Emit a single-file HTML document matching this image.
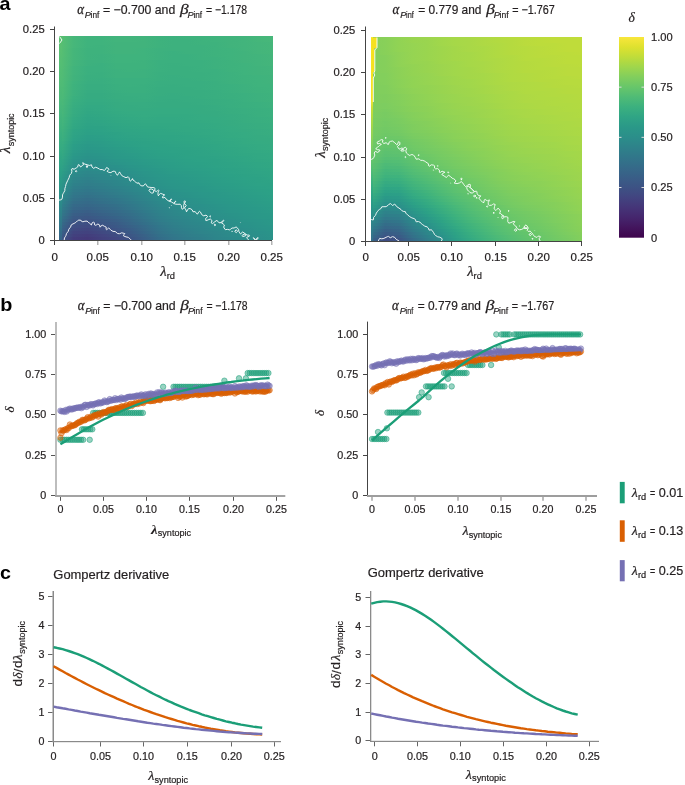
<!DOCTYPE html>
<html><head><meta charset="utf-8"><style>html,body{margin:0;padding:0;background:#fff;overflow:hidden}svg{display:block;will-change:transform}text{-webkit-font-smoothing:antialiased}</style></head>
<body><svg width="685" height="785" viewBox="0 0 685 785"><defs><linearGradient id="h1"><stop offset="0.000" stop-color="#5cc170"/><stop offset="0.067" stop-color="#47b77a"/><stop offset="0.133" stop-color="#41b37c"/><stop offset="0.200" stop-color="#3fb37d"/><stop offset="0.267" stop-color="#42b47c"/><stop offset="0.333" stop-color="#42b47c"/><stop offset="0.400" stop-color="#41b37c"/><stop offset="0.467" stop-color="#3eb27d"/><stop offset="0.533" stop-color="#3db17e"/><stop offset="0.600" stop-color="#3eb27d"/><stop offset="0.667" stop-color="#3eb27d"/><stop offset="0.733" stop-color="#3fb37d"/><stop offset="0.800" stop-color="#41b37c"/><stop offset="0.867" stop-color="#42b47c"/><stop offset="0.933" stop-color="#45b67a"/><stop offset="1.000" stop-color="#47b77a"/></linearGradient><linearGradient id="h2"><stop offset="0.000" stop-color="#5ac071"/><stop offset="0.067" stop-color="#47b77a"/><stop offset="0.133" stop-color="#3fb37d"/><stop offset="0.200" stop-color="#3fb37d"/><stop offset="0.267" stop-color="#42b47c"/><stop offset="0.333" stop-color="#42b47c"/><stop offset="0.400" stop-color="#41b37c"/><stop offset="0.467" stop-color="#3eb27d"/><stop offset="0.533" stop-color="#3db17e"/><stop offset="0.600" stop-color="#3db17e"/><stop offset="0.667" stop-color="#3eb27d"/><stop offset="0.733" stop-color="#3fb37d"/><stop offset="0.800" stop-color="#41b37c"/><stop offset="0.867" stop-color="#42b47c"/><stop offset="0.933" stop-color="#45b67a"/><stop offset="1.000" stop-color="#47b77a"/></linearGradient><linearGradient id="h3"><stop offset="0.000" stop-color="#5ac071"/><stop offset="0.067" stop-color="#47b77a"/><stop offset="0.133" stop-color="#3fb37d"/><stop offset="0.200" stop-color="#3fb37d"/><stop offset="0.267" stop-color="#41b37c"/><stop offset="0.333" stop-color="#41b37c"/><stop offset="0.400" stop-color="#41b37c"/><stop offset="0.467" stop-color="#3eb27d"/><stop offset="0.533" stop-color="#3db17e"/><stop offset="0.600" stop-color="#3db17e"/><stop offset="0.667" stop-color="#3eb27d"/><stop offset="0.733" stop-color="#3eb27d"/><stop offset="0.800" stop-color="#41b37c"/><stop offset="0.867" stop-color="#42b47c"/><stop offset="0.933" stop-color="#44b57b"/><stop offset="1.000" stop-color="#45b67a"/></linearGradient><linearGradient id="h4"><stop offset="0.000" stop-color="#5ac071"/><stop offset="0.067" stop-color="#47b77a"/><stop offset="0.133" stop-color="#3fb37d"/><stop offset="0.200" stop-color="#3eb27d"/><stop offset="0.267" stop-color="#41b37c"/><stop offset="0.333" stop-color="#41b37c"/><stop offset="0.400" stop-color="#41b37c"/><stop offset="0.467" stop-color="#3eb27d"/><stop offset="0.533" stop-color="#3db17e"/><stop offset="0.600" stop-color="#3db17e"/><stop offset="0.667" stop-color="#3db17e"/><stop offset="0.733" stop-color="#3eb27d"/><stop offset="0.800" stop-color="#41b37c"/><stop offset="0.867" stop-color="#42b47c"/><stop offset="0.933" stop-color="#44b57b"/><stop offset="1.000" stop-color="#45b67a"/></linearGradient><linearGradient id="h5"><stop offset="0.000" stop-color="#5ac071"/><stop offset="0.067" stop-color="#45b67a"/><stop offset="0.133" stop-color="#3eb27d"/><stop offset="0.200" stop-color="#3eb27d"/><stop offset="0.267" stop-color="#41b37c"/><stop offset="0.333" stop-color="#41b37c"/><stop offset="0.400" stop-color="#3fb37d"/><stop offset="0.467" stop-color="#3db17e"/><stop offset="0.533" stop-color="#3db17e"/><stop offset="0.600" stop-color="#3db17e"/><stop offset="0.667" stop-color="#3db17e"/><stop offset="0.733" stop-color="#3eb27d"/><stop offset="0.800" stop-color="#3fb37d"/><stop offset="0.867" stop-color="#42b47c"/><stop offset="0.933" stop-color="#44b57b"/><stop offset="1.000" stop-color="#45b67a"/></linearGradient><linearGradient id="h6"><stop offset="0.000" stop-color="#5ac071"/><stop offset="0.067" stop-color="#45b67a"/><stop offset="0.133" stop-color="#3eb27d"/><stop offset="0.200" stop-color="#3eb27d"/><stop offset="0.267" stop-color="#41b37c"/><stop offset="0.333" stop-color="#41b37c"/><stop offset="0.400" stop-color="#3fb37d"/><stop offset="0.467" stop-color="#3db17e"/><stop offset="0.533" stop-color="#3bb07f"/><stop offset="0.600" stop-color="#3db17e"/><stop offset="0.667" stop-color="#3db17e"/><stop offset="0.733" stop-color="#3eb27d"/><stop offset="0.800" stop-color="#3fb37d"/><stop offset="0.867" stop-color="#41b37c"/><stop offset="0.933" stop-color="#44b57b"/><stop offset="1.000" stop-color="#45b67a"/></linearGradient><linearGradient id="h7"><stop offset="0.000" stop-color="#5ac071"/><stop offset="0.067" stop-color="#45b67a"/><stop offset="0.133" stop-color="#3eb27d"/><stop offset="0.200" stop-color="#3db17e"/><stop offset="0.267" stop-color="#3fb37d"/><stop offset="0.333" stop-color="#3fb37d"/><stop offset="0.400" stop-color="#3fb37d"/><stop offset="0.467" stop-color="#3db17e"/><stop offset="0.533" stop-color="#3bb07f"/><stop offset="0.600" stop-color="#3bb07f"/><stop offset="0.667" stop-color="#3db17e"/><stop offset="0.733" stop-color="#3eb27d"/><stop offset="0.800" stop-color="#3fb37d"/><stop offset="0.867" stop-color="#41b37c"/><stop offset="0.933" stop-color="#42b47c"/><stop offset="1.000" stop-color="#44b57b"/></linearGradient><linearGradient id="h8"><stop offset="0.000" stop-color="#58bf72"/><stop offset="0.067" stop-color="#45b67a"/><stop offset="0.133" stop-color="#3eb27d"/><stop offset="0.200" stop-color="#3db17e"/><stop offset="0.267" stop-color="#3fb37d"/><stop offset="0.333" stop-color="#3fb37d"/><stop offset="0.400" stop-color="#3fb37d"/><stop offset="0.467" stop-color="#3db17e"/><stop offset="0.533" stop-color="#3bb07f"/><stop offset="0.600" stop-color="#3bb07f"/><stop offset="0.667" stop-color="#3db17e"/><stop offset="0.733" stop-color="#3db17e"/><stop offset="0.800" stop-color="#3fb37d"/><stop offset="0.867" stop-color="#41b37c"/><stop offset="0.933" stop-color="#42b47c"/><stop offset="1.000" stop-color="#44b57b"/></linearGradient><linearGradient id="h9"><stop offset="0.000" stop-color="#58bf72"/><stop offset="0.067" stop-color="#44b57b"/><stop offset="0.133" stop-color="#3db17e"/><stop offset="0.200" stop-color="#3db17e"/><stop offset="0.267" stop-color="#3fb37d"/><stop offset="0.333" stop-color="#3fb37d"/><stop offset="0.400" stop-color="#3eb27d"/><stop offset="0.467" stop-color="#3bb07f"/><stop offset="0.533" stop-color="#3bb07f"/><stop offset="0.600" stop-color="#3bb07f"/><stop offset="0.667" stop-color="#3bb07f"/><stop offset="0.733" stop-color="#3db17e"/><stop offset="0.800" stop-color="#3eb27d"/><stop offset="0.867" stop-color="#41b37c"/><stop offset="0.933" stop-color="#42b47c"/><stop offset="1.000" stop-color="#44b57b"/></linearGradient><linearGradient id="h10"><stop offset="0.000" stop-color="#58bf72"/><stop offset="0.067" stop-color="#44b57b"/><stop offset="0.133" stop-color="#3db17e"/><stop offset="0.200" stop-color="#3bb07f"/><stop offset="0.267" stop-color="#3eb27d"/><stop offset="0.333" stop-color="#3eb27d"/><stop offset="0.400" stop-color="#3eb27d"/><stop offset="0.467" stop-color="#3bb07f"/><stop offset="0.533" stop-color="#3aaf7f"/><stop offset="0.600" stop-color="#3bb07f"/><stop offset="0.667" stop-color="#3bb07f"/><stop offset="0.733" stop-color="#3db17e"/><stop offset="0.800" stop-color="#3eb27d"/><stop offset="0.867" stop-color="#3fb37d"/><stop offset="0.933" stop-color="#42b47c"/><stop offset="1.000" stop-color="#44b57b"/></linearGradient><linearGradient id="h11"><stop offset="0.000" stop-color="#58bf72"/><stop offset="0.067" stop-color="#42b47c"/><stop offset="0.133" stop-color="#3bb07f"/><stop offset="0.200" stop-color="#3bb07f"/><stop offset="0.267" stop-color="#3eb27d"/><stop offset="0.333" stop-color="#3eb27d"/><stop offset="0.400" stop-color="#3eb27d"/><stop offset="0.467" stop-color="#3bb07f"/><stop offset="0.533" stop-color="#3aaf7f"/><stop offset="0.600" stop-color="#3aaf7f"/><stop offset="0.667" stop-color="#3bb07f"/><stop offset="0.733" stop-color="#3db17e"/><stop offset="0.800" stop-color="#3eb27d"/><stop offset="0.867" stop-color="#3fb37d"/><stop offset="0.933" stop-color="#41b37c"/><stop offset="1.000" stop-color="#42b47c"/></linearGradient><linearGradient id="h12"><stop offset="0.000" stop-color="#56be73"/><stop offset="0.067" stop-color="#42b47c"/><stop offset="0.133" stop-color="#3bb07f"/><stop offset="0.200" stop-color="#3bb07f"/><stop offset="0.267" stop-color="#3db17e"/><stop offset="0.333" stop-color="#3eb27d"/><stop offset="0.400" stop-color="#3db17e"/><stop offset="0.467" stop-color="#3bb07f"/><stop offset="0.533" stop-color="#3aaf7f"/><stop offset="0.600" stop-color="#3aaf7f"/><stop offset="0.667" stop-color="#3bb07f"/><stop offset="0.733" stop-color="#3bb07f"/><stop offset="0.800" stop-color="#3eb27d"/><stop offset="0.867" stop-color="#3fb37d"/><stop offset="0.933" stop-color="#41b37c"/><stop offset="1.000" stop-color="#42b47c"/></linearGradient><linearGradient id="h13"><stop offset="0.000" stop-color="#56be73"/><stop offset="0.067" stop-color="#42b47c"/><stop offset="0.133" stop-color="#3bb07f"/><stop offset="0.200" stop-color="#3aaf7f"/><stop offset="0.267" stop-color="#3db17e"/><stop offset="0.333" stop-color="#3db17e"/><stop offset="0.400" stop-color="#3db17e"/><stop offset="0.467" stop-color="#3aaf7f"/><stop offset="0.533" stop-color="#3aaf7f"/><stop offset="0.600" stop-color="#3aaf7f"/><stop offset="0.667" stop-color="#3aaf7f"/><stop offset="0.733" stop-color="#3bb07f"/><stop offset="0.800" stop-color="#3db17e"/><stop offset="0.867" stop-color="#3fb37d"/><stop offset="0.933" stop-color="#41b37c"/><stop offset="1.000" stop-color="#42b47c"/></linearGradient><linearGradient id="h14"><stop offset="0.000" stop-color="#56be73"/><stop offset="0.067" stop-color="#41b37c"/><stop offset="0.133" stop-color="#3aaf7f"/><stop offset="0.200" stop-color="#3aaf7f"/><stop offset="0.267" stop-color="#3db17e"/><stop offset="0.333" stop-color="#3db17e"/><stop offset="0.400" stop-color="#3db17e"/><stop offset="0.467" stop-color="#3aaf7f"/><stop offset="0.533" stop-color="#39ae80"/><stop offset="0.600" stop-color="#3aaf7f"/><stop offset="0.667" stop-color="#3aaf7f"/><stop offset="0.733" stop-color="#3bb07f"/><stop offset="0.800" stop-color="#3db17e"/><stop offset="0.867" stop-color="#3eb27d"/><stop offset="0.933" stop-color="#3fb37d"/><stop offset="1.000" stop-color="#41b37c"/></linearGradient><linearGradient id="h15"><stop offset="0.000" stop-color="#54be74"/><stop offset="0.067" stop-color="#41b37c"/><stop offset="0.133" stop-color="#3aaf7f"/><stop offset="0.200" stop-color="#39ae80"/><stop offset="0.267" stop-color="#3bb07f"/><stop offset="0.333" stop-color="#3bb07f"/><stop offset="0.400" stop-color="#3bb07f"/><stop offset="0.467" stop-color="#3aaf7f"/><stop offset="0.533" stop-color="#39ae80"/><stop offset="0.600" stop-color="#39ae80"/><stop offset="0.667" stop-color="#3aaf7f"/><stop offset="0.733" stop-color="#3bb07f"/><stop offset="0.800" stop-color="#3db17e"/><stop offset="0.867" stop-color="#3eb27d"/><stop offset="0.933" stop-color="#3fb37d"/><stop offset="1.000" stop-color="#41b37c"/></linearGradient><linearGradient id="h16"><stop offset="0.000" stop-color="#54be74"/><stop offset="0.067" stop-color="#3fb37d"/><stop offset="0.133" stop-color="#39ae80"/><stop offset="0.200" stop-color="#39ae80"/><stop offset="0.267" stop-color="#3bb07f"/><stop offset="0.333" stop-color="#3bb07f"/><stop offset="0.400" stop-color="#3bb07f"/><stop offset="0.467" stop-color="#39ae80"/><stop offset="0.533" stop-color="#39ae80"/><stop offset="0.600" stop-color="#39ae80"/><stop offset="0.667" stop-color="#39ae80"/><stop offset="0.733" stop-color="#3aaf7f"/><stop offset="0.800" stop-color="#3db17e"/><stop offset="0.867" stop-color="#3eb27d"/><stop offset="0.933" stop-color="#3fb37d"/><stop offset="1.000" stop-color="#41b37c"/></linearGradient><linearGradient id="h17"><stop offset="0.000" stop-color="#54be74"/><stop offset="0.067" stop-color="#3eb27d"/><stop offset="0.133" stop-color="#38ad80"/><stop offset="0.200" stop-color="#38ad80"/><stop offset="0.267" stop-color="#3aaf7f"/><stop offset="0.333" stop-color="#3bb07f"/><stop offset="0.400" stop-color="#3aaf7f"/><stop offset="0.467" stop-color="#39ae80"/><stop offset="0.533" stop-color="#38ad80"/><stop offset="0.600" stop-color="#39ae80"/><stop offset="0.667" stop-color="#39ae80"/><stop offset="0.733" stop-color="#3aaf7f"/><stop offset="0.800" stop-color="#3bb07f"/><stop offset="0.867" stop-color="#3db17e"/><stop offset="0.933" stop-color="#3fb37d"/><stop offset="1.000" stop-color="#3fb37d"/></linearGradient><linearGradient id="h18"><stop offset="0.000" stop-color="#52bd74"/><stop offset="0.067" stop-color="#3eb27d"/><stop offset="0.133" stop-color="#38ad80"/><stop offset="0.200" stop-color="#38ad80"/><stop offset="0.267" stop-color="#3aaf7f"/><stop offset="0.333" stop-color="#3aaf7f"/><stop offset="0.400" stop-color="#3aaf7f"/><stop offset="0.467" stop-color="#38ad80"/><stop offset="0.533" stop-color="#38ad80"/><stop offset="0.600" stop-color="#38ad80"/><stop offset="0.667" stop-color="#39ae80"/><stop offset="0.733" stop-color="#3aaf7f"/><stop offset="0.800" stop-color="#3bb07f"/><stop offset="0.867" stop-color="#3db17e"/><stop offset="0.933" stop-color="#3eb27d"/><stop offset="1.000" stop-color="#3fb37d"/></linearGradient><linearGradient id="h19"><stop offset="0.000" stop-color="#52bd74"/><stop offset="0.067" stop-color="#3db17e"/><stop offset="0.133" stop-color="#37ac81"/><stop offset="0.200" stop-color="#37ac81"/><stop offset="0.267" stop-color="#39ae80"/><stop offset="0.333" stop-color="#3aaf7f"/><stop offset="0.400" stop-color="#3aaf7f"/><stop offset="0.467" stop-color="#38ad80"/><stop offset="0.533" stop-color="#38ad80"/><stop offset="0.600" stop-color="#38ad80"/><stop offset="0.667" stop-color="#38ad80"/><stop offset="0.733" stop-color="#39ae80"/><stop offset="0.800" stop-color="#3bb07f"/><stop offset="0.867" stop-color="#3db17e"/><stop offset="0.933" stop-color="#3eb27d"/><stop offset="1.000" stop-color="#3fb37d"/></linearGradient><linearGradient id="h20"><stop offset="0.000" stop-color="#51bc75"/><stop offset="0.067" stop-color="#3db17e"/><stop offset="0.133" stop-color="#36ab81"/><stop offset="0.200" stop-color="#36ab81"/><stop offset="0.267" stop-color="#38ad80"/><stop offset="0.333" stop-color="#39ae80"/><stop offset="0.400" stop-color="#39ae80"/><stop offset="0.467" stop-color="#38ad80"/><stop offset="0.533" stop-color="#37ac81"/><stop offset="0.600" stop-color="#38ad80"/><stop offset="0.667" stop-color="#38ad80"/><stop offset="0.733" stop-color="#39ae80"/><stop offset="0.800" stop-color="#3aaf7f"/><stop offset="0.867" stop-color="#3bb07f"/><stop offset="0.933" stop-color="#3db17e"/><stop offset="1.000" stop-color="#3eb27d"/></linearGradient><linearGradient id="h21"><stop offset="0.000" stop-color="#51bc75"/><stop offset="0.067" stop-color="#3bb07f"/><stop offset="0.133" stop-color="#36ab81"/><stop offset="0.200" stop-color="#36ab81"/><stop offset="0.267" stop-color="#38ad80"/><stop offset="0.333" stop-color="#38ad80"/><stop offset="0.400" stop-color="#39ae80"/><stop offset="0.467" stop-color="#37ac81"/><stop offset="0.533" stop-color="#37ac81"/><stop offset="0.600" stop-color="#37ac81"/><stop offset="0.667" stop-color="#38ad80"/><stop offset="0.733" stop-color="#39ae80"/><stop offset="0.800" stop-color="#3aaf7f"/><stop offset="0.867" stop-color="#3bb07f"/><stop offset="0.933" stop-color="#3db17e"/><stop offset="1.000" stop-color="#3eb27d"/></linearGradient><linearGradient id="h22"><stop offset="0.000" stop-color="#4fbb76"/><stop offset="0.067" stop-color="#3aaf7f"/><stop offset="0.133" stop-color="#35ab82"/><stop offset="0.200" stop-color="#35ab82"/><stop offset="0.267" stop-color="#37ac81"/><stop offset="0.333" stop-color="#38ad80"/><stop offset="0.400" stop-color="#38ad80"/><stop offset="0.467" stop-color="#37ac81"/><stop offset="0.533" stop-color="#36ab81"/><stop offset="0.600" stop-color="#37ac81"/><stop offset="0.667" stop-color="#37ac81"/><stop offset="0.733" stop-color="#38ad80"/><stop offset="0.800" stop-color="#39ae80"/><stop offset="0.867" stop-color="#3bb07f"/><stop offset="0.933" stop-color="#3db17e"/><stop offset="1.000" stop-color="#3eb27d"/></linearGradient><linearGradient id="h23"><stop offset="0.000" stop-color="#4fbb76"/><stop offset="0.067" stop-color="#39ae80"/><stop offset="0.133" stop-color="#34aa82"/><stop offset="0.200" stop-color="#34aa82"/><stop offset="0.267" stop-color="#36ab81"/><stop offset="0.333" stop-color="#37ac81"/><stop offset="0.400" stop-color="#37ac81"/><stop offset="0.467" stop-color="#36ab81"/><stop offset="0.533" stop-color="#36ab81"/><stop offset="0.600" stop-color="#36ab81"/><stop offset="0.667" stop-color="#37ac81"/><stop offset="0.733" stop-color="#38ad80"/><stop offset="0.800" stop-color="#39ae80"/><stop offset="0.867" stop-color="#3aaf7f"/><stop offset="0.933" stop-color="#3bb07f"/><stop offset="1.000" stop-color="#3db17e"/></linearGradient><linearGradient id="h24"><stop offset="0.000" stop-color="#4dba77"/><stop offset="0.067" stop-color="#38ad80"/><stop offset="0.133" stop-color="#33a983"/><stop offset="0.200" stop-color="#33a983"/><stop offset="0.267" stop-color="#36ab81"/><stop offset="0.333" stop-color="#36ab81"/><stop offset="0.400" stop-color="#37ac81"/><stop offset="0.467" stop-color="#36ab81"/><stop offset="0.533" stop-color="#36ab81"/><stop offset="0.600" stop-color="#36ab81"/><stop offset="0.667" stop-color="#36ab81"/><stop offset="0.733" stop-color="#37ac81"/><stop offset="0.800" stop-color="#39ae80"/><stop offset="0.867" stop-color="#3aaf7f"/><stop offset="0.933" stop-color="#3bb07f"/><stop offset="1.000" stop-color="#3db17e"/></linearGradient><linearGradient id="h25"><stop offset="0.000" stop-color="#4cb977"/><stop offset="0.067" stop-color="#37ac81"/><stop offset="0.133" stop-color="#32a883"/><stop offset="0.200" stop-color="#33a983"/><stop offset="0.267" stop-color="#35ab82"/><stop offset="0.333" stop-color="#36ab81"/><stop offset="0.400" stop-color="#36ab81"/><stop offset="0.467" stop-color="#35ab82"/><stop offset="0.533" stop-color="#35ab82"/><stop offset="0.600" stop-color="#35ab82"/><stop offset="0.667" stop-color="#36ab81"/><stop offset="0.733" stop-color="#37ac81"/><stop offset="0.800" stop-color="#38ad80"/><stop offset="0.867" stop-color="#39ae80"/><stop offset="0.933" stop-color="#3aaf7f"/><stop offset="1.000" stop-color="#3bb07f"/></linearGradient><linearGradient id="h26"><stop offset="0.000" stop-color="#4cb977"/><stop offset="0.067" stop-color="#37ac81"/><stop offset="0.133" stop-color="#31a783"/><stop offset="0.200" stop-color="#32a883"/><stop offset="0.267" stop-color="#34aa82"/><stop offset="0.333" stop-color="#35ab82"/><stop offset="0.400" stop-color="#35ab82"/><stop offset="0.467" stop-color="#35ab82"/><stop offset="0.533" stop-color="#35ab82"/><stop offset="0.600" stop-color="#35ab82"/><stop offset="0.667" stop-color="#36ab81"/><stop offset="0.733" stop-color="#36ab81"/><stop offset="0.800" stop-color="#38ad80"/><stop offset="0.867" stop-color="#39ae80"/><stop offset="0.933" stop-color="#3aaf7f"/><stop offset="1.000" stop-color="#3bb07f"/></linearGradient><linearGradient id="h27"><stop offset="0.000" stop-color="#4ab978"/><stop offset="0.067" stop-color="#36ab81"/><stop offset="0.133" stop-color="#30a684"/><stop offset="0.200" stop-color="#31a783"/><stop offset="0.267" stop-color="#33a983"/><stop offset="0.333" stop-color="#34aa82"/><stop offset="0.400" stop-color="#35ab82"/><stop offset="0.467" stop-color="#34aa82"/><stop offset="0.533" stop-color="#34aa82"/><stop offset="0.600" stop-color="#34aa82"/><stop offset="0.667" stop-color="#35ab82"/><stop offset="0.733" stop-color="#36ab81"/><stop offset="0.800" stop-color="#37ac81"/><stop offset="0.867" stop-color="#38ad80"/><stop offset="0.933" stop-color="#3aaf7f"/><stop offset="1.000" stop-color="#3bb07f"/></linearGradient><linearGradient id="h28"><stop offset="0.000" stop-color="#48b879"/><stop offset="0.067" stop-color="#34aa82"/><stop offset="0.133" stop-color="#2fa584"/><stop offset="0.200" stop-color="#30a684"/><stop offset="0.267" stop-color="#32a883"/><stop offset="0.333" stop-color="#33a983"/><stop offset="0.400" stop-color="#34aa82"/><stop offset="0.467" stop-color="#33a983"/><stop offset="0.533" stop-color="#33a983"/><stop offset="0.600" stop-color="#34aa82"/><stop offset="0.667" stop-color="#35ab82"/><stop offset="0.733" stop-color="#35ab82"/><stop offset="0.800" stop-color="#37ac81"/><stop offset="0.867" stop-color="#38ad80"/><stop offset="0.933" stop-color="#39ae80"/><stop offset="1.000" stop-color="#3aaf7f"/></linearGradient><linearGradient id="h29"><stop offset="0.000" stop-color="#48b879"/><stop offset="0.067" stop-color="#33a983"/><stop offset="0.133" stop-color="#2fa485"/><stop offset="0.200" stop-color="#2fa584"/><stop offset="0.267" stop-color="#31a783"/><stop offset="0.333" stop-color="#32a883"/><stop offset="0.400" stop-color="#33a983"/><stop offset="0.467" stop-color="#33a983"/><stop offset="0.533" stop-color="#33a983"/><stop offset="0.600" stop-color="#33a983"/><stop offset="0.667" stop-color="#34aa82"/><stop offset="0.733" stop-color="#35ab82"/><stop offset="0.800" stop-color="#36ab81"/><stop offset="0.867" stop-color="#38ad80"/><stop offset="0.933" stop-color="#39ae80"/><stop offset="1.000" stop-color="#3aaf7f"/></linearGradient><linearGradient id="h30"><stop offset="0.000" stop-color="#47b77a"/><stop offset="0.067" stop-color="#32a883"/><stop offset="0.133" stop-color="#2ea385"/><stop offset="0.200" stop-color="#2fa485"/><stop offset="0.267" stop-color="#30a684"/><stop offset="0.333" stop-color="#31a783"/><stop offset="0.400" stop-color="#32a883"/><stop offset="0.467" stop-color="#32a883"/><stop offset="0.533" stop-color="#32a883"/><stop offset="0.600" stop-color="#33a983"/><stop offset="0.667" stop-color="#33a983"/><stop offset="0.733" stop-color="#34aa82"/><stop offset="0.800" stop-color="#36ab81"/><stop offset="0.867" stop-color="#37ac81"/><stop offset="0.933" stop-color="#38ad80"/><stop offset="1.000" stop-color="#39ae80"/></linearGradient><linearGradient id="h31"><stop offset="0.000" stop-color="#45b67a"/><stop offset="0.067" stop-color="#31a783"/><stop offset="0.133" stop-color="#2da285"/><stop offset="0.200" stop-color="#2da285"/><stop offset="0.267" stop-color="#2fa584"/><stop offset="0.333" stop-color="#30a684"/><stop offset="0.400" stop-color="#31a783"/><stop offset="0.467" stop-color="#31a783"/><stop offset="0.533" stop-color="#32a883"/><stop offset="0.600" stop-color="#32a883"/><stop offset="0.667" stop-color="#33a983"/><stop offset="0.733" stop-color="#34aa82"/><stop offset="0.800" stop-color="#35ab82"/><stop offset="0.867" stop-color="#37ac81"/><stop offset="0.933" stop-color="#38ad80"/><stop offset="1.000" stop-color="#39ae80"/></linearGradient><linearGradient id="h32"><stop offset="0.000" stop-color="#44b57b"/><stop offset="0.067" stop-color="#2fa584"/><stop offset="0.133" stop-color="#2ca186"/><stop offset="0.200" stop-color="#2da286"/><stop offset="0.267" stop-color="#2fa485"/><stop offset="0.333" stop-color="#2fa584"/><stop offset="0.400" stop-color="#30a684"/><stop offset="0.467" stop-color="#30a684"/><stop offset="0.533" stop-color="#31a783"/><stop offset="0.600" stop-color="#32a883"/><stop offset="0.667" stop-color="#32a883"/><stop offset="0.733" stop-color="#33a983"/><stop offset="0.800" stop-color="#35ab82"/><stop offset="0.867" stop-color="#36ab81"/><stop offset="0.933" stop-color="#37ac81"/><stop offset="1.000" stop-color="#38ad80"/></linearGradient><linearGradient id="h33"><stop offset="0.000" stop-color="#42b47c"/><stop offset="0.067" stop-color="#2fa485"/><stop offset="0.133" stop-color="#2ca086"/><stop offset="0.200" stop-color="#2ca186"/><stop offset="0.267" stop-color="#2da285"/><stop offset="0.333" stop-color="#2fa485"/><stop offset="0.400" stop-color="#2fa584"/><stop offset="0.467" stop-color="#30a684"/><stop offset="0.533" stop-color="#30a684"/><stop offset="0.600" stop-color="#31a783"/><stop offset="0.667" stop-color="#32a883"/><stop offset="0.733" stop-color="#33a983"/><stop offset="0.800" stop-color="#34aa82"/><stop offset="0.867" stop-color="#35ab82"/><stop offset="0.933" stop-color="#37ac81"/><stop offset="1.000" stop-color="#38ad80"/></linearGradient><linearGradient id="h34"><stop offset="0.000" stop-color="#41b37c"/><stop offset="0.067" stop-color="#2ea385"/><stop offset="0.133" stop-color="#2b9e87"/><stop offset="0.200" stop-color="#2c9f87"/><stop offset="0.267" stop-color="#2da286"/><stop offset="0.333" stop-color="#2ea385"/><stop offset="0.400" stop-color="#2fa485"/><stop offset="0.467" stop-color="#2fa584"/><stop offset="0.533" stop-color="#2fa584"/><stop offset="0.600" stop-color="#30a684"/><stop offset="0.667" stop-color="#31a783"/><stop offset="0.733" stop-color="#32a883"/><stop offset="0.800" stop-color="#34aa82"/><stop offset="0.867" stop-color="#35ab82"/><stop offset="0.933" stop-color="#36ab81"/><stop offset="1.000" stop-color="#37ac81"/></linearGradient><linearGradient id="h35"><stop offset="0.000" stop-color="#3fb37d"/><stop offset="0.067" stop-color="#2da286"/><stop offset="0.133" stop-color="#2b9d87"/><stop offset="0.200" stop-color="#2b9e87"/><stop offset="0.267" stop-color="#2ca186"/><stop offset="0.333" stop-color="#2da285"/><stop offset="0.400" stop-color="#2ea385"/><stop offset="0.467" stop-color="#2fa485"/><stop offset="0.533" stop-color="#2fa584"/><stop offset="0.600" stop-color="#30a684"/><stop offset="0.667" stop-color="#30a684"/><stop offset="0.733" stop-color="#32a883"/><stop offset="0.800" stop-color="#33a983"/><stop offset="0.867" stop-color="#34aa82"/><stop offset="0.933" stop-color="#36ab81"/><stop offset="1.000" stop-color="#36ab81"/></linearGradient><linearGradient id="h36"><stop offset="0.000" stop-color="#3db17e"/><stop offset="0.067" stop-color="#2ca086"/><stop offset="0.133" stop-color="#2b9b88"/><stop offset="0.200" stop-color="#2b9c87"/><stop offset="0.267" stop-color="#2c9f87"/><stop offset="0.333" stop-color="#2ca186"/><stop offset="0.400" stop-color="#2da285"/><stop offset="0.467" stop-color="#2ea385"/><stop offset="0.533" stop-color="#2fa485"/><stop offset="0.600" stop-color="#2fa584"/><stop offset="0.667" stop-color="#30a684"/><stop offset="0.733" stop-color="#31a783"/><stop offset="0.800" stop-color="#32a883"/><stop offset="0.867" stop-color="#34aa82"/><stop offset="0.933" stop-color="#35ab82"/><stop offset="1.000" stop-color="#36ab81"/></linearGradient><linearGradient id="h37"><stop offset="0.000" stop-color="#3bb07f"/><stop offset="0.067" stop-color="#2b9e87"/><stop offset="0.133" stop-color="#2a9988"/><stop offset="0.200" stop-color="#2b9b88"/><stop offset="0.267" stop-color="#2b9e87"/><stop offset="0.333" stop-color="#2ca086"/><stop offset="0.400" stop-color="#2da286"/><stop offset="0.467" stop-color="#2da285"/><stop offset="0.533" stop-color="#2ea385"/><stop offset="0.600" stop-color="#2fa485"/><stop offset="0.667" stop-color="#2fa584"/><stop offset="0.733" stop-color="#30a684"/><stop offset="0.800" stop-color="#32a883"/><stop offset="0.867" stop-color="#33a983"/><stop offset="0.933" stop-color="#34aa82"/><stop offset="1.000" stop-color="#35ab82"/></linearGradient><linearGradient id="h38"><stop offset="0.000" stop-color="#3aaf7f"/><stop offset="0.067" stop-color="#2b9d87"/><stop offset="0.133" stop-color="#2a9888"/><stop offset="0.200" stop-color="#2a9988"/><stop offset="0.267" stop-color="#2b9c87"/><stop offset="0.333" stop-color="#2b9e87"/><stop offset="0.400" stop-color="#2ca186"/><stop offset="0.467" stop-color="#2da286"/><stop offset="0.533" stop-color="#2da285"/><stop offset="0.600" stop-color="#2ea385"/><stop offset="0.667" stop-color="#2fa485"/><stop offset="0.733" stop-color="#30a684"/><stop offset="0.800" stop-color="#31a783"/><stop offset="0.867" stop-color="#32a883"/><stop offset="0.933" stop-color="#34aa82"/><stop offset="1.000" stop-color="#35ab82"/></linearGradient><linearGradient id="h39"><stop offset="0.000" stop-color="#38ad80"/><stop offset="0.067" stop-color="#2b9b88"/><stop offset="0.133" stop-color="#2a9689"/><stop offset="0.200" stop-color="#2a9888"/><stop offset="0.267" stop-color="#2a9a88"/><stop offset="0.333" stop-color="#2b9d87"/><stop offset="0.400" stop-color="#2c9f87"/><stop offset="0.467" stop-color="#2ca186"/><stop offset="0.533" stop-color="#2da286"/><stop offset="0.600" stop-color="#2da285"/><stop offset="0.667" stop-color="#2ea385"/><stop offset="0.733" stop-color="#2fa584"/><stop offset="0.800" stop-color="#30a684"/><stop offset="0.867" stop-color="#32a883"/><stop offset="0.933" stop-color="#33a983"/><stop offset="1.000" stop-color="#34aa82"/></linearGradient><linearGradient id="h40"><stop offset="0.000" stop-color="#37ac81"/><stop offset="0.067" stop-color="#2a9988"/><stop offset="0.133" stop-color="#2a9489"/><stop offset="0.200" stop-color="#2a9689"/><stop offset="0.267" stop-color="#2a9988"/><stop offset="0.333" stop-color="#2b9b88"/><stop offset="0.400" stop-color="#2b9e87"/><stop offset="0.467" stop-color="#2ca086"/><stop offset="0.533" stop-color="#2ca186"/><stop offset="0.600" stop-color="#2da285"/><stop offset="0.667" stop-color="#2ea385"/><stop offset="0.733" stop-color="#2fa485"/><stop offset="0.800" stop-color="#30a684"/><stop offset="0.867" stop-color="#31a783"/><stop offset="0.933" stop-color="#32a883"/><stop offset="1.000" stop-color="#33a983"/></linearGradient><linearGradient id="h41"><stop offset="0.000" stop-color="#35ab82"/><stop offset="0.067" stop-color="#2a9789"/><stop offset="0.133" stop-color="#2a9289"/><stop offset="0.200" stop-color="#2a9489"/><stop offset="0.267" stop-color="#2a9888"/><stop offset="0.333" stop-color="#2a9a88"/><stop offset="0.400" stop-color="#2b9d87"/><stop offset="0.467" stop-color="#2c9f87"/><stop offset="0.533" stop-color="#2ca086"/><stop offset="0.600" stop-color="#2da286"/><stop offset="0.667" stop-color="#2da285"/><stop offset="0.733" stop-color="#2ea385"/><stop offset="0.800" stop-color="#2fa584"/><stop offset="0.867" stop-color="#30a684"/><stop offset="0.933" stop-color="#32a883"/><stop offset="1.000" stop-color="#33a983"/></linearGradient><linearGradient id="h42"><stop offset="0.000" stop-color="#33a983"/><stop offset="0.067" stop-color="#2a9589"/><stop offset="0.133" stop-color="#2b908a"/><stop offset="0.200" stop-color="#2a9289"/><stop offset="0.267" stop-color="#2a9689"/><stop offset="0.333" stop-color="#2a9888"/><stop offset="0.400" stop-color="#2b9b88"/><stop offset="0.467" stop-color="#2b9d87"/><stop offset="0.533" stop-color="#2c9f87"/><stop offset="0.600" stop-color="#2ca186"/><stop offset="0.667" stop-color="#2da286"/><stop offset="0.733" stop-color="#2da285"/><stop offset="0.800" stop-color="#2fa485"/><stop offset="0.867" stop-color="#30a684"/><stop offset="0.933" stop-color="#31a783"/><stop offset="1.000" stop-color="#32a883"/></linearGradient><linearGradient id="h43"><stop offset="0.000" stop-color="#32a883"/><stop offset="0.067" stop-color="#2a9389"/><stop offset="0.133" stop-color="#2b8f8a"/><stop offset="0.200" stop-color="#2b908a"/><stop offset="0.267" stop-color="#2a9489"/><stop offset="0.333" stop-color="#2a9789"/><stop offset="0.400" stop-color="#2a9a88"/><stop offset="0.467" stop-color="#2b9c87"/><stop offset="0.533" stop-color="#2b9e87"/><stop offset="0.600" stop-color="#2ca086"/><stop offset="0.667" stop-color="#2ca186"/><stop offset="0.733" stop-color="#2da285"/><stop offset="0.800" stop-color="#2ea385"/><stop offset="0.867" stop-color="#2fa584"/><stop offset="0.933" stop-color="#30a684"/><stop offset="1.000" stop-color="#31a783"/></linearGradient><linearGradient id="h44"><stop offset="0.000" stop-color="#30a684"/><stop offset="0.067" stop-color="#2b908a"/><stop offset="0.133" stop-color="#2b8c8a"/><stop offset="0.200" stop-color="#2b8f8a"/><stop offset="0.267" stop-color="#2a918a"/><stop offset="0.333" stop-color="#2a9589"/><stop offset="0.400" stop-color="#2a9888"/><stop offset="0.467" stop-color="#2b9b88"/><stop offset="0.533" stop-color="#2b9d87"/><stop offset="0.600" stop-color="#2c9f87"/><stop offset="0.667" stop-color="#2ca086"/><stop offset="0.733" stop-color="#2da286"/><stop offset="0.800" stop-color="#2ea385"/><stop offset="0.867" stop-color="#2fa485"/><stop offset="0.933" stop-color="#30a684"/><stop offset="1.000" stop-color="#31a783"/></linearGradient><linearGradient id="h45"><stop offset="0.000" stop-color="#2fa485"/><stop offset="0.067" stop-color="#2b8f8a"/><stop offset="0.133" stop-color="#2c8a8a"/><stop offset="0.200" stop-color="#2b8d8a"/><stop offset="0.267" stop-color="#2b8f8a"/><stop offset="0.333" stop-color="#2a9389"/><stop offset="0.400" stop-color="#2a9789"/><stop offset="0.467" stop-color="#2a9988"/><stop offset="0.533" stop-color="#2b9c87"/><stop offset="0.600" stop-color="#2b9e87"/><stop offset="0.667" stop-color="#2c9f87"/><stop offset="0.733" stop-color="#2ca186"/><stop offset="0.800" stop-color="#2da285"/><stop offset="0.867" stop-color="#2ea385"/><stop offset="0.933" stop-color="#2fa584"/><stop offset="1.000" stop-color="#30a684"/></linearGradient><linearGradient id="h46"><stop offset="0.000" stop-color="#2da285"/><stop offset="0.067" stop-color="#2b8c8a"/><stop offset="0.133" stop-color="#2d878a"/><stop offset="0.200" stop-color="#2c8a8a"/><stop offset="0.267" stop-color="#2b8e8a"/><stop offset="0.333" stop-color="#2a918a"/><stop offset="0.400" stop-color="#2a9589"/><stop offset="0.467" stop-color="#2a9888"/><stop offset="0.533" stop-color="#2b9b88"/><stop offset="0.600" stop-color="#2b9c87"/><stop offset="0.667" stop-color="#2b9e87"/><stop offset="0.733" stop-color="#2ca086"/><stop offset="0.800" stop-color="#2da286"/><stop offset="0.867" stop-color="#2ea385"/><stop offset="0.933" stop-color="#2fa485"/><stop offset="1.000" stop-color="#2fa584"/></linearGradient><linearGradient id="h47"><stop offset="0.000" stop-color="#2ca086"/><stop offset="0.067" stop-color="#2c898a"/><stop offset="0.133" stop-color="#2d858a"/><stop offset="0.200" stop-color="#2d878a"/><stop offset="0.267" stop-color="#2c8b8a"/><stop offset="0.333" stop-color="#2b8f8a"/><stop offset="0.400" stop-color="#2a9489"/><stop offset="0.467" stop-color="#2a9789"/><stop offset="0.533" stop-color="#2a9988"/><stop offset="0.600" stop-color="#2b9b88"/><stop offset="0.667" stop-color="#2b9d87"/><stop offset="0.733" stop-color="#2c9f87"/><stop offset="0.800" stop-color="#2ca186"/><stop offset="0.867" stop-color="#2da285"/><stop offset="0.933" stop-color="#2ea385"/><stop offset="1.000" stop-color="#2fa584"/></linearGradient><linearGradient id="h48"><stop offset="0.000" stop-color="#2b9e87"/><stop offset="0.067" stop-color="#2d868a"/><stop offset="0.133" stop-color="#2e828a"/><stop offset="0.200" stop-color="#2d868a"/><stop offset="0.267" stop-color="#2c898a"/><stop offset="0.333" stop-color="#2b8e8a"/><stop offset="0.400" stop-color="#2a9289"/><stop offset="0.467" stop-color="#2a9689"/><stop offset="0.533" stop-color="#2a9888"/><stop offset="0.600" stop-color="#2a9a88"/><stop offset="0.667" stop-color="#2b9c87"/><stop offset="0.733" stop-color="#2b9e87"/><stop offset="0.800" stop-color="#2ca086"/><stop offset="0.867" stop-color="#2da286"/><stop offset="0.933" stop-color="#2da285"/><stop offset="1.000" stop-color="#2fa485"/></linearGradient><linearGradient id="h49"><stop offset="0.000" stop-color="#2b9c87"/><stop offset="0.067" stop-color="#2e848a"/><stop offset="0.133" stop-color="#2f7f8a"/><stop offset="0.200" stop-color="#2e838a"/><stop offset="0.267" stop-color="#2d868a"/><stop offset="0.333" stop-color="#2c8b8a"/><stop offset="0.400" stop-color="#2b908a"/><stop offset="0.467" stop-color="#2a9489"/><stop offset="0.533" stop-color="#2a9789"/><stop offset="0.600" stop-color="#2a9988"/><stop offset="0.667" stop-color="#2b9b88"/><stop offset="0.733" stop-color="#2b9d87"/><stop offset="0.800" stop-color="#2c9f87"/><stop offset="0.867" stop-color="#2ca186"/><stop offset="0.933" stop-color="#2da285"/><stop offset="1.000" stop-color="#2ea385"/></linearGradient><linearGradient id="h50"><stop offset="0.000" stop-color="#2a9988"/><stop offset="0.067" stop-color="#2e818a"/><stop offset="0.133" stop-color="#307d8a"/><stop offset="0.200" stop-color="#2f808a"/><stop offset="0.267" stop-color="#2d858a"/><stop offset="0.333" stop-color="#2c898a"/><stop offset="0.400" stop-color="#2b8f8a"/><stop offset="0.467" stop-color="#2a9389"/><stop offset="0.533" stop-color="#2a9689"/><stop offset="0.600" stop-color="#2a9888"/><stop offset="0.667" stop-color="#2a9a88"/><stop offset="0.733" stop-color="#2b9c87"/><stop offset="0.800" stop-color="#2b9e87"/><stop offset="0.867" stop-color="#2ca086"/><stop offset="0.933" stop-color="#2da286"/><stop offset="1.000" stop-color="#2da285"/></linearGradient><linearGradient id="h51"><stop offset="0.000" stop-color="#2a9789"/><stop offset="0.067" stop-color="#2f7e8a"/><stop offset="0.133" stop-color="#307a8a"/><stop offset="0.200" stop-color="#2f7e8a"/><stop offset="0.267" stop-color="#2e828a"/><stop offset="0.333" stop-color="#2d868a"/><stop offset="0.400" stop-color="#2b8c8a"/><stop offset="0.467" stop-color="#2a918a"/><stop offset="0.533" stop-color="#2a9589"/><stop offset="0.600" stop-color="#2a9789"/><stop offset="0.667" stop-color="#2a9888"/><stop offset="0.733" stop-color="#2b9b88"/><stop offset="0.800" stop-color="#2b9d87"/><stop offset="0.867" stop-color="#2c9f87"/><stop offset="0.933" stop-color="#2ca186"/><stop offset="1.000" stop-color="#2da286"/></linearGradient><linearGradient id="h52"><stop offset="0.000" stop-color="#2a9589"/><stop offset="0.067" stop-color="#307b8a"/><stop offset="0.133" stop-color="#31778a"/><stop offset="0.200" stop-color="#307b8a"/><stop offset="0.267" stop-color="#2f7f8a"/><stop offset="0.333" stop-color="#2d858a"/><stop offset="0.400" stop-color="#2c8a8a"/><stop offset="0.467" stop-color="#2b8f8a"/><stop offset="0.533" stop-color="#2a9389"/><stop offset="0.600" stop-color="#2a9689"/><stop offset="0.667" stop-color="#2a9888"/><stop offset="0.733" stop-color="#2a9a88"/><stop offset="0.800" stop-color="#2b9c87"/><stop offset="0.867" stop-color="#2b9e87"/><stop offset="0.933" stop-color="#2ca086"/><stop offset="1.000" stop-color="#2ca186"/></linearGradient><linearGradient id="h53"><stop offset="0.000" stop-color="#2a9289"/><stop offset="0.067" stop-color="#31788a"/><stop offset="0.133" stop-color="#32748a"/><stop offset="0.200" stop-color="#31788a"/><stop offset="0.267" stop-color="#307d8a"/><stop offset="0.333" stop-color="#2e828a"/><stop offset="0.400" stop-color="#2c888a"/><stop offset="0.467" stop-color="#2b8e8a"/><stop offset="0.533" stop-color="#2a918a"/><stop offset="0.600" stop-color="#2a9489"/><stop offset="0.667" stop-color="#2a9789"/><stop offset="0.733" stop-color="#2a9888"/><stop offset="0.800" stop-color="#2b9b88"/><stop offset="0.867" stop-color="#2b9d87"/><stop offset="0.933" stop-color="#2c9f87"/><stop offset="1.000" stop-color="#2ca186"/></linearGradient><linearGradient id="h54"><stop offset="0.000" stop-color="#2b8f8a"/><stop offset="0.067" stop-color="#32758a"/><stop offset="0.133" stop-color="#337189"/><stop offset="0.200" stop-color="#32758a"/><stop offset="0.267" stop-color="#307a8a"/><stop offset="0.333" stop-color="#2f7f8a"/><stop offset="0.400" stop-color="#2d868a"/><stop offset="0.467" stop-color="#2b8c8a"/><stop offset="0.533" stop-color="#2b908a"/><stop offset="0.600" stop-color="#2a9389"/><stop offset="0.667" stop-color="#2a9689"/><stop offset="0.733" stop-color="#2a9888"/><stop offset="0.800" stop-color="#2a9a88"/><stop offset="0.867" stop-color="#2b9c87"/><stop offset="0.933" stop-color="#2b9e87"/><stop offset="1.000" stop-color="#2ca086"/></linearGradient><linearGradient id="h55"><stop offset="0.000" stop-color="#2b8c8a"/><stop offset="0.067" stop-color="#337289"/><stop offset="0.133" stop-color="#346d89"/><stop offset="0.200" stop-color="#337289"/><stop offset="0.267" stop-color="#31768a"/><stop offset="0.333" stop-color="#307d8a"/><stop offset="0.400" stop-color="#2e848a"/><stop offset="0.467" stop-color="#2c8a8a"/><stop offset="0.533" stop-color="#2b8f8a"/><stop offset="0.600" stop-color="#2a918a"/><stop offset="0.667" stop-color="#2a9489"/><stop offset="0.733" stop-color="#2a9789"/><stop offset="0.800" stop-color="#2a9988"/><stop offset="0.867" stop-color="#2b9b88"/><stop offset="0.933" stop-color="#2b9d87"/><stop offset="1.000" stop-color="#2c9f87"/></linearGradient><linearGradient id="h56"><stop offset="0.000" stop-color="#2c898a"/><stop offset="0.067" stop-color="#346e89"/><stop offset="0.133" stop-color="#356a89"/><stop offset="0.200" stop-color="#336f89"/><stop offset="0.267" stop-color="#32748a"/><stop offset="0.333" stop-color="#307a8a"/><stop offset="0.400" stop-color="#2e818a"/><stop offset="0.467" stop-color="#2c888a"/><stop offset="0.533" stop-color="#2b8d8a"/><stop offset="0.600" stop-color="#2b908a"/><stop offset="0.667" stop-color="#2a9389"/><stop offset="0.733" stop-color="#2a9689"/><stop offset="0.800" stop-color="#2a9888"/><stop offset="0.867" stop-color="#2a9a88"/><stop offset="0.933" stop-color="#2b9c87"/><stop offset="1.000" stop-color="#2b9e87"/></linearGradient><linearGradient id="h57"><stop offset="0.000" stop-color="#2d868a"/><stop offset="0.067" stop-color="#356a89"/><stop offset="0.133" stop-color="#366788"/><stop offset="0.200" stop-color="#356b89"/><stop offset="0.267" stop-color="#337089"/><stop offset="0.333" stop-color="#31778a"/><stop offset="0.400" stop-color="#2f7f8a"/><stop offset="0.467" stop-color="#2d868a"/><stop offset="0.533" stop-color="#2c8b8a"/><stop offset="0.600" stop-color="#2b8f8a"/><stop offset="0.667" stop-color="#2a918a"/><stop offset="0.733" stop-color="#2a9489"/><stop offset="0.800" stop-color="#2a9789"/><stop offset="0.867" stop-color="#2a9988"/><stop offset="0.933" stop-color="#2b9b88"/><stop offset="1.000" stop-color="#2b9d87"/></linearGradient><linearGradient id="h58"><stop offset="0.000" stop-color="#2e838a"/><stop offset="0.067" stop-color="#366788"/><stop offset="0.133" stop-color="#376388"/><stop offset="0.200" stop-color="#366888"/><stop offset="0.267" stop-color="#346d89"/><stop offset="0.333" stop-color="#32758a"/><stop offset="0.400" stop-color="#307d8a"/><stop offset="0.467" stop-color="#2e848a"/><stop offset="0.533" stop-color="#2c898a"/><stop offset="0.600" stop-color="#2b8d8a"/><stop offset="0.667" stop-color="#2b908a"/><stop offset="0.733" stop-color="#2a9389"/><stop offset="0.800" stop-color="#2a9689"/><stop offset="0.867" stop-color="#2a9888"/><stop offset="0.933" stop-color="#2a9a88"/><stop offset="1.000" stop-color="#2b9c87"/></linearGradient><linearGradient id="h59"><stop offset="0.000" stop-color="#2f7f8a"/><stop offset="0.067" stop-color="#376388"/><stop offset="0.133" stop-color="#395f87"/><stop offset="0.200" stop-color="#376588"/><stop offset="0.267" stop-color="#356a89"/><stop offset="0.333" stop-color="#337189"/><stop offset="0.400" stop-color="#307a8a"/><stop offset="0.467" stop-color="#2e828a"/><stop offset="0.533" stop-color="#2d878a"/><stop offset="0.600" stop-color="#2b8c8a"/><stop offset="0.667" stop-color="#2b8f8a"/><stop offset="0.733" stop-color="#2a918a"/><stop offset="0.800" stop-color="#2a9589"/><stop offset="0.867" stop-color="#2a9789"/><stop offset="0.933" stop-color="#2a9988"/><stop offset="1.000" stop-color="#2b9b88"/></linearGradient><linearGradient id="h60"><stop offset="0.000" stop-color="#307d8a"/><stop offset="0.067" stop-color="#395f87"/><stop offset="0.133" stop-color="#3a5b86"/><stop offset="0.200" stop-color="#386187"/><stop offset="0.267" stop-color="#366788"/><stop offset="0.333" stop-color="#346e89"/><stop offset="0.400" stop-color="#31778a"/><stop offset="0.467" stop-color="#2f808a"/><stop offset="0.533" stop-color="#2d868a"/><stop offset="0.600" stop-color="#2c8a8a"/><stop offset="0.667" stop-color="#2b8d8a"/><stop offset="0.733" stop-color="#2b908a"/><stop offset="0.800" stop-color="#2a9389"/><stop offset="0.867" stop-color="#2a9689"/><stop offset="0.933" stop-color="#2a9888"/><stop offset="1.000" stop-color="#2a9a88"/></linearGradient><linearGradient id="h61"><stop offset="0.000" stop-color="#31798a"/><stop offset="0.067" stop-color="#3a5b86"/><stop offset="0.133" stop-color="#3c5785"/><stop offset="0.200" stop-color="#395d87"/><stop offset="0.267" stop-color="#376388"/><stop offset="0.333" stop-color="#356b89"/><stop offset="0.400" stop-color="#32758a"/><stop offset="0.467" stop-color="#2f7e8a"/><stop offset="0.533" stop-color="#2e848a"/><stop offset="0.600" stop-color="#2c888a"/><stop offset="0.667" stop-color="#2b8c8a"/><stop offset="0.733" stop-color="#2b8f8a"/><stop offset="0.800" stop-color="#2a9289"/><stop offset="0.867" stop-color="#2a9589"/><stop offset="0.933" stop-color="#2a9888"/><stop offset="1.000" stop-color="#2a9988"/></linearGradient><linearGradient id="h62"><stop offset="0.000" stop-color="#32758a"/><stop offset="0.067" stop-color="#3c5785"/><stop offset="0.133" stop-color="#3d5384"/><stop offset="0.200" stop-color="#3b5986"/><stop offset="0.267" stop-color="#395f87"/><stop offset="0.333" stop-color="#366888"/><stop offset="0.400" stop-color="#337289"/><stop offset="0.467" stop-color="#307c8a"/><stop offset="0.533" stop-color="#2e828a"/><stop offset="0.600" stop-color="#2d868a"/><stop offset="0.667" stop-color="#2c8a8a"/><stop offset="0.733" stop-color="#2b8e8a"/><stop offset="0.800" stop-color="#2b908a"/><stop offset="0.867" stop-color="#2a9489"/><stop offset="0.933" stop-color="#2a9689"/><stop offset="1.000" stop-color="#2a9888"/></linearGradient><linearGradient id="h63"><stop offset="0.000" stop-color="#337189"/><stop offset="0.067" stop-color="#3d5284"/><stop offset="0.133" stop-color="#3e4f83"/><stop offset="0.200" stop-color="#3c5585"/><stop offset="0.267" stop-color="#3a5b86"/><stop offset="0.333" stop-color="#376588"/><stop offset="0.400" stop-color="#336f89"/><stop offset="0.467" stop-color="#31798a"/><stop offset="0.533" stop-color="#2f808a"/><stop offset="0.600" stop-color="#2d858a"/><stop offset="0.667" stop-color="#2c888a"/><stop offset="0.733" stop-color="#2b8c8a"/><stop offset="0.800" stop-color="#2b8f8a"/><stop offset="0.867" stop-color="#2a9289"/><stop offset="0.933" stop-color="#2a9589"/><stop offset="1.000" stop-color="#2a9888"/></linearGradient><linearGradient id="h64"><stop offset="0.000" stop-color="#346d89"/><stop offset="0.067" stop-color="#3f4e83"/><stop offset="0.133" stop-color="#404b82"/><stop offset="0.200" stop-color="#3e5184"/><stop offset="0.267" stop-color="#3b5886"/><stop offset="0.333" stop-color="#386187"/><stop offset="0.400" stop-color="#356b89"/><stop offset="0.467" stop-color="#31768a"/><stop offset="0.533" stop-color="#2f7e8a"/><stop offset="0.600" stop-color="#2e838a"/><stop offset="0.667" stop-color="#2d868a"/><stop offset="0.733" stop-color="#2c8b8a"/><stop offset="0.800" stop-color="#2b8e8a"/><stop offset="0.867" stop-color="#2a918a"/><stop offset="0.933" stop-color="#2a9489"/><stop offset="1.000" stop-color="#2a9689"/></linearGradient><linearGradient id="h65"><stop offset="0.000" stop-color="#356a89"/><stop offset="0.067" stop-color="#404a82"/><stop offset="0.133" stop-color="#414680"/><stop offset="0.200" stop-color="#3f4d83"/><stop offset="0.267" stop-color="#3d5485"/><stop offset="0.333" stop-color="#395d87"/><stop offset="0.400" stop-color="#366988"/><stop offset="0.467" stop-color="#32748a"/><stop offset="0.533" stop-color="#307c8a"/><stop offset="0.600" stop-color="#2e818a"/><stop offset="0.667" stop-color="#2d858a"/><stop offset="0.733" stop-color="#2c898a"/><stop offset="0.800" stop-color="#2b8d8a"/><stop offset="0.867" stop-color="#2b8f8a"/><stop offset="0.933" stop-color="#2a9389"/><stop offset="1.000" stop-color="#2a9589"/></linearGradient><linearGradient id="h66"><stop offset="0.000" stop-color="#366688"/><stop offset="0.067" stop-color="#414580"/><stop offset="0.133" stop-color="#42427f"/><stop offset="0.200" stop-color="#404981"/><stop offset="0.267" stop-color="#3e5084"/><stop offset="0.333" stop-color="#3a5a86"/><stop offset="0.400" stop-color="#366688"/><stop offset="0.467" stop-color="#337289"/><stop offset="0.533" stop-color="#307a8a"/><stop offset="0.600" stop-color="#2f7f8a"/><stop offset="0.667" stop-color="#2e848a"/><stop offset="0.733" stop-color="#2d878a"/><stop offset="0.800" stop-color="#2c8b8a"/><stop offset="0.867" stop-color="#2b8f8a"/><stop offset="0.933" stop-color="#2a918a"/><stop offset="1.000" stop-color="#2a9489"/></linearGradient><linearGradient id="h67"><stop offset="0.000" stop-color="#386187"/><stop offset="0.067" stop-color="#42417e"/><stop offset="0.133" stop-color="#433d7c"/><stop offset="0.200" stop-color="#424480"/><stop offset="0.267" stop-color="#3f4c82"/><stop offset="0.333" stop-color="#3c5685"/><stop offset="0.400" stop-color="#386287"/><stop offset="0.467" stop-color="#336f89"/><stop offset="0.533" stop-color="#31778a"/><stop offset="0.600" stop-color="#307d8a"/><stop offset="0.667" stop-color="#2e818a"/><stop offset="0.733" stop-color="#2d868a"/><stop offset="0.800" stop-color="#2c8a8a"/><stop offset="0.867" stop-color="#2b8e8a"/><stop offset="0.933" stop-color="#2b908a"/><stop offset="1.000" stop-color="#2a9389"/></linearGradient><linearGradient id="h68"><stop offset="0.000" stop-color="#395d87"/><stop offset="0.067" stop-color="#433c7c"/><stop offset="0.133" stop-color="#44397a"/><stop offset="0.200" stop-color="#42417e"/><stop offset="0.267" stop-color="#414781"/><stop offset="0.333" stop-color="#3d5284"/><stop offset="0.400" stop-color="#395f87"/><stop offset="0.467" stop-color="#346c89"/><stop offset="0.533" stop-color="#32758a"/><stop offset="0.600" stop-color="#307b8a"/><stop offset="0.667" stop-color="#2f7f8a"/><stop offset="0.733" stop-color="#2d858a"/><stop offset="0.800" stop-color="#2c888a"/><stop offset="0.867" stop-color="#2b8c8a"/><stop offset="0.933" stop-color="#2b8f8a"/><stop offset="1.000" stop-color="#2a9289"/></linearGradient><linearGradient id="h69" x1="0" x2="0" y1="0" y2="1"><stop offset="0.000" stop-color="#5cc170"/><stop offset="0.034" stop-color="#5ac071"/><stop offset="0.069" stop-color="#58bf72"/><stop offset="0.103" stop-color="#56be73"/><stop offset="0.138" stop-color="#54be74"/><stop offset="0.172" stop-color="#52bd74"/><stop offset="0.207" stop-color="#51bc75"/><stop offset="0.241" stop-color="#4fbb76"/><stop offset="0.276" stop-color="#4cb977"/><stop offset="0.310" stop-color="#4ab978"/><stop offset="0.345" stop-color="#47b77a"/><stop offset="0.379" stop-color="#44b57b"/><stop offset="0.414" stop-color="#41b37c"/><stop offset="0.448" stop-color="#3eb27d"/><stop offset="0.483" stop-color="#3aaf7f"/><stop offset="0.517" stop-color="#38ad80"/><stop offset="0.552" stop-color="#35ab82"/><stop offset="0.586" stop-color="#31a783"/><stop offset="0.621" stop-color="#2fa485"/><stop offset="0.655" stop-color="#2ca186"/><stop offset="0.690" stop-color="#2b9d87"/><stop offset="0.724" stop-color="#2a9888"/><stop offset="0.759" stop-color="#2a9489"/><stop offset="0.793" stop-color="#2b8f8a"/><stop offset="0.828" stop-color="#2c898a"/><stop offset="0.862" stop-color="#2e838a"/><stop offset="0.897" stop-color="#307c8a"/><stop offset="0.931" stop-color="#32758a"/><stop offset="0.966" stop-color="#346c89"/><stop offset="1.000" stop-color="#376388"/></linearGradient><clipPath id="clipA1"><rect x="59" y="36" width="214" height="204"/></clipPath><linearGradient id="h70"><stop offset="0.000" stop-color="#85cf5b"/><stop offset="0.067" stop-color="#88d059"/><stop offset="0.133" stop-color="#91d354"/><stop offset="0.200" stop-color="#98d450"/><stop offset="0.267" stop-color="#9dd54e"/><stop offset="0.333" stop-color="#a1d74b"/><stop offset="0.400" stop-color="#a6d848"/><stop offset="0.467" stop-color="#a9d847"/><stop offset="0.533" stop-color="#aed944"/><stop offset="0.600" stop-color="#b2da41"/><stop offset="0.667" stop-color="#b7db3e"/><stop offset="0.733" stop-color="#badb3d"/><stop offset="0.800" stop-color="#bcdc3b"/><stop offset="0.867" stop-color="#bfdc3a"/><stop offset="0.933" stop-color="#bfdc3a"/><stop offset="1.000" stop-color="#c1dd38"/></linearGradient><linearGradient id="h71"><stop offset="0.000" stop-color="#85cf5b"/><stop offset="0.067" stop-color="#88d059"/><stop offset="0.133" stop-color="#91d354"/><stop offset="0.200" stop-color="#98d450"/><stop offset="0.267" stop-color="#9ad54f"/><stop offset="0.333" stop-color="#a1d74b"/><stop offset="0.400" stop-color="#a6d848"/><stop offset="0.467" stop-color="#a9d847"/><stop offset="0.533" stop-color="#aed944"/><stop offset="0.600" stop-color="#b2da41"/><stop offset="0.667" stop-color="#b5da3f"/><stop offset="0.733" stop-color="#badb3d"/><stop offset="0.800" stop-color="#bcdc3b"/><stop offset="0.867" stop-color="#bfdc3a"/><stop offset="0.933" stop-color="#bfdc3a"/><stop offset="1.000" stop-color="#bfdc3a"/></linearGradient><linearGradient id="h72"><stop offset="0.000" stop-color="#85cf5b"/><stop offset="0.067" stop-color="#88d059"/><stop offset="0.133" stop-color="#91d354"/><stop offset="0.200" stop-color="#96d452"/><stop offset="0.267" stop-color="#9ad54f"/><stop offset="0.333" stop-color="#a1d74b"/><stop offset="0.400" stop-color="#a6d848"/><stop offset="0.467" stop-color="#a9d847"/><stop offset="0.533" stop-color="#aed944"/><stop offset="0.600" stop-color="#b0da42"/><stop offset="0.667" stop-color="#b5da3f"/><stop offset="0.733" stop-color="#badb3d"/><stop offset="0.800" stop-color="#bcdc3b"/><stop offset="0.867" stop-color="#bcdc3b"/><stop offset="0.933" stop-color="#bfdc3a"/><stop offset="1.000" stop-color="#bfdc3a"/></linearGradient><linearGradient id="h73"><stop offset="0.000" stop-color="#83cf5c"/><stop offset="0.067" stop-color="#88d059"/><stop offset="0.133" stop-color="#91d354"/><stop offset="0.200" stop-color="#96d452"/><stop offset="0.267" stop-color="#9ad54f"/><stop offset="0.333" stop-color="#9fd64c"/><stop offset="0.400" stop-color="#a4d749"/><stop offset="0.467" stop-color="#a9d847"/><stop offset="0.533" stop-color="#abd945"/><stop offset="0.600" stop-color="#b0da42"/><stop offset="0.667" stop-color="#b5da3f"/><stop offset="0.733" stop-color="#b7db3e"/><stop offset="0.800" stop-color="#badb3d"/><stop offset="0.867" stop-color="#bcdc3b"/><stop offset="0.933" stop-color="#bfdc3a"/><stop offset="1.000" stop-color="#bfdc3a"/></linearGradient><linearGradient id="h74"><stop offset="0.000" stop-color="#83cf5c"/><stop offset="0.067" stop-color="#88d059"/><stop offset="0.133" stop-color="#91d354"/><stop offset="0.200" stop-color="#96d452"/><stop offset="0.267" stop-color="#9ad54f"/><stop offset="0.333" stop-color="#9fd64c"/><stop offset="0.400" stop-color="#a4d749"/><stop offset="0.467" stop-color="#a9d847"/><stop offset="0.533" stop-color="#abd945"/><stop offset="0.600" stop-color="#b0da42"/><stop offset="0.667" stop-color="#b5da3f"/><stop offset="0.733" stop-color="#b7db3e"/><stop offset="0.800" stop-color="#badb3d"/><stop offset="0.867" stop-color="#bcdc3b"/><stop offset="0.933" stop-color="#bfdc3a"/><stop offset="1.000" stop-color="#bfdc3a"/></linearGradient><linearGradient id="h75"><stop offset="0.000" stop-color="#83cf5c"/><stop offset="0.067" stop-color="#88d059"/><stop offset="0.133" stop-color="#8fd256"/><stop offset="0.200" stop-color="#96d452"/><stop offset="0.267" stop-color="#9ad54f"/><stop offset="0.333" stop-color="#9fd64c"/><stop offset="0.400" stop-color="#a4d749"/><stop offset="0.467" stop-color="#a6d848"/><stop offset="0.533" stop-color="#abd945"/><stop offset="0.600" stop-color="#b0da42"/><stop offset="0.667" stop-color="#b5da3f"/><stop offset="0.733" stop-color="#b7db3e"/><stop offset="0.800" stop-color="#badb3d"/><stop offset="0.867" stop-color="#bcdc3b"/><stop offset="0.933" stop-color="#bcdc3b"/><stop offset="1.000" stop-color="#bfdc3a"/></linearGradient><linearGradient id="h76"><stop offset="0.000" stop-color="#83cf5c"/><stop offset="0.067" stop-color="#85cf5b"/><stop offset="0.133" stop-color="#8fd256"/><stop offset="0.200" stop-color="#96d452"/><stop offset="0.267" stop-color="#9ad54f"/><stop offset="0.333" stop-color="#9fd64c"/><stop offset="0.400" stop-color="#a4d749"/><stop offset="0.467" stop-color="#a6d848"/><stop offset="0.533" stop-color="#abd945"/><stop offset="0.600" stop-color="#b0da42"/><stop offset="0.667" stop-color="#b2da41"/><stop offset="0.733" stop-color="#b7db3e"/><stop offset="0.800" stop-color="#badb3d"/><stop offset="0.867" stop-color="#badb3d"/><stop offset="0.933" stop-color="#bcdc3b"/><stop offset="1.000" stop-color="#bcdc3b"/></linearGradient><linearGradient id="h77"><stop offset="0.000" stop-color="#83cf5c"/><stop offset="0.067" stop-color="#85cf5b"/><stop offset="0.133" stop-color="#8fd256"/><stop offset="0.200" stop-color="#96d452"/><stop offset="0.267" stop-color="#9ad54f"/><stop offset="0.333" stop-color="#9fd64c"/><stop offset="0.400" stop-color="#a4d749"/><stop offset="0.467" stop-color="#a6d848"/><stop offset="0.533" stop-color="#abd945"/><stop offset="0.600" stop-color="#aed944"/><stop offset="0.667" stop-color="#b2da41"/><stop offset="0.733" stop-color="#b7db3e"/><stop offset="0.800" stop-color="#b7db3e"/><stop offset="0.867" stop-color="#badb3d"/><stop offset="0.933" stop-color="#bcdc3b"/><stop offset="1.000" stop-color="#bcdc3b"/></linearGradient><linearGradient id="h78"><stop offset="0.000" stop-color="#83cf5c"/><stop offset="0.067" stop-color="#85cf5b"/><stop offset="0.133" stop-color="#8fd256"/><stop offset="0.200" stop-color="#96d452"/><stop offset="0.267" stop-color="#98d450"/><stop offset="0.333" stop-color="#9fd64c"/><stop offset="0.400" stop-color="#a1d74b"/><stop offset="0.467" stop-color="#a6d848"/><stop offset="0.533" stop-color="#a9d847"/><stop offset="0.600" stop-color="#aed944"/><stop offset="0.667" stop-color="#b2da41"/><stop offset="0.733" stop-color="#b5da3f"/><stop offset="0.800" stop-color="#b7db3e"/><stop offset="0.867" stop-color="#badb3d"/><stop offset="0.933" stop-color="#bcdc3b"/><stop offset="1.000" stop-color="#bcdc3b"/></linearGradient><linearGradient id="h79"><stop offset="0.000" stop-color="#83cf5c"/><stop offset="0.067" stop-color="#85cf5b"/><stop offset="0.133" stop-color="#8fd256"/><stop offset="0.200" stop-color="#93d353"/><stop offset="0.267" stop-color="#98d450"/><stop offset="0.333" stop-color="#9dd54e"/><stop offset="0.400" stop-color="#a1d74b"/><stop offset="0.467" stop-color="#a6d848"/><stop offset="0.533" stop-color="#a9d847"/><stop offset="0.600" stop-color="#aed944"/><stop offset="0.667" stop-color="#b2da41"/><stop offset="0.733" stop-color="#b5da3f"/><stop offset="0.800" stop-color="#b7db3e"/><stop offset="0.867" stop-color="#badb3d"/><stop offset="0.933" stop-color="#badb3d"/><stop offset="1.000" stop-color="#bcdc3b"/></linearGradient><linearGradient id="h80"><stop offset="0.000" stop-color="#83cf5c"/><stop offset="0.067" stop-color="#85cf5b"/><stop offset="0.133" stop-color="#8cd157"/><stop offset="0.200" stop-color="#93d353"/><stop offset="0.267" stop-color="#98d450"/><stop offset="0.333" stop-color="#9dd54e"/><stop offset="0.400" stop-color="#a1d74b"/><stop offset="0.467" stop-color="#a4d749"/><stop offset="0.533" stop-color="#a9d847"/><stop offset="0.600" stop-color="#aed944"/><stop offset="0.667" stop-color="#b2da41"/><stop offset="0.733" stop-color="#b5da3f"/><stop offset="0.800" stop-color="#b7db3e"/><stop offset="0.867" stop-color="#b7db3e"/><stop offset="0.933" stop-color="#badb3d"/><stop offset="1.000" stop-color="#badb3d"/></linearGradient><linearGradient id="h81"><stop offset="0.000" stop-color="#83cf5c"/><stop offset="0.067" stop-color="#85cf5b"/><stop offset="0.133" stop-color="#8cd157"/><stop offset="0.200" stop-color="#93d353"/><stop offset="0.267" stop-color="#98d450"/><stop offset="0.333" stop-color="#9dd54e"/><stop offset="0.400" stop-color="#a1d74b"/><stop offset="0.467" stop-color="#a4d749"/><stop offset="0.533" stop-color="#a9d847"/><stop offset="0.600" stop-color="#aed944"/><stop offset="0.667" stop-color="#b0da42"/><stop offset="0.733" stop-color="#b5da3f"/><stop offset="0.800" stop-color="#b5da3f"/><stop offset="0.867" stop-color="#b7db3e"/><stop offset="0.933" stop-color="#badb3d"/><stop offset="1.000" stop-color="#badb3d"/></linearGradient><linearGradient id="h82"><stop offset="0.000" stop-color="#83cf5c"/><stop offset="0.067" stop-color="#83cf5c"/><stop offset="0.133" stop-color="#8cd157"/><stop offset="0.200" stop-color="#93d353"/><stop offset="0.267" stop-color="#96d452"/><stop offset="0.333" stop-color="#9dd54e"/><stop offset="0.400" stop-color="#a1d74b"/><stop offset="0.467" stop-color="#a4d749"/><stop offset="0.533" stop-color="#a6d848"/><stop offset="0.600" stop-color="#abd945"/><stop offset="0.667" stop-color="#b0da42"/><stop offset="0.733" stop-color="#b2da41"/><stop offset="0.800" stop-color="#b5da3f"/><stop offset="0.867" stop-color="#b7db3e"/><stop offset="0.933" stop-color="#badb3d"/><stop offset="1.000" stop-color="#badb3d"/></linearGradient><linearGradient id="h83"><stop offset="0.000" stop-color="#83cf5c"/><stop offset="0.067" stop-color="#83cf5c"/><stop offset="0.133" stop-color="#8cd157"/><stop offset="0.200" stop-color="#91d354"/><stop offset="0.267" stop-color="#96d452"/><stop offset="0.333" stop-color="#9ad54f"/><stop offset="0.400" stop-color="#9fd64c"/><stop offset="0.467" stop-color="#a4d749"/><stop offset="0.533" stop-color="#a6d848"/><stop offset="0.600" stop-color="#abd945"/><stop offset="0.667" stop-color="#b0da42"/><stop offset="0.733" stop-color="#b2da41"/><stop offset="0.800" stop-color="#b5da3f"/><stop offset="0.867" stop-color="#b7db3e"/><stop offset="0.933" stop-color="#b7db3e"/><stop offset="1.000" stop-color="#badb3d"/></linearGradient><linearGradient id="h84"><stop offset="0.000" stop-color="#83cf5c"/><stop offset="0.067" stop-color="#83cf5c"/><stop offset="0.133" stop-color="#8ad158"/><stop offset="0.200" stop-color="#91d354"/><stop offset="0.267" stop-color="#96d452"/><stop offset="0.333" stop-color="#9ad54f"/><stop offset="0.400" stop-color="#9fd64c"/><stop offset="0.467" stop-color="#a1d74b"/><stop offset="0.533" stop-color="#a6d848"/><stop offset="0.600" stop-color="#abd945"/><stop offset="0.667" stop-color="#b0da42"/><stop offset="0.733" stop-color="#b2da41"/><stop offset="0.800" stop-color="#b5da3f"/><stop offset="0.867" stop-color="#b5da3f"/><stop offset="0.933" stop-color="#b7db3e"/><stop offset="1.000" stop-color="#b7db3e"/></linearGradient><linearGradient id="h85"><stop offset="0.000" stop-color="#81ce5d"/><stop offset="0.067" stop-color="#83cf5c"/><stop offset="0.133" stop-color="#8ad158"/><stop offset="0.200" stop-color="#91d354"/><stop offset="0.267" stop-color="#96d452"/><stop offset="0.333" stop-color="#9ad54f"/><stop offset="0.400" stop-color="#9fd64c"/><stop offset="0.467" stop-color="#a1d74b"/><stop offset="0.533" stop-color="#a6d848"/><stop offset="0.600" stop-color="#abd945"/><stop offset="0.667" stop-color="#aed944"/><stop offset="0.733" stop-color="#b0da42"/><stop offset="0.800" stop-color="#b2da41"/><stop offset="0.867" stop-color="#b5da3f"/><stop offset="0.933" stop-color="#b7db3e"/><stop offset="1.000" stop-color="#b7db3e"/></linearGradient><linearGradient id="h86"><stop offset="0.000" stop-color="#81ce5d"/><stop offset="0.067" stop-color="#81ce5d"/><stop offset="0.133" stop-color="#8ad158"/><stop offset="0.200" stop-color="#91d354"/><stop offset="0.267" stop-color="#93d353"/><stop offset="0.333" stop-color="#98d450"/><stop offset="0.400" stop-color="#9dd54e"/><stop offset="0.467" stop-color="#a1d74b"/><stop offset="0.533" stop-color="#a4d749"/><stop offset="0.600" stop-color="#a9d847"/><stop offset="0.667" stop-color="#aed944"/><stop offset="0.733" stop-color="#b0da42"/><stop offset="0.800" stop-color="#b2da41"/><stop offset="0.867" stop-color="#b5da3f"/><stop offset="0.933" stop-color="#b5da3f"/><stop offset="1.000" stop-color="#b7db3e"/></linearGradient><linearGradient id="h87"><stop offset="0.000" stop-color="#81ce5d"/><stop offset="0.067" stop-color="#81ce5d"/><stop offset="0.133" stop-color="#88d059"/><stop offset="0.200" stop-color="#8fd256"/><stop offset="0.267" stop-color="#93d353"/><stop offset="0.333" stop-color="#98d450"/><stop offset="0.400" stop-color="#9dd54e"/><stop offset="0.467" stop-color="#9fd64c"/><stop offset="0.533" stop-color="#a4d749"/><stop offset="0.600" stop-color="#a9d847"/><stop offset="0.667" stop-color="#aed944"/><stop offset="0.733" stop-color="#b0da42"/><stop offset="0.800" stop-color="#b2da41"/><stop offset="0.867" stop-color="#b2da41"/><stop offset="0.933" stop-color="#b5da3f"/><stop offset="1.000" stop-color="#b5da3f"/></linearGradient><linearGradient id="h88"><stop offset="0.000" stop-color="#81ce5d"/><stop offset="0.067" stop-color="#81ce5d"/><stop offset="0.133" stop-color="#88d059"/><stop offset="0.200" stop-color="#8fd256"/><stop offset="0.267" stop-color="#93d353"/><stop offset="0.333" stop-color="#98d450"/><stop offset="0.400" stop-color="#9dd54e"/><stop offset="0.467" stop-color="#9fd64c"/><stop offset="0.533" stop-color="#a4d749"/><stop offset="0.600" stop-color="#a9d847"/><stop offset="0.667" stop-color="#abd945"/><stop offset="0.733" stop-color="#b0da42"/><stop offset="0.800" stop-color="#b0da42"/><stop offset="0.867" stop-color="#b2da41"/><stop offset="0.933" stop-color="#b5da3f"/><stop offset="1.000" stop-color="#b5da3f"/></linearGradient><linearGradient id="h89"><stop offset="0.000" stop-color="#81ce5d"/><stop offset="0.067" stop-color="#7fcd5e"/><stop offset="0.133" stop-color="#85cf5b"/><stop offset="0.200" stop-color="#8cd157"/><stop offset="0.267" stop-color="#91d354"/><stop offset="0.333" stop-color="#96d452"/><stop offset="0.400" stop-color="#9ad54f"/><stop offset="0.467" stop-color="#9fd64c"/><stop offset="0.533" stop-color="#a1d74b"/><stop offset="0.600" stop-color="#a6d848"/><stop offset="0.667" stop-color="#abd945"/><stop offset="0.733" stop-color="#aed944"/><stop offset="0.800" stop-color="#b0da42"/><stop offset="0.867" stop-color="#b2da41"/><stop offset="0.933" stop-color="#b2da41"/><stop offset="1.000" stop-color="#b5da3f"/></linearGradient><linearGradient id="h90"><stop offset="0.000" stop-color="#81ce5d"/><stop offset="0.067" stop-color="#7fcd5e"/><stop offset="0.133" stop-color="#85cf5b"/><stop offset="0.200" stop-color="#8cd157"/><stop offset="0.267" stop-color="#91d354"/><stop offset="0.333" stop-color="#96d452"/><stop offset="0.400" stop-color="#9ad54f"/><stop offset="0.467" stop-color="#9dd54e"/><stop offset="0.533" stop-color="#a1d74b"/><stop offset="0.600" stop-color="#a6d848"/><stop offset="0.667" stop-color="#abd945"/><stop offset="0.733" stop-color="#aed944"/><stop offset="0.800" stop-color="#b0da42"/><stop offset="0.867" stop-color="#b0da42"/><stop offset="0.933" stop-color="#b2da41"/><stop offset="1.000" stop-color="#b5da3f"/></linearGradient><linearGradient id="h91"><stop offset="0.000" stop-color="#7fcd5e"/><stop offset="0.067" stop-color="#7fcd5e"/><stop offset="0.133" stop-color="#83cf5c"/><stop offset="0.200" stop-color="#8ad158"/><stop offset="0.267" stop-color="#8fd256"/><stop offset="0.333" stop-color="#96d452"/><stop offset="0.400" stop-color="#9ad54f"/><stop offset="0.467" stop-color="#9dd54e"/><stop offset="0.533" stop-color="#a1d74b"/><stop offset="0.600" stop-color="#a6d848"/><stop offset="0.667" stop-color="#a9d847"/><stop offset="0.733" stop-color="#aed944"/><stop offset="0.800" stop-color="#aed944"/><stop offset="0.867" stop-color="#b0da42"/><stop offset="0.933" stop-color="#b2da41"/><stop offset="1.000" stop-color="#b2da41"/></linearGradient><linearGradient id="h92"><stop offset="0.000" stop-color="#7fcd5e"/><stop offset="0.067" stop-color="#7dcd60"/><stop offset="0.133" stop-color="#83cf5c"/><stop offset="0.200" stop-color="#8ad158"/><stop offset="0.267" stop-color="#8fd256"/><stop offset="0.333" stop-color="#93d353"/><stop offset="0.400" stop-color="#98d450"/><stop offset="0.467" stop-color="#9dd54e"/><stop offset="0.533" stop-color="#9fd64c"/><stop offset="0.600" stop-color="#a4d749"/><stop offset="0.667" stop-color="#a9d847"/><stop offset="0.733" stop-color="#abd945"/><stop offset="0.800" stop-color="#aed944"/><stop offset="0.867" stop-color="#b0da42"/><stop offset="0.933" stop-color="#b0da42"/><stop offset="1.000" stop-color="#b2da41"/></linearGradient><linearGradient id="h93"><stop offset="0.000" stop-color="#7fcd5e"/><stop offset="0.067" stop-color="#7dcd60"/><stop offset="0.133" stop-color="#81ce5d"/><stop offset="0.200" stop-color="#88d059"/><stop offset="0.267" stop-color="#8cd157"/><stop offset="0.333" stop-color="#93d353"/><stop offset="0.400" stop-color="#98d450"/><stop offset="0.467" stop-color="#9ad54f"/><stop offset="0.533" stop-color="#9fd64c"/><stop offset="0.600" stop-color="#a4d749"/><stop offset="0.667" stop-color="#a9d847"/><stop offset="0.733" stop-color="#abd945"/><stop offset="0.800" stop-color="#aed944"/><stop offset="0.867" stop-color="#aed944"/><stop offset="0.933" stop-color="#b0da42"/><stop offset="1.000" stop-color="#b2da41"/></linearGradient><linearGradient id="h94"><stop offset="0.000" stop-color="#7fcd5e"/><stop offset="0.067" stop-color="#7acc61"/><stop offset="0.133" stop-color="#81ce5d"/><stop offset="0.200" stop-color="#88d059"/><stop offset="0.267" stop-color="#8cd157"/><stop offset="0.333" stop-color="#91d354"/><stop offset="0.400" stop-color="#96d452"/><stop offset="0.467" stop-color="#9ad54f"/><stop offset="0.533" stop-color="#9dd54e"/><stop offset="0.600" stop-color="#a1d74b"/><stop offset="0.667" stop-color="#a6d848"/><stop offset="0.733" stop-color="#a9d847"/><stop offset="0.800" stop-color="#abd945"/><stop offset="0.867" stop-color="#aed944"/><stop offset="0.933" stop-color="#b0da42"/><stop offset="1.000" stop-color="#b0da42"/></linearGradient><linearGradient id="h95"><stop offset="0.000" stop-color="#7dcd60"/><stop offset="0.067" stop-color="#78cb62"/><stop offset="0.133" stop-color="#7fcd5e"/><stop offset="0.200" stop-color="#85cf5b"/><stop offset="0.267" stop-color="#8ad158"/><stop offset="0.333" stop-color="#91d354"/><stop offset="0.400" stop-color="#96d452"/><stop offset="0.467" stop-color="#98d450"/><stop offset="0.533" stop-color="#9dd54e"/><stop offset="0.600" stop-color="#a1d74b"/><stop offset="0.667" stop-color="#a6d848"/><stop offset="0.733" stop-color="#a9d847"/><stop offset="0.800" stop-color="#abd945"/><stop offset="0.867" stop-color="#aed944"/><stop offset="0.933" stop-color="#aed944"/><stop offset="1.000" stop-color="#b0da42"/></linearGradient><linearGradient id="h96"><stop offset="0.000" stop-color="#7dcd60"/><stop offset="0.067" stop-color="#78cb62"/><stop offset="0.133" stop-color="#7dcd60"/><stop offset="0.200" stop-color="#85cf5b"/><stop offset="0.267" stop-color="#8ad158"/><stop offset="0.333" stop-color="#8fd256"/><stop offset="0.400" stop-color="#93d353"/><stop offset="0.467" stop-color="#98d450"/><stop offset="0.533" stop-color="#9dd54e"/><stop offset="0.600" stop-color="#a1d74b"/><stop offset="0.667" stop-color="#a4d749"/><stop offset="0.733" stop-color="#a9d847"/><stop offset="0.800" stop-color="#a9d847"/><stop offset="0.867" stop-color="#abd945"/><stop offset="0.933" stop-color="#aed944"/><stop offset="1.000" stop-color="#b0da42"/></linearGradient><linearGradient id="h97"><stop offset="0.000" stop-color="#7acc61"/><stop offset="0.067" stop-color="#76cb63"/><stop offset="0.133" stop-color="#7acc61"/><stop offset="0.200" stop-color="#83cf5c"/><stop offset="0.267" stop-color="#88d059"/><stop offset="0.333" stop-color="#8cd157"/><stop offset="0.400" stop-color="#93d353"/><stop offset="0.467" stop-color="#96d452"/><stop offset="0.533" stop-color="#9ad54f"/><stop offset="0.600" stop-color="#9fd64c"/><stop offset="0.667" stop-color="#a4d749"/><stop offset="0.733" stop-color="#a6d848"/><stop offset="0.800" stop-color="#a9d847"/><stop offset="0.867" stop-color="#abd945"/><stop offset="0.933" stop-color="#aed944"/><stop offset="1.000" stop-color="#aed944"/></linearGradient><linearGradient id="h98"><stop offset="0.000" stop-color="#7acc61"/><stop offset="0.067" stop-color="#74ca64"/><stop offset="0.133" stop-color="#7acc61"/><stop offset="0.200" stop-color="#81ce5d"/><stop offset="0.267" stop-color="#85cf5b"/><stop offset="0.333" stop-color="#8cd157"/><stop offset="0.400" stop-color="#91d354"/><stop offset="0.467" stop-color="#96d452"/><stop offset="0.533" stop-color="#9ad54f"/><stop offset="0.600" stop-color="#9fd64c"/><stop offset="0.667" stop-color="#a4d749"/><stop offset="0.733" stop-color="#a6d848"/><stop offset="0.800" stop-color="#a9d847"/><stop offset="0.867" stop-color="#abd945"/><stop offset="0.933" stop-color="#abd945"/><stop offset="1.000" stop-color="#aed944"/></linearGradient><linearGradient id="h99"><stop offset="0.000" stop-color="#7acc61"/><stop offset="0.067" stop-color="#74ca64"/><stop offset="0.133" stop-color="#78cb62"/><stop offset="0.200" stop-color="#7fcd5e"/><stop offset="0.267" stop-color="#85cf5b"/><stop offset="0.333" stop-color="#8ad158"/><stop offset="0.400" stop-color="#8fd256"/><stop offset="0.467" stop-color="#93d353"/><stop offset="0.533" stop-color="#98d450"/><stop offset="0.600" stop-color="#9dd54e"/><stop offset="0.667" stop-color="#a1d74b"/><stop offset="0.733" stop-color="#a4d749"/><stop offset="0.800" stop-color="#a6d848"/><stop offset="0.867" stop-color="#a9d847"/><stop offset="0.933" stop-color="#abd945"/><stop offset="1.000" stop-color="#aed944"/></linearGradient><linearGradient id="h100"><stop offset="0.000" stop-color="#78cb62"/><stop offset="0.067" stop-color="#72c965"/><stop offset="0.133" stop-color="#76cb63"/><stop offset="0.200" stop-color="#7fcd5e"/><stop offset="0.267" stop-color="#83cf5c"/><stop offset="0.333" stop-color="#88d059"/><stop offset="0.400" stop-color="#8fd256"/><stop offset="0.467" stop-color="#93d353"/><stop offset="0.533" stop-color="#98d450"/><stop offset="0.600" stop-color="#9dd54e"/><stop offset="0.667" stop-color="#a1d74b"/><stop offset="0.733" stop-color="#a4d749"/><stop offset="0.800" stop-color="#a6d848"/><stop offset="0.867" stop-color="#a9d847"/><stop offset="0.933" stop-color="#abd945"/><stop offset="1.000" stop-color="#abd945"/></linearGradient><linearGradient id="h101"><stop offset="0.000" stop-color="#76cb63"/><stop offset="0.067" stop-color="#70c966"/><stop offset="0.133" stop-color="#74ca64"/><stop offset="0.200" stop-color="#7dcd60"/><stop offset="0.267" stop-color="#81ce5d"/><stop offset="0.333" stop-color="#88d059"/><stop offset="0.400" stop-color="#8cd157"/><stop offset="0.467" stop-color="#91d354"/><stop offset="0.533" stop-color="#96d452"/><stop offset="0.600" stop-color="#9ad54f"/><stop offset="0.667" stop-color="#9fd64c"/><stop offset="0.733" stop-color="#a1d74b"/><stop offset="0.800" stop-color="#a4d749"/><stop offset="0.867" stop-color="#a6d848"/><stop offset="0.933" stop-color="#a9d847"/><stop offset="1.000" stop-color="#abd945"/></linearGradient><linearGradient id="h102"><stop offset="0.000" stop-color="#76cb63"/><stop offset="0.067" stop-color="#6ec867"/><stop offset="0.133" stop-color="#72c965"/><stop offset="0.200" stop-color="#7acc61"/><stop offset="0.267" stop-color="#7fcd5e"/><stop offset="0.333" stop-color="#85cf5b"/><stop offset="0.400" stop-color="#8ad158"/><stop offset="0.467" stop-color="#8fd256"/><stop offset="0.533" stop-color="#93d353"/><stop offset="0.600" stop-color="#9ad54f"/><stop offset="0.667" stop-color="#9fd64c"/><stop offset="0.733" stop-color="#a1d74b"/><stop offset="0.800" stop-color="#a4d749"/><stop offset="0.867" stop-color="#a6d848"/><stop offset="0.933" stop-color="#a9d847"/><stop offset="1.000" stop-color="#abd945"/></linearGradient><linearGradient id="h103"><stop offset="0.000" stop-color="#74ca64"/><stop offset="0.067" stop-color="#6bc768"/><stop offset="0.133" stop-color="#6ec867"/><stop offset="0.200" stop-color="#78cb62"/><stop offset="0.267" stop-color="#7dcd60"/><stop offset="0.333" stop-color="#83cf5c"/><stop offset="0.400" stop-color="#8ad158"/><stop offset="0.467" stop-color="#8fd256"/><stop offset="0.533" stop-color="#93d353"/><stop offset="0.600" stop-color="#98d450"/><stop offset="0.667" stop-color="#9dd54e"/><stop offset="0.733" stop-color="#9fd64c"/><stop offset="0.800" stop-color="#a1d74b"/><stop offset="0.867" stop-color="#a4d749"/><stop offset="0.933" stop-color="#a6d848"/><stop offset="1.000" stop-color="#a9d847"/></linearGradient><linearGradient id="h104"><stop offset="0.000" stop-color="#72c965"/><stop offset="0.067" stop-color="#67c66a"/><stop offset="0.133" stop-color="#6bc768"/><stop offset="0.200" stop-color="#74ca64"/><stop offset="0.267" stop-color="#7acc61"/><stop offset="0.333" stop-color="#81ce5d"/><stop offset="0.400" stop-color="#88d059"/><stop offset="0.467" stop-color="#8cd157"/><stop offset="0.533" stop-color="#91d354"/><stop offset="0.600" stop-color="#96d452"/><stop offset="0.667" stop-color="#9dd54e"/><stop offset="0.733" stop-color="#9fd64c"/><stop offset="0.800" stop-color="#a1d74b"/><stop offset="0.867" stop-color="#a4d749"/><stop offset="0.933" stop-color="#a6d848"/><stop offset="1.000" stop-color="#a9d847"/></linearGradient><linearGradient id="h105"><stop offset="0.000" stop-color="#72c965"/><stop offset="0.067" stop-color="#65c56b"/><stop offset="0.133" stop-color="#69c669"/><stop offset="0.200" stop-color="#72c965"/><stop offset="0.267" stop-color="#78cb62"/><stop offset="0.333" stop-color="#7fcd5e"/><stop offset="0.400" stop-color="#85cf5b"/><stop offset="0.467" stop-color="#8ad158"/><stop offset="0.533" stop-color="#8fd256"/><stop offset="0.600" stop-color="#96d452"/><stop offset="0.667" stop-color="#9ad54f"/><stop offset="0.733" stop-color="#9dd54e"/><stop offset="0.800" stop-color="#9fd64c"/><stop offset="0.867" stop-color="#a1d74b"/><stop offset="0.933" stop-color="#a6d848"/><stop offset="1.000" stop-color="#a9d847"/></linearGradient><linearGradient id="h106"><stop offset="0.000" stop-color="#70c966"/><stop offset="0.067" stop-color="#63c46c"/><stop offset="0.133" stop-color="#65c56b"/><stop offset="0.200" stop-color="#70c966"/><stop offset="0.267" stop-color="#76cb63"/><stop offset="0.333" stop-color="#7dcd60"/><stop offset="0.400" stop-color="#83cf5c"/><stop offset="0.467" stop-color="#8ad158"/><stop offset="0.533" stop-color="#8fd256"/><stop offset="0.600" stop-color="#93d353"/><stop offset="0.667" stop-color="#98d450"/><stop offset="0.733" stop-color="#9dd54e"/><stop offset="0.800" stop-color="#9fd64c"/><stop offset="0.867" stop-color="#a1d74b"/><stop offset="0.933" stop-color="#a4d749"/><stop offset="1.000" stop-color="#a6d848"/></linearGradient><linearGradient id="h107"><stop offset="0.000" stop-color="#6ec867"/><stop offset="0.067" stop-color="#5fc26e"/><stop offset="0.133" stop-color="#61c36d"/><stop offset="0.200" stop-color="#6ec867"/><stop offset="0.267" stop-color="#74ca64"/><stop offset="0.333" stop-color="#7acc61"/><stop offset="0.400" stop-color="#81ce5d"/><stop offset="0.467" stop-color="#88d059"/><stop offset="0.533" stop-color="#8cd157"/><stop offset="0.600" stop-color="#93d353"/><stop offset="0.667" stop-color="#98d450"/><stop offset="0.733" stop-color="#9ad54f"/><stop offset="0.800" stop-color="#9dd54e"/><stop offset="0.867" stop-color="#9fd64c"/><stop offset="0.933" stop-color="#a4d749"/><stop offset="1.000" stop-color="#a6d848"/></linearGradient><linearGradient id="h108"><stop offset="0.000" stop-color="#6bc768"/><stop offset="0.067" stop-color="#5cc170"/><stop offset="0.133" stop-color="#5fc26e"/><stop offset="0.200" stop-color="#69c669"/><stop offset="0.267" stop-color="#72c965"/><stop offset="0.333" stop-color="#78cb62"/><stop offset="0.400" stop-color="#7fcd5e"/><stop offset="0.467" stop-color="#85cf5b"/><stop offset="0.533" stop-color="#8ad158"/><stop offset="0.600" stop-color="#91d354"/><stop offset="0.667" stop-color="#96d452"/><stop offset="0.733" stop-color="#9ad54f"/><stop offset="0.800" stop-color="#9dd54e"/><stop offset="0.867" stop-color="#9fd64c"/><stop offset="0.933" stop-color="#a1d74b"/><stop offset="1.000" stop-color="#a4d749"/></linearGradient><linearGradient id="h109"><stop offset="0.000" stop-color="#67c66a"/><stop offset="0.067" stop-color="#5ac071"/><stop offset="0.133" stop-color="#5cc170"/><stop offset="0.200" stop-color="#67c66a"/><stop offset="0.267" stop-color="#6ec867"/><stop offset="0.333" stop-color="#76cb63"/><stop offset="0.400" stop-color="#7dcd60"/><stop offset="0.467" stop-color="#83cf5c"/><stop offset="0.533" stop-color="#8ad158"/><stop offset="0.600" stop-color="#8fd256"/><stop offset="0.667" stop-color="#96d452"/><stop offset="0.733" stop-color="#98d450"/><stop offset="0.800" stop-color="#9ad54f"/><stop offset="0.867" stop-color="#9dd54e"/><stop offset="0.933" stop-color="#a1d74b"/><stop offset="1.000" stop-color="#a4d749"/></linearGradient><linearGradient id="h110"><stop offset="0.000" stop-color="#65c56b"/><stop offset="0.067" stop-color="#56be73"/><stop offset="0.133" stop-color="#58bf72"/><stop offset="0.200" stop-color="#63c46c"/><stop offset="0.267" stop-color="#6bc768"/><stop offset="0.333" stop-color="#74ca64"/><stop offset="0.400" stop-color="#7acc61"/><stop offset="0.467" stop-color="#81ce5d"/><stop offset="0.533" stop-color="#88d059"/><stop offset="0.600" stop-color="#8fd256"/><stop offset="0.667" stop-color="#93d353"/><stop offset="0.733" stop-color="#96d452"/><stop offset="0.800" stop-color="#9ad54f"/><stop offset="0.867" stop-color="#9dd54e"/><stop offset="0.933" stop-color="#9fd64c"/><stop offset="1.000" stop-color="#a4d749"/></linearGradient><linearGradient id="h111"><stop offset="0.000" stop-color="#63c46c"/><stop offset="0.067" stop-color="#52bd74"/><stop offset="0.133" stop-color="#54be74"/><stop offset="0.200" stop-color="#5fc26e"/><stop offset="0.267" stop-color="#67c66a"/><stop offset="0.333" stop-color="#70c966"/><stop offset="0.400" stop-color="#78cb62"/><stop offset="0.467" stop-color="#7fcd5e"/><stop offset="0.533" stop-color="#85cf5b"/><stop offset="0.600" stop-color="#8cd157"/><stop offset="0.667" stop-color="#91d354"/><stop offset="0.733" stop-color="#96d452"/><stop offset="0.800" stop-color="#98d450"/><stop offset="0.867" stop-color="#9ad54f"/><stop offset="0.933" stop-color="#9fd64c"/><stop offset="1.000" stop-color="#a1d74b"/></linearGradient><linearGradient id="h112"><stop offset="0.000" stop-color="#5fc26e"/><stop offset="0.067" stop-color="#4dba77"/><stop offset="0.133" stop-color="#51bc75"/><stop offset="0.200" stop-color="#5cc170"/><stop offset="0.267" stop-color="#65c56b"/><stop offset="0.333" stop-color="#6ec867"/><stop offset="0.400" stop-color="#76cb63"/><stop offset="0.467" stop-color="#7dcd60"/><stop offset="0.533" stop-color="#83cf5c"/><stop offset="0.600" stop-color="#8ad158"/><stop offset="0.667" stop-color="#8fd256"/><stop offset="0.733" stop-color="#93d353"/><stop offset="0.800" stop-color="#96d452"/><stop offset="0.867" stop-color="#9ad54f"/><stop offset="0.933" stop-color="#9dd54e"/><stop offset="1.000" stop-color="#a1d74b"/></linearGradient><linearGradient id="h113"><stop offset="0.000" stop-color="#5ec26f"/><stop offset="0.067" stop-color="#4ab978"/><stop offset="0.133" stop-color="#4cb977"/><stop offset="0.200" stop-color="#58bf72"/><stop offset="0.267" stop-color="#61c36d"/><stop offset="0.333" stop-color="#6bc768"/><stop offset="0.400" stop-color="#74ca64"/><stop offset="0.467" stop-color="#7acc61"/><stop offset="0.533" stop-color="#81ce5d"/><stop offset="0.600" stop-color="#88d059"/><stop offset="0.667" stop-color="#8fd256"/><stop offset="0.733" stop-color="#91d354"/><stop offset="0.800" stop-color="#96d452"/><stop offset="0.867" stop-color="#98d450"/><stop offset="0.933" stop-color="#9dd54e"/><stop offset="1.000" stop-color="#9fd64c"/></linearGradient><linearGradient id="h114"><stop offset="0.000" stop-color="#5ac071"/><stop offset="0.067" stop-color="#45b67a"/><stop offset="0.133" stop-color="#48b879"/><stop offset="0.200" stop-color="#54be74"/><stop offset="0.267" stop-color="#5ec26f"/><stop offset="0.333" stop-color="#67c66a"/><stop offset="0.400" stop-color="#70c966"/><stop offset="0.467" stop-color="#78cb62"/><stop offset="0.533" stop-color="#7fcd5e"/><stop offset="0.600" stop-color="#85cf5b"/><stop offset="0.667" stop-color="#8cd157"/><stop offset="0.733" stop-color="#91d354"/><stop offset="0.800" stop-color="#93d353"/><stop offset="0.867" stop-color="#98d450"/><stop offset="0.933" stop-color="#9ad54f"/><stop offset="1.000" stop-color="#9fd64c"/></linearGradient><linearGradient id="h115"><stop offset="0.000" stop-color="#56be73"/><stop offset="0.067" stop-color="#42b47c"/><stop offset="0.133" stop-color="#44b57b"/><stop offset="0.200" stop-color="#51bc75"/><stop offset="0.267" stop-color="#5ac071"/><stop offset="0.333" stop-color="#63c46c"/><stop offset="0.400" stop-color="#6ec867"/><stop offset="0.467" stop-color="#76cb63"/><stop offset="0.533" stop-color="#7dcd60"/><stop offset="0.600" stop-color="#83cf5c"/><stop offset="0.667" stop-color="#8ad158"/><stop offset="0.733" stop-color="#8fd256"/><stop offset="0.800" stop-color="#91d354"/><stop offset="0.867" stop-color="#96d452"/><stop offset="0.933" stop-color="#9ad54f"/><stop offset="1.000" stop-color="#9dd54e"/></linearGradient><linearGradient id="h116"><stop offset="0.000" stop-color="#52bd74"/><stop offset="0.067" stop-color="#3eb27d"/><stop offset="0.133" stop-color="#3fb37d"/><stop offset="0.200" stop-color="#4dba77"/><stop offset="0.267" stop-color="#56be73"/><stop offset="0.333" stop-color="#61c36d"/><stop offset="0.400" stop-color="#6bc768"/><stop offset="0.467" stop-color="#74ca64"/><stop offset="0.533" stop-color="#7acc61"/><stop offset="0.600" stop-color="#83cf5c"/><stop offset="0.667" stop-color="#88d059"/><stop offset="0.733" stop-color="#8cd157"/><stop offset="0.800" stop-color="#91d354"/><stop offset="0.867" stop-color="#93d353"/><stop offset="0.933" stop-color="#98d450"/><stop offset="1.000" stop-color="#9dd54e"/></linearGradient><linearGradient id="h117"><stop offset="0.000" stop-color="#4fbb76"/><stop offset="0.067" stop-color="#3aaf7f"/><stop offset="0.133" stop-color="#3bb07f"/><stop offset="0.200" stop-color="#48b879"/><stop offset="0.267" stop-color="#52bd74"/><stop offset="0.333" stop-color="#5ec26f"/><stop offset="0.400" stop-color="#67c66a"/><stop offset="0.467" stop-color="#70c966"/><stop offset="0.533" stop-color="#78cb62"/><stop offset="0.600" stop-color="#81ce5d"/><stop offset="0.667" stop-color="#88d059"/><stop offset="0.733" stop-color="#8cd157"/><stop offset="0.800" stop-color="#8fd256"/><stop offset="0.867" stop-color="#93d353"/><stop offset="0.933" stop-color="#98d450"/><stop offset="1.000" stop-color="#9dd54e"/></linearGradient><linearGradient id="h118"><stop offset="0.000" stop-color="#4ab978"/><stop offset="0.067" stop-color="#36ab81"/><stop offset="0.133" stop-color="#38ad80"/><stop offset="0.200" stop-color="#44b57b"/><stop offset="0.267" stop-color="#4fbb76"/><stop offset="0.333" stop-color="#5ac071"/><stop offset="0.400" stop-color="#65c56b"/><stop offset="0.467" stop-color="#6ec867"/><stop offset="0.533" stop-color="#76cb63"/><stop offset="0.600" stop-color="#7fcd5e"/><stop offset="0.667" stop-color="#85cf5b"/><stop offset="0.733" stop-color="#8ad158"/><stop offset="0.800" stop-color="#8cd157"/><stop offset="0.867" stop-color="#91d354"/><stop offset="0.933" stop-color="#96d452"/><stop offset="1.000" stop-color="#9ad54f"/></linearGradient><linearGradient id="h119"><stop offset="0.000" stop-color="#47b77a"/><stop offset="0.067" stop-color="#33a983"/><stop offset="0.133" stop-color="#34aa82"/><stop offset="0.200" stop-color="#41b37c"/><stop offset="0.267" stop-color="#4ab978"/><stop offset="0.333" stop-color="#56be73"/><stop offset="0.400" stop-color="#61c36d"/><stop offset="0.467" stop-color="#6bc768"/><stop offset="0.533" stop-color="#74ca64"/><stop offset="0.600" stop-color="#7dcd60"/><stop offset="0.667" stop-color="#83cf5c"/><stop offset="0.733" stop-color="#88d059"/><stop offset="0.800" stop-color="#8cd157"/><stop offset="0.867" stop-color="#91d354"/><stop offset="0.933" stop-color="#96d452"/><stop offset="1.000" stop-color="#9ad54f"/></linearGradient><linearGradient id="h120"><stop offset="0.000" stop-color="#42b47c"/><stop offset="0.067" stop-color="#2fa584"/><stop offset="0.133" stop-color="#30a684"/><stop offset="0.200" stop-color="#3db17e"/><stop offset="0.267" stop-color="#47b77a"/><stop offset="0.333" stop-color="#52bd74"/><stop offset="0.400" stop-color="#5ec26f"/><stop offset="0.467" stop-color="#67c66a"/><stop offset="0.533" stop-color="#72c965"/><stop offset="0.600" stop-color="#7acc61"/><stop offset="0.667" stop-color="#81ce5d"/><stop offset="0.733" stop-color="#85cf5b"/><stop offset="0.800" stop-color="#8ad158"/><stop offset="0.867" stop-color="#8fd256"/><stop offset="0.933" stop-color="#93d353"/><stop offset="1.000" stop-color="#98d450"/></linearGradient><linearGradient id="h121"><stop offset="0.000" stop-color="#3eb27d"/><stop offset="0.067" stop-color="#2da286"/><stop offset="0.133" stop-color="#2ea385"/><stop offset="0.200" stop-color="#38ad80"/><stop offset="0.267" stop-color="#42b47c"/><stop offset="0.333" stop-color="#4fbb76"/><stop offset="0.400" stop-color="#5cc170"/><stop offset="0.467" stop-color="#65c56b"/><stop offset="0.533" stop-color="#6ec867"/><stop offset="0.600" stop-color="#76cb63"/><stop offset="0.667" stop-color="#7fcd5e"/><stop offset="0.733" stop-color="#83cf5c"/><stop offset="0.800" stop-color="#88d059"/><stop offset="0.867" stop-color="#8cd157"/><stop offset="0.933" stop-color="#91d354"/><stop offset="1.000" stop-color="#98d450"/></linearGradient><linearGradient id="h122"><stop offset="0.000" stop-color="#39ae80"/><stop offset="0.067" stop-color="#2b9e87"/><stop offset="0.133" stop-color="#2c9f87"/><stop offset="0.200" stop-color="#35ab82"/><stop offset="0.267" stop-color="#3eb27d"/><stop offset="0.333" stop-color="#4cb977"/><stop offset="0.400" stop-color="#58bf72"/><stop offset="0.467" stop-color="#61c36d"/><stop offset="0.533" stop-color="#6bc768"/><stop offset="0.600" stop-color="#74ca64"/><stop offset="0.667" stop-color="#7dcd60"/><stop offset="0.733" stop-color="#81ce5d"/><stop offset="0.800" stop-color="#85cf5b"/><stop offset="0.867" stop-color="#8cd157"/><stop offset="0.933" stop-color="#91d354"/><stop offset="1.000" stop-color="#96d452"/></linearGradient><linearGradient id="h123"><stop offset="0.000" stop-color="#36ab81"/><stop offset="0.067" stop-color="#2a9988"/><stop offset="0.133" stop-color="#2b9b88"/><stop offset="0.200" stop-color="#32a883"/><stop offset="0.267" stop-color="#3bb07f"/><stop offset="0.333" stop-color="#47b77a"/><stop offset="0.400" stop-color="#54be74"/><stop offset="0.467" stop-color="#5fc26e"/><stop offset="0.533" stop-color="#69c669"/><stop offset="0.600" stop-color="#72c965"/><stop offset="0.667" stop-color="#7acc61"/><stop offset="0.733" stop-color="#7fcd5e"/><stop offset="0.800" stop-color="#85cf5b"/><stop offset="0.867" stop-color="#8ad158"/><stop offset="0.933" stop-color="#8fd256"/><stop offset="1.000" stop-color="#96d452"/></linearGradient><linearGradient id="h124"><stop offset="0.000" stop-color="#32a883"/><stop offset="0.067" stop-color="#2a9689"/><stop offset="0.133" stop-color="#2a9888"/><stop offset="0.200" stop-color="#2fa485"/><stop offset="0.267" stop-color="#37ac81"/><stop offset="0.333" stop-color="#44b57b"/><stop offset="0.400" stop-color="#51bc75"/><stop offset="0.467" stop-color="#5cc170"/><stop offset="0.533" stop-color="#65c56b"/><stop offset="0.600" stop-color="#70c966"/><stop offset="0.667" stop-color="#78cb62"/><stop offset="0.733" stop-color="#7fcd5e"/><stop offset="0.800" stop-color="#83cf5c"/><stop offset="0.867" stop-color="#88d059"/><stop offset="0.933" stop-color="#8fd256"/><stop offset="1.000" stop-color="#93d353"/></linearGradient><linearGradient id="h125"><stop offset="0.000" stop-color="#2fa485"/><stop offset="0.067" stop-color="#2a918a"/><stop offset="0.133" stop-color="#2a9389"/><stop offset="0.200" stop-color="#2ca186"/><stop offset="0.267" stop-color="#34aa82"/><stop offset="0.333" stop-color="#3fb37d"/><stop offset="0.400" stop-color="#4dba77"/><stop offset="0.467" stop-color="#58bf72"/><stop offset="0.533" stop-color="#63c46c"/><stop offset="0.600" stop-color="#6ec867"/><stop offset="0.667" stop-color="#76cb63"/><stop offset="0.733" stop-color="#7dcd60"/><stop offset="0.800" stop-color="#81ce5d"/><stop offset="0.867" stop-color="#85cf5b"/><stop offset="0.933" stop-color="#8cd157"/><stop offset="1.000" stop-color="#93d353"/></linearGradient><linearGradient id="h126"><stop offset="0.000" stop-color="#2ca186"/><stop offset="0.067" stop-color="#2b8c8a"/><stop offset="0.133" stop-color="#2b8f8a"/><stop offset="0.200" stop-color="#2b9d87"/><stop offset="0.267" stop-color="#31a783"/><stop offset="0.333" stop-color="#3bb07f"/><stop offset="0.400" stop-color="#48b879"/><stop offset="0.467" stop-color="#56be73"/><stop offset="0.533" stop-color="#5fc26e"/><stop offset="0.600" stop-color="#69c669"/><stop offset="0.667" stop-color="#74ca64"/><stop offset="0.733" stop-color="#7acc61"/><stop offset="0.800" stop-color="#7fcd5e"/><stop offset="0.867" stop-color="#85cf5b"/><stop offset="0.933" stop-color="#8ad158"/><stop offset="1.000" stop-color="#91d354"/></linearGradient><linearGradient id="h127"><stop offset="0.000" stop-color="#2b9c87"/><stop offset="0.067" stop-color="#2d878a"/><stop offset="0.133" stop-color="#2c8a8a"/><stop offset="0.200" stop-color="#2a9988"/><stop offset="0.267" stop-color="#2ea385"/><stop offset="0.333" stop-color="#38ad80"/><stop offset="0.400" stop-color="#45b67a"/><stop offset="0.467" stop-color="#52bd74"/><stop offset="0.533" stop-color="#5ec26f"/><stop offset="0.600" stop-color="#67c66a"/><stop offset="0.667" stop-color="#70c966"/><stop offset="0.733" stop-color="#78cb62"/><stop offset="0.800" stop-color="#7dcd60"/><stop offset="0.867" stop-color="#83cf5c"/><stop offset="0.933" stop-color="#8ad158"/><stop offset="1.000" stop-color="#91d354"/></linearGradient><linearGradient id="h128"><stop offset="0.000" stop-color="#2a9888"/><stop offset="0.067" stop-color="#2e828a"/><stop offset="0.133" stop-color="#2d868a"/><stop offset="0.200" stop-color="#2a9589"/><stop offset="0.267" stop-color="#2ca186"/><stop offset="0.333" stop-color="#36ab81"/><stop offset="0.400" stop-color="#42b47c"/><stop offset="0.467" stop-color="#4fbb76"/><stop offset="0.533" stop-color="#5ac071"/><stop offset="0.600" stop-color="#65c56b"/><stop offset="0.667" stop-color="#6ec867"/><stop offset="0.733" stop-color="#74ca64"/><stop offset="0.800" stop-color="#7acc61"/><stop offset="0.867" stop-color="#81ce5d"/><stop offset="0.933" stop-color="#88d059"/><stop offset="1.000" stop-color="#8fd256"/></linearGradient><linearGradient id="h129"><stop offset="0.000" stop-color="#2a9389"/><stop offset="0.067" stop-color="#2f7e8a"/><stop offset="0.133" stop-color="#2f808a"/><stop offset="0.200" stop-color="#2a918a"/><stop offset="0.267" stop-color="#2b9d87"/><stop offset="0.333" stop-color="#32a883"/><stop offset="0.400" stop-color="#3eb27d"/><stop offset="0.467" stop-color="#4cb977"/><stop offset="0.533" stop-color="#58bf72"/><stop offset="0.600" stop-color="#61c36d"/><stop offset="0.667" stop-color="#6bc768"/><stop offset="0.733" stop-color="#72c965"/><stop offset="0.800" stop-color="#78cb62"/><stop offset="0.867" stop-color="#7fcd5e"/><stop offset="0.933" stop-color="#85cf5b"/><stop offset="1.000" stop-color="#8cd157"/></linearGradient><linearGradient id="h130"><stop offset="0.000" stop-color="#2b8f8a"/><stop offset="0.067" stop-color="#31788a"/><stop offset="0.133" stop-color="#307c8a"/><stop offset="0.200" stop-color="#2b8d8a"/><stop offset="0.267" stop-color="#2a9988"/><stop offset="0.333" stop-color="#2fa584"/><stop offset="0.400" stop-color="#3bb07f"/><stop offset="0.467" stop-color="#48b879"/><stop offset="0.533" stop-color="#54be74"/><stop offset="0.600" stop-color="#5fc26e"/><stop offset="0.667" stop-color="#69c669"/><stop offset="0.733" stop-color="#70c966"/><stop offset="0.800" stop-color="#76cb63"/><stop offset="0.867" stop-color="#7dcd60"/><stop offset="0.933" stop-color="#85cf5b"/><stop offset="1.000" stop-color="#8cd157"/></linearGradient><linearGradient id="h131"><stop offset="0.000" stop-color="#2c898a"/><stop offset="0.067" stop-color="#337289"/><stop offset="0.133" stop-color="#31768a"/><stop offset="0.200" stop-color="#2c888a"/><stop offset="0.267" stop-color="#2a9689"/><stop offset="0.333" stop-color="#2da285"/><stop offset="0.400" stop-color="#38ad80"/><stop offset="0.467" stop-color="#45b67a"/><stop offset="0.533" stop-color="#51bc75"/><stop offset="0.600" stop-color="#5cc170"/><stop offset="0.667" stop-color="#65c56b"/><stop offset="0.733" stop-color="#6ec867"/><stop offset="0.800" stop-color="#74ca64"/><stop offset="0.867" stop-color="#7dcd60"/><stop offset="0.933" stop-color="#83cf5c"/><stop offset="1.000" stop-color="#8ad158"/></linearGradient><linearGradient id="h132"><stop offset="0.000" stop-color="#2e848a"/><stop offset="0.067" stop-color="#346c89"/><stop offset="0.133" stop-color="#337189"/><stop offset="0.200" stop-color="#2e848a"/><stop offset="0.267" stop-color="#2a918a"/><stop offset="0.333" stop-color="#2c9f87"/><stop offset="0.400" stop-color="#35ab82"/><stop offset="0.467" stop-color="#41b37c"/><stop offset="0.533" stop-color="#4dba77"/><stop offset="0.600" stop-color="#5ac071"/><stop offset="0.667" stop-color="#63c46c"/><stop offset="0.733" stop-color="#6bc768"/><stop offset="0.800" stop-color="#72c965"/><stop offset="0.867" stop-color="#7acc61"/><stop offset="0.933" stop-color="#81ce5d"/><stop offset="1.000" stop-color="#8ad158"/></linearGradient><linearGradient id="h133"><stop offset="0.000" stop-color="#2f7e8a"/><stop offset="0.067" stop-color="#366788"/><stop offset="0.133" stop-color="#356b89"/><stop offset="0.200" stop-color="#2f7f8a"/><stop offset="0.267" stop-color="#2b8e8a"/><stop offset="0.333" stop-color="#2b9c87"/><stop offset="0.400" stop-color="#32a883"/><stop offset="0.467" stop-color="#3eb27d"/><stop offset="0.533" stop-color="#4ab978"/><stop offset="0.600" stop-color="#56be73"/><stop offset="0.667" stop-color="#61c36d"/><stop offset="0.733" stop-color="#69c669"/><stop offset="0.800" stop-color="#70c966"/><stop offset="0.867" stop-color="#78cb62"/><stop offset="0.933" stop-color="#81ce5d"/><stop offset="1.000" stop-color="#88d059"/></linearGradient><linearGradient id="h134"><stop offset="0.000" stop-color="#31788a"/><stop offset="0.067" stop-color="#386087"/><stop offset="0.133" stop-color="#366688"/><stop offset="0.200" stop-color="#307b8a"/><stop offset="0.267" stop-color="#2c898a"/><stop offset="0.333" stop-color="#2a9888"/><stop offset="0.400" stop-color="#2fa584"/><stop offset="0.467" stop-color="#3bb07f"/><stop offset="0.533" stop-color="#47b77a"/><stop offset="0.600" stop-color="#54be74"/><stop offset="0.667" stop-color="#5ec26f"/><stop offset="0.733" stop-color="#67c66a"/><stop offset="0.800" stop-color="#6ec867"/><stop offset="0.867" stop-color="#76cb63"/><stop offset="0.933" stop-color="#7fcd5e"/><stop offset="1.000" stop-color="#88d059"/></linearGradient><linearGradient id="h135"><stop offset="0.000" stop-color="#337289"/><stop offset="0.067" stop-color="#3a5a86"/><stop offset="0.133" stop-color="#386087"/><stop offset="0.200" stop-color="#32758a"/><stop offset="0.267" stop-color="#2d868a"/><stop offset="0.333" stop-color="#2a9589"/><stop offset="0.400" stop-color="#2da285"/><stop offset="0.467" stop-color="#38ad80"/><stop offset="0.533" stop-color="#44b57b"/><stop offset="0.600" stop-color="#51bc75"/><stop offset="0.667" stop-color="#5cc170"/><stop offset="0.733" stop-color="#63c46c"/><stop offset="0.800" stop-color="#6bc768"/><stop offset="0.867" stop-color="#74ca64"/><stop offset="0.933" stop-color="#7dcd60"/><stop offset="1.000" stop-color="#85cf5b"/></linearGradient><linearGradient id="h136"><stop offset="0.000" stop-color="#346c89"/><stop offset="0.067" stop-color="#3d5485"/><stop offset="0.133" stop-color="#3a5a86"/><stop offset="0.200" stop-color="#337189"/><stop offset="0.267" stop-color="#2e818a"/><stop offset="0.333" stop-color="#2a918a"/><stop offset="0.400" stop-color="#2ca086"/><stop offset="0.467" stop-color="#36ab81"/><stop offset="0.533" stop-color="#41b37c"/><stop offset="0.600" stop-color="#4dba77"/><stop offset="0.667" stop-color="#58bf72"/><stop offset="0.733" stop-color="#61c36d"/><stop offset="0.800" stop-color="#69c669"/><stop offset="0.867" stop-color="#72c965"/><stop offset="0.933" stop-color="#7acc61"/><stop offset="1.000" stop-color="#83cf5c"/></linearGradient><linearGradient id="h137"><stop offset="0.000" stop-color="#366688"/><stop offset="0.067" stop-color="#3f4d83"/><stop offset="0.133" stop-color="#3d5485"/><stop offset="0.200" stop-color="#356b89"/><stop offset="0.267" stop-color="#307d8a"/><stop offset="0.333" stop-color="#2b8e8a"/><stop offset="0.400" stop-color="#2b9d87"/><stop offset="0.467" stop-color="#33a983"/><stop offset="0.533" stop-color="#3eb27d"/><stop offset="0.600" stop-color="#4ab978"/><stop offset="0.667" stop-color="#56be73"/><stop offset="0.733" stop-color="#5fc26e"/><stop offset="0.800" stop-color="#67c66a"/><stop offset="0.867" stop-color="#70c966"/><stop offset="0.933" stop-color="#78cb62"/><stop offset="1.000" stop-color="#83cf5c"/></linearGradient><linearGradient id="h138" x1="0" x2="0" y1="0" y2="1"><stop offset="0.000" stop-color="#f9e63b"/><stop offset="0.034" stop-color="#f9e63b"/><stop offset="0.069" stop-color="#f9e63b"/><stop offset="0.103" stop-color="#f9e63b"/><stop offset="0.138" stop-color="#f9e63b"/><stop offset="0.172" stop-color="#f9e63b"/><stop offset="0.207" stop-color="#f9e63b"/><stop offset="0.241" stop-color="#f9e63b"/><stop offset="0.276" stop-color="#f9e63b"/><stop offset="0.310" stop-color="#f1e435"/><stop offset="0.345" stop-color="#cbde34"/><stop offset="0.379" stop-color="#badb3d"/><stop offset="0.414" stop-color="#abd945"/><stop offset="0.448" stop-color="#9dd54e"/><stop offset="0.483" stop-color="#91d354"/><stop offset="0.517" stop-color="#83cf5c"/><stop offset="0.552" stop-color="#78cb62"/><stop offset="0.586" stop-color="#6bc768"/><stop offset="0.621" stop-color="#5ec26f"/><stop offset="0.655" stop-color="#51bc75"/><stop offset="0.690" stop-color="#44b57b"/><stop offset="0.724" stop-color="#39ae80"/><stop offset="0.759" stop-color="#31a783"/><stop offset="0.793" stop-color="#2ca086"/><stop offset="0.828" stop-color="#2a9888"/><stop offset="0.862" stop-color="#2b908a"/><stop offset="0.897" stop-color="#2d878a"/><stop offset="0.931" stop-color="#2f7f8a"/><stop offset="0.966" stop-color="#32758a"/><stop offset="1.000" stop-color="#346d89"/></linearGradient><clipPath id="clipA2"><rect x="371" y="37" width="211" height="204"/></clipPath><linearGradient id="cbar" x1="0" x2="0" y1="1" y2="0"><stop offset="0.00" stop-color="#3e044c"/><stop offset="0.05" stop-color="#43155d"/><stop offset="0.10" stop-color="#45266d"/><stop offset="0.15" stop-color="#453578"/><stop offset="0.20" stop-color="#424480"/><stop offset="0.25" stop-color="#3d5284"/><stop offset="0.30" stop-color="#395e87"/><stop offset="0.35" stop-color="#356a89"/><stop offset="0.40" stop-color="#31768a"/><stop offset="0.45" stop-color="#2e828a"/><stop offset="0.50" stop-color="#2b8e8a"/><stop offset="0.55" stop-color="#2a9888"/><stop offset="0.60" stop-color="#2fa485"/><stop offset="0.65" stop-color="#3bb07f"/><stop offset="0.70" stop-color="#4fbb76"/><stop offset="0.75" stop-color="#67c66a"/><stop offset="0.80" stop-color="#81ce5d"/><stop offset="0.85" stop-color="#9fd64c"/><stop offset="0.90" stop-color="#bfdc3a"/><stop offset="0.95" stop-color="#dee12f"/><stop offset="1.00" stop-color="#f9e63b"/></linearGradient></defs><text transform="translate(-0.60,10.00) scale(1.050,1)" font-size="18.80" font-family='"Liberation Sans", sans-serif' font-style="normal" font-weight="bold" fill="#000" >a</text><text transform="translate(0.20,310.90) scale(1.100,1)" font-size="18.00" font-family='"Liberation Sans", sans-serif' font-style="normal" font-weight="bold" fill="#000" >b</text><text transform="translate(-0.10,578.60) scale(1.050,1)" font-size="18.80" font-family='"Liberation Sans", sans-serif' font-style="normal" font-weight="bold" fill="#000" >c</text><text transform="translate(77.30,14.00) scale(0.886,1)" font-size="14.50" font-family='"Liberation Serif", serif' font-style="italic" font-weight="normal" fill="#231f20" stroke="#231f20" stroke-width="0.3" >α</text><text transform="translate(84.80,17.50) scale(1.000,1)" font-size="9.20" font-family='"Liberation Sans", sans-serif' font-style="italic" font-weight="normal" fill="#231f20" stroke="#231f20" stroke-width="0.2" >P</text><text transform="translate(90.60,17.50) scale(0.902,1)" font-size="9.20" font-family='"Liberation Sans", sans-serif' font-style="normal" font-weight="normal" fill="#231f20" stroke="#231f20" stroke-width="0.2" >inf</text><text transform="translate(102.90,14.00) scale(1.007,1)" font-size="12.20" font-family='"Liberation Sans", sans-serif' font-style="normal" font-weight="normal" fill="#231f20" stroke="#231f20" stroke-width="0.2" >= −0.700 and</text><text transform="translate(179.95,14.00) scale(1.194,1)" font-size="14.50" font-family='"Liberation Serif", serif' font-style="italic" font-weight="normal" fill="#231f20" stroke="#231f20" stroke-width="0.25" >β</text><text transform="translate(187.60,17.50) scale(1.000,1)" font-size="9.20" font-family='"Liberation Sans", sans-serif' font-style="italic" font-weight="normal" fill="#231f20" stroke="#231f20" stroke-width="0.2" >P</text><text transform="translate(193.40,17.50) scale(0.892,1)" font-size="9.20" font-family='"Liberation Sans", sans-serif' font-style="normal" font-weight="normal" fill="#231f20" stroke="#231f20" stroke-width="0.2" >inf</text><text transform="translate(206.00,14.00) scale(0.853,1)" font-size="12.20" font-family='"Liberation Sans", sans-serif' font-style="normal" font-weight="normal" fill="#231f20" stroke="#231f20" stroke-width="0.2" >= −1.178</text><text transform="translate(392.60,14.00) scale(0.886,1)" font-size="14.50" font-family='"Liberation Serif", serif' font-style="italic" font-weight="normal" fill="#231f20" stroke="#231f20" stroke-width="0.3" >α</text><text transform="translate(400.30,17.50) scale(1.000,1)" font-size="9.20" font-family='"Liberation Sans", sans-serif' font-style="italic" font-weight="normal" fill="#231f20" stroke="#231f20" stroke-width="0.2" >P</text><text transform="translate(406.10,17.50) scale(0.790,1)" font-size="9.20" font-family='"Liberation Sans", sans-serif' font-style="normal" font-weight="normal" fill="#231f20" stroke="#231f20" stroke-width="0.2" >inf</text><text transform="translate(418.20,14.00) scale(0.977,1)" font-size="12.20" font-family='"Liberation Sans", sans-serif' font-style="normal" font-weight="normal" fill="#231f20" stroke="#231f20" stroke-width="0.2" >= 0.779 and</text><text transform="translate(486.15,14.00) scale(1.194,1)" font-size="14.50" font-family='"Liberation Serif", serif' font-style="italic" font-weight="normal" fill="#231f20" stroke="#231f20" stroke-width="0.25" >β</text><text transform="translate(493.80,17.50) scale(1.000,1)" font-size="9.20" font-family='"Liberation Sans", sans-serif' font-style="italic" font-weight="normal" fill="#231f20" stroke="#231f20" stroke-width="0.2" >P</text><text transform="translate(499.60,17.50) scale(0.933,1)" font-size="9.20" font-family='"Liberation Sans", sans-serif' font-style="normal" font-weight="normal" fill="#231f20" stroke="#231f20" stroke-width="0.2" >inf</text><text transform="translate(512.20,14.00) scale(0.884,1)" font-size="12.20" font-family='"Liberation Sans", sans-serif' font-style="normal" font-weight="normal" fill="#231f20" stroke="#231f20" stroke-width="0.2" >= −1.767</text><text transform="translate(77.70,310.00) scale(0.886,1)" font-size="14.50" font-family='"Liberation Serif", serif' font-style="italic" font-weight="normal" fill="#231f20" stroke="#231f20" stroke-width="0.3" >α</text><text transform="translate(85.20,313.50) scale(1.000,1)" font-size="9.20" font-family='"Liberation Sans", sans-serif' font-style="italic" font-weight="normal" fill="#231f20" stroke="#231f20" stroke-width="0.2" >P</text><text transform="translate(91.00,313.50) scale(0.902,1)" font-size="9.20" font-family='"Liberation Sans", sans-serif' font-style="normal" font-weight="normal" fill="#231f20" stroke="#231f20" stroke-width="0.2" >inf</text><text transform="translate(103.30,310.00) scale(1.007,1)" font-size="12.20" font-family='"Liberation Sans", sans-serif' font-style="normal" font-weight="normal" fill="#231f20" stroke="#231f20" stroke-width="0.2" >= −0.700 and</text><text transform="translate(180.35,310.00) scale(1.194,1)" font-size="14.50" font-family='"Liberation Serif", serif' font-style="italic" font-weight="normal" fill="#231f20" stroke="#231f20" stroke-width="0.25" >β</text><text transform="translate(188.00,313.50) scale(1.000,1)" font-size="9.20" font-family='"Liberation Sans", sans-serif' font-style="italic" font-weight="normal" fill="#231f20" stroke="#231f20" stroke-width="0.2" >P</text><text transform="translate(193.80,313.50) scale(0.892,1)" font-size="9.20" font-family='"Liberation Sans", sans-serif' font-style="normal" font-weight="normal" fill="#231f20" stroke="#231f20" stroke-width="0.2" >inf</text><text transform="translate(206.40,310.00) scale(0.853,1)" font-size="12.20" font-family='"Liberation Sans", sans-serif' font-style="normal" font-weight="normal" fill="#231f20" stroke="#231f20" stroke-width="0.2" >= −1.178</text><text transform="translate(392.10,310.00) scale(0.886,1)" font-size="14.50" font-family='"Liberation Serif", serif' font-style="italic" font-weight="normal" fill="#231f20" stroke="#231f20" stroke-width="0.3" >α</text><text transform="translate(399.80,313.50) scale(1.000,1)" font-size="9.20" font-family='"Liberation Sans", sans-serif' font-style="italic" font-weight="normal" fill="#231f20" stroke="#231f20" stroke-width="0.2" >P</text><text transform="translate(405.60,313.50) scale(0.790,1)" font-size="9.20" font-family='"Liberation Sans", sans-serif' font-style="normal" font-weight="normal" fill="#231f20" stroke="#231f20" stroke-width="0.2" >inf</text><text transform="translate(417.70,310.00) scale(0.977,1)" font-size="12.20" font-family='"Liberation Sans", sans-serif' font-style="normal" font-weight="normal" fill="#231f20" stroke="#231f20" stroke-width="0.2" >= 0.779 and</text><text transform="translate(485.65,310.00) scale(1.194,1)" font-size="14.50" font-family='"Liberation Serif", serif' font-style="italic" font-weight="normal" fill="#231f20" stroke="#231f20" stroke-width="0.25" >β</text><text transform="translate(493.30,313.50) scale(1.000,1)" font-size="9.20" font-family='"Liberation Sans", sans-serif' font-style="italic" font-weight="normal" fill="#231f20" stroke="#231f20" stroke-width="0.2" >P</text><text transform="translate(499.10,313.50) scale(0.933,1)" font-size="9.20" font-family='"Liberation Sans", sans-serif' font-style="normal" font-weight="normal" fill="#231f20" stroke="#231f20" stroke-width="0.2" >inf</text><text transform="translate(511.70,310.00) scale(0.884,1)" font-size="12.20" font-family='"Liberation Sans", sans-serif' font-style="normal" font-weight="normal" fill="#231f20" stroke="#231f20" stroke-width="0.2" >= −1.767</text><g shape-rendering="crispEdges"><rect x="59" y="36" width="214" height="3" fill="url(#h1)"/><rect x="59" y="39" width="214" height="3" fill="url(#h2)"/><rect x="59" y="42" width="214" height="3" fill="url(#h3)"/><rect x="59" y="45" width="214" height="3" fill="url(#h4)"/><rect x="59" y="48" width="214" height="3" fill="url(#h5)"/><rect x="59" y="51" width="214" height="3" fill="url(#h6)"/><rect x="59" y="54" width="214" height="3" fill="url(#h7)"/><rect x="59" y="57" width="214" height="3" fill="url(#h8)"/><rect x="59" y="60" width="214" height="3" fill="url(#h9)"/><rect x="59" y="63" width="214" height="3" fill="url(#h10)"/><rect x="59" y="66" width="214" height="3" fill="url(#h11)"/><rect x="59" y="69" width="214" height="3" fill="url(#h12)"/><rect x="59" y="72" width="214" height="3" fill="url(#h13)"/><rect x="59" y="75" width="214" height="3" fill="url(#h14)"/><rect x="59" y="78" width="214" height="3" fill="url(#h15)"/><rect x="59" y="81" width="214" height="3" fill="url(#h16)"/><rect x="59" y="84" width="214" height="3" fill="url(#h17)"/><rect x="59" y="87" width="214" height="3" fill="url(#h18)"/><rect x="59" y="90" width="214" height="3" fill="url(#h19)"/><rect x="59" y="93" width="214" height="3" fill="url(#h20)"/><rect x="59" y="96" width="214" height="3" fill="url(#h21)"/><rect x="59" y="99" width="214" height="3" fill="url(#h22)"/><rect x="59" y="102" width="214" height="3" fill="url(#h23)"/><rect x="59" y="105" width="214" height="3" fill="url(#h24)"/><rect x="59" y="108" width="214" height="3" fill="url(#h25)"/><rect x="59" y="111" width="214" height="3" fill="url(#h26)"/><rect x="59" y="114" width="214" height="3" fill="url(#h27)"/><rect x="59" y="117" width="214" height="3" fill="url(#h28)"/><rect x="59" y="120" width="214" height="3" fill="url(#h29)"/><rect x="59" y="123" width="214" height="3" fill="url(#h30)"/><rect x="59" y="126" width="214" height="3" fill="url(#h31)"/><rect x="59" y="129" width="214" height="3" fill="url(#h32)"/><rect x="59" y="132" width="214" height="3" fill="url(#h33)"/><rect x="59" y="135" width="214" height="3" fill="url(#h34)"/><rect x="59" y="138" width="214" height="3" fill="url(#h35)"/><rect x="59" y="141" width="214" height="3" fill="url(#h36)"/><rect x="59" y="144" width="214" height="3" fill="url(#h37)"/><rect x="59" y="147" width="214" height="3" fill="url(#h38)"/><rect x="59" y="150" width="214" height="3" fill="url(#h39)"/><rect x="59" y="153" width="214" height="3" fill="url(#h40)"/><rect x="59" y="156" width="214" height="3" fill="url(#h41)"/><rect x="59" y="159" width="214" height="3" fill="url(#h42)"/><rect x="59" y="162" width="214" height="3" fill="url(#h43)"/><rect x="59" y="165" width="214" height="3" fill="url(#h44)"/><rect x="59" y="168" width="214" height="3" fill="url(#h45)"/><rect x="59" y="171" width="214" height="3" fill="url(#h46)"/><rect x="59" y="174" width="214" height="3" fill="url(#h47)"/><rect x="59" y="177" width="214" height="3" fill="url(#h48)"/><rect x="59" y="180" width="214" height="3" fill="url(#h49)"/><rect x="59" y="183" width="214" height="3" fill="url(#h50)"/><rect x="59" y="186" width="214" height="3" fill="url(#h51)"/><rect x="59" y="189" width="214" height="3" fill="url(#h52)"/><rect x="59" y="192" width="214" height="3" fill="url(#h53)"/><rect x="59" y="195" width="214" height="3" fill="url(#h54)"/><rect x="59" y="198" width="214" height="3" fill="url(#h55)"/><rect x="59" y="201" width="214" height="3" fill="url(#h56)"/><rect x="59" y="204" width="214" height="3" fill="url(#h57)"/><rect x="59" y="207" width="214" height="3" fill="url(#h58)"/><rect x="59" y="210" width="214" height="3" fill="url(#h59)"/><rect x="59" y="213" width="214" height="3" fill="url(#h60)"/><rect x="59" y="216" width="214" height="3" fill="url(#h61)"/><rect x="59" y="219" width="214" height="3" fill="url(#h62)"/><rect x="59" y="222" width="214" height="3" fill="url(#h63)"/><rect x="59" y="225" width="214" height="3" fill="url(#h64)"/><rect x="59" y="228" width="214" height="3" fill="url(#h65)"/><rect x="59" y="231" width="214" height="3" fill="url(#h66)"/><rect x="59" y="234" width="214" height="3" fill="url(#h67)"/><rect x="59" y="237" width="214" height="3" fill="url(#h68)"/></g><rect x="59" y="36" width="2.5" height="204" fill="url(#h69)" shape-rendering="crispEdges"/><polyline points="131.2,240.0 130.3,239.1 128.9,237.9 128.2,237.3 126.0,236.9 123.8,236.0 123.4,235.7 123.8,234.8 124.8,233.6 123.8,233.3 121.7,232.8 119.9,233.6 119.5,233.7 118.0,233.6 117.4,233.4 115.2,231.5 113.0,231.4 113.0,231.4 110.9,230.2 110.1,229.3 108.7,227.9 107.2,229.3 106.6,229.7 106.1,229.3 106.2,227.1 104.4,226.3 102.2,225.0 100.2,227.1 100.1,227.2 100.0,227.1 99.6,225.0 97.9,224.0 96.3,225.0 95.7,225.3 94.7,225.0 94.3,222.8 93.6,222.0 92.2,222.8 91.4,225.0 91.4,225.0 91.4,225.0 89.3,223.0 88.8,222.8 87.1,221.1 84.9,221.2 82.8,221.8 80.8,220.7 80.6,220.1 78.5,220.2 77.6,220.7 76.3,222.0 75.2,222.8 74.1,223.4 72.0,224.4 71.2,225.0 70.6,227.1 69.8,227.9 68.8,229.3 68.2,231.4 67.6,232.1 66.5,233.6 65.9,235.7 65.5,236.4 64.5,237.9 64.2,240.0" fill="none" stroke="#fff" stroke-width="0.9" stroke-linejoin="round" clip-path="url(#clipA1)"/><polyline points="248.7,240.0 247.1,238.3 246.7,237.9 247.1,237.0 249.2,236.4 249.5,235.7 249.2,235.1 247.1,235.1 245.0,233.6 244.9,233.5 242.7,232.0 240.8,233.6 240.6,233.9 240.0,233.6 238.9,231.4 238.5,229.3 238.4,229.2 236.4,227.1 236.3,226.9 235.9,227.1 234.1,228.0 231.9,228.0 230.6,229.3 229.8,229.9 227.6,229.4 225.4,229.6 224.9,229.3 223.7,227.1 224.4,225.0 223.3,224.1 221.4,222.8 223.3,221.4 223.8,220.7 223.3,220.1 222.7,220.7 221.1,222.6 219.0,222.8 217.2,220.7 216.8,220.2 216.6,220.7 214.6,221.7 213.7,222.8 212.5,223.6 211.2,222.8 212.1,220.7 210.3,219.0 208.2,219.8 206.2,220.7 206.0,220.8 205.9,220.7 205.7,218.5 206.0,218.4 207.6,216.4 206.0,215.1 203.8,215.9 201.7,214.6 201.5,214.2 200.5,212.1 199.5,211.2 198.7,212.1 197.4,214.2 197.3,214.2 197.3,214.2 195.5,212.1 195.2,211.6 193.0,211.8 192.2,209.9 190.9,208.9 188.7,208.4 187.6,209.9 186.5,211.8 185.9,209.9 184.5,207.8 186.2,205.6 184.6,203.5 185.5,201.3 184.4,200.9 184.1,201.3 184.2,203.5 183.6,205.6 184.0,207.8 182.2,209.3 181.5,207.8 181.3,205.6 180.1,204.2 177.9,204.3 175.7,204.2 173.8,203.5 175.7,201.7 176.0,201.3 175.7,201.2 175.4,201.3 173.6,203.3 171.4,201.9 169.4,201.3 171.4,199.7 171.6,199.2 171.4,198.9 170.9,199.2 169.2,201.2 167.1,200.0 166.3,199.2 164.9,197.4 162.8,198.0 162.4,197.1 162.8,196.3 164.7,194.9 162.8,194.2 160.6,193.4 158.8,194.9 158.4,195.8 158.0,194.9 158.0,192.8 158.4,191.8 159.1,190.6 158.4,190.1 157.7,190.6 156.3,191.5 154.5,190.6 155.1,188.5 154.1,187.7 151.9,187.5 149.8,187.3 147.6,187.0 147.2,186.3 145.8,184.2 145.5,183.8 144.8,184.2 143.3,186.0 141.1,185.7 139.4,184.2 139.0,182.9 136.8,183.2 135.7,182.0 134.7,181.2 132.9,179.9 132.5,178.6 131.8,179.9 130.3,181.2 129.5,179.9 129.0,177.7 128.2,176.8 126.0,177.7 123.8,176.7 121.8,175.6 121.7,175.5 120.4,173.4 119.5,171.9 118.7,173.4 117.4,175.3 116.0,173.4 115.2,171.4 114.3,171.3 113.0,171.2 112.9,171.3 110.9,172.6 108.7,172.3 107.1,171.3 108.7,169.5 109.1,169.1 108.7,168.7 106.6,167.5 105.6,169.1 104.4,170.5 102.2,169.5 100.1,169.6 99.6,169.1 97.9,168.2 95.7,167.2 93.6,168.3 92.0,167.0 91.5,164.8 91.4,164.8 91.4,164.8 89.3,165.5 87.6,164.8 87.1,164.6 84.9,164.2 82.9,162.7 82.8,162.6 82.7,162.7 82.8,163.0 83.5,164.8 82.8,165.2 80.6,167.0 80.6,167.0 80.6,167.0 79.2,164.8 78.5,164.6 78.2,164.8 77.7,167.0 76.3,167.9 74.2,169.1 74.1,169.3 74.0,169.1 72.0,168.6 71.5,169.1 71.9,171.3 71.4,173.4 69.8,175.0 69.6,175.6 69.1,177.7 68.0,179.9 67.6,180.7 67.0,182.0 66.0,184.2 65.6,186.3 65.5,186.6 64.9,188.5 64.8,190.6 63.6,192.8 63.3,193.3 62.5,194.9 62.5,197.1 61.9,199.2 61.2,199.8 59.0,200.1" fill="none" stroke="#fff" stroke-width="0.9" stroke-linejoin="round" clip-path="url(#clipA1)"/><polyline points="87.1,167.4 86.1,167.0 87.1,165.4 87.8,167.0 87.1,167.4" fill="none" stroke="#fff" stroke-width="0.9" stroke-linejoin="round" clip-path="url(#clipA1)"/><polyline points="76.3,171.8 75.3,171.3 76.3,170.5 76.8,171.3 76.3,171.8" fill="none" stroke="#fff" stroke-width="0.9" stroke-linejoin="round" clip-path="url(#clipA1)"/><polyline points="110.9,175.6 110.9,175.6 110.9,175.4 110.9,175.6 110.9,175.6" fill="none" stroke="#fff" stroke-width="0.9" stroke-linejoin="round" clip-path="url(#clipA1)"/><polyline points="151.9,193.2 151.2,192.8 149.8,191.7 149.0,190.6 149.8,189.1 151.9,189.0 153.9,190.6 153.3,192.8 151.9,193.2" fill="none" stroke="#fff" stroke-width="0.9" stroke-linejoin="round" clip-path="url(#clipA1)"/><polyline points="171.4,205.8 171.3,205.6 171.4,205.5 171.5,205.6 171.4,205.8" fill="none" stroke="#fff" stroke-width="0.9" stroke-linejoin="round" clip-path="url(#clipA1)"/><polyline points="169.2,207.9 169.2,207.8 169.2,207.5 169.5,207.8 169.2,207.9" fill="none" stroke="#fff" stroke-width="0.9" stroke-linejoin="round" clip-path="url(#clipA1)"/><polyline points="210.9,216.4 210.3,215.9 209.6,216.4 210.3,216.9 210.9,216.4" fill="none" stroke="#fff" stroke-width="0.9" stroke-linejoin="round" clip-path="url(#clipA1)"/><polyline points="240.6,222.8 240.6,222.8 240.5,222.8 240.6,223.0 240.6,222.8" fill="none" stroke="#fff" stroke-width="0.9" stroke-linejoin="round" clip-path="url(#clipA1)"/><polyline points="214.6,225.6 214.2,225.0 214.6,224.2 215.8,225.0 214.6,225.6" fill="none" stroke="#fff" stroke-width="0.9" stroke-linejoin="round" clip-path="url(#clipA1)"/><polyline points="231.9,231.6 231.7,231.4 231.9,231.1 232.4,231.4 231.9,231.6" fill="none" stroke="#fff" stroke-width="0.9" stroke-linejoin="round" clip-path="url(#clipA1)"/><polyline points="236.3,232.6 234.7,231.4 236.3,229.7 237.6,231.4 236.3,232.6" fill="none" stroke="#fff" stroke-width="0.9" stroke-linejoin="round" clip-path="url(#clipA1)"/><polyline points="244.9,236.0 242.7,236.5 241.9,235.7 242.7,235.0 244.9,233.8 245.7,235.7 244.9,236.0" fill="none" stroke="#fff" stroke-width="0.9" stroke-linejoin="round" clip-path="url(#clipA1)"/><polyline points="256.0,240.0 257.9,238.7 258.2,237.9 257.9,237.4 257.3,237.9 255.7,239.8 253.7,237.9 253.5,237.7 253.2,237.9 253.5,238.3 255.2,240.0" fill="none" stroke="#fff" stroke-width="0.9" stroke-linejoin="round" clip-path="url(#clipA1)"/><line x1="54.5" y1="26.5" x2="54.5" y2="241.0" stroke="#444" stroke-width="1"/><line x1="54.0" y1="240.5" x2="272.0" y2="240.5" stroke="#444" stroke-width="1"/><line x1="50.0" y1="240.5" x2="54.5" y2="240.5" stroke="#444" stroke-width="1"/><text transform="translate(38.47,243.90) scale(1.090,1)" font-size="10.30" font-family='"Liberation Sans", sans-serif' font-style="normal" font-weight="normal" fill="#231f20" stroke="#231f20" stroke-width="0.2" >0</text><line x1="54.5" y1="240.5" x2="54.5" y2="245.0" stroke="#444" stroke-width="1"/><text transform="translate(51.50,261.00) scale(1.140,1)" font-size="10.10" font-family='"Liberation Sans", sans-serif' font-style="normal" font-weight="normal" fill="#231f20" stroke="#231f20" stroke-width="0.2" >0</text><line x1="50.0" y1="198.5" x2="54.5" y2="198.5" stroke="#444" stroke-width="1"/><text transform="translate(22.86,201.90) scale(1.090,1)" font-size="10.30" font-family='"Liberation Sans", sans-serif' font-style="normal" font-weight="normal" fill="#231f20" stroke="#231f20" stroke-width="0.2" >0.05</text><line x1="97.75" y1="241.0" x2="97.75" y2="245.0" stroke="#b4b4b4" stroke-width="1.5"/><text transform="translate(86.50,261.00) scale(1.140,1)" font-size="10.10" font-family='"Liberation Sans", sans-serif' font-style="normal" font-weight="normal" fill="#231f20" stroke="#231f20" stroke-width="0.2" >0.05</text><line x1="50.0" y1="156.5" x2="54.5" y2="156.5" stroke="#444" stroke-width="1"/><text transform="translate(22.86,159.90) scale(1.090,1)" font-size="10.30" font-family='"Liberation Sans", sans-serif' font-style="normal" font-weight="normal" fill="#231f20" stroke="#231f20" stroke-width="0.2" >0.10</text><line x1="141.75" y1="241.0" x2="141.75" y2="245.0" stroke="#b4b4b4" stroke-width="1.5"/><text transform="translate(130.50,261.00) scale(1.140,1)" font-size="10.10" font-family='"Liberation Sans", sans-serif' font-style="normal" font-weight="normal" fill="#231f20" stroke="#231f20" stroke-width="0.2" >0.10</text><line x1="50.0" y1="113.5" x2="54.5" y2="113.5" stroke="#444" stroke-width="1"/><text transform="translate(22.86,116.90) scale(1.090,1)" font-size="10.30" font-family='"Liberation Sans", sans-serif' font-style="normal" font-weight="normal" fill="#231f20" stroke="#231f20" stroke-width="0.2" >0.15</text><line x1="184.75" y1="241.0" x2="184.75" y2="245.0" stroke="#b4b4b4" stroke-width="1.5"/><text transform="translate(173.50,261.00) scale(1.140,1)" font-size="10.10" font-family='"Liberation Sans", sans-serif' font-style="normal" font-weight="normal" fill="#231f20" stroke="#231f20" stroke-width="0.2" >0.15</text><line x1="50.0" y1="71.5" x2="54.5" y2="71.5" stroke="#444" stroke-width="1"/><text transform="translate(22.86,74.90) scale(1.090,1)" font-size="10.30" font-family='"Liberation Sans", sans-serif' font-style="normal" font-weight="normal" fill="#231f20" stroke="#231f20" stroke-width="0.2" >0.20</text><line x1="228.75" y1="241.0" x2="228.75" y2="245.0" stroke="#b4b4b4" stroke-width="1.5"/><text transform="translate(217.50,261.00) scale(1.140,1)" font-size="10.10" font-family='"Liberation Sans", sans-serif' font-style="normal" font-weight="normal" fill="#231f20" stroke="#231f20" stroke-width="0.2" >0.20</text><line x1="50.0" y1="29.5" x2="54.5" y2="29.5" stroke="#444" stroke-width="1"/><text transform="translate(22.86,32.90) scale(1.090,1)" font-size="10.30" font-family='"Liberation Sans", sans-serif' font-style="normal" font-weight="normal" fill="#231f20" stroke="#231f20" stroke-width="0.2" >0.25</text><line x1="271.75" y1="241.0" x2="271.75" y2="245.0" stroke="#b4b4b4" stroke-width="1.5"/><text transform="translate(260.50,261.00) scale(1.140,1)" font-size="10.10" font-family='"Liberation Sans", sans-serif' font-style="normal" font-weight="normal" fill="#231f20" stroke="#231f20" stroke-width="0.2" >0.25</text><g shape-rendering="crispEdges"><rect x="371" y="37" width="211" height="3" fill="url(#h70)"/><rect x="371" y="40" width="211" height="3" fill="url(#h71)"/><rect x="371" y="43" width="211" height="3" fill="url(#h72)"/><rect x="371" y="46" width="211" height="3" fill="url(#h73)"/><rect x="371" y="49" width="211" height="3" fill="url(#h74)"/><rect x="371" y="52" width="211" height="3" fill="url(#h75)"/><rect x="371" y="55" width="211" height="3" fill="url(#h76)"/><rect x="371" y="58" width="211" height="3" fill="url(#h77)"/><rect x="371" y="61" width="211" height="3" fill="url(#h78)"/><rect x="371" y="64" width="211" height="3" fill="url(#h79)"/><rect x="371" y="67" width="211" height="3" fill="url(#h80)"/><rect x="371" y="70" width="211" height="3" fill="url(#h81)"/><rect x="371" y="73" width="211" height="3" fill="url(#h82)"/><rect x="371" y="76" width="211" height="3" fill="url(#h83)"/><rect x="371" y="79" width="211" height="3" fill="url(#h84)"/><rect x="371" y="82" width="211" height="3" fill="url(#h85)"/><rect x="371" y="85" width="211" height="3" fill="url(#h86)"/><rect x="371" y="88" width="211" height="3" fill="url(#h87)"/><rect x="371" y="91" width="211" height="3" fill="url(#h88)"/><rect x="371" y="94" width="211" height="3" fill="url(#h89)"/><rect x="371" y="97" width="211" height="3" fill="url(#h90)"/><rect x="371" y="100" width="211" height="3" fill="url(#h91)"/><rect x="371" y="103" width="211" height="3" fill="url(#h92)"/><rect x="371" y="106" width="211" height="3" fill="url(#h93)"/><rect x="371" y="109" width="211" height="3" fill="url(#h94)"/><rect x="371" y="112" width="211" height="3" fill="url(#h95)"/><rect x="371" y="115" width="211" height="3" fill="url(#h96)"/><rect x="371" y="118" width="211" height="3" fill="url(#h97)"/><rect x="371" y="121" width="211" height="3" fill="url(#h98)"/><rect x="371" y="124" width="211" height="3" fill="url(#h99)"/><rect x="371" y="127" width="211" height="3" fill="url(#h100)"/><rect x="371" y="130" width="211" height="3" fill="url(#h101)"/><rect x="371" y="133" width="211" height="3" fill="url(#h102)"/><rect x="371" y="136" width="211" height="3" fill="url(#h103)"/><rect x="371" y="139" width="211" height="3" fill="url(#h104)"/><rect x="371" y="142" width="211" height="3" fill="url(#h105)"/><rect x="371" y="145" width="211" height="3" fill="url(#h106)"/><rect x="371" y="148" width="211" height="3" fill="url(#h107)"/><rect x="371" y="151" width="211" height="3" fill="url(#h108)"/><rect x="371" y="154" width="211" height="3" fill="url(#h109)"/><rect x="371" y="157" width="211" height="3" fill="url(#h110)"/><rect x="371" y="160" width="211" height="3" fill="url(#h111)"/><rect x="371" y="163" width="211" height="3" fill="url(#h112)"/><rect x="371" y="166" width="211" height="3" fill="url(#h113)"/><rect x="371" y="169" width="211" height="3" fill="url(#h114)"/><rect x="371" y="172" width="211" height="3" fill="url(#h115)"/><rect x="371" y="175" width="211" height="3" fill="url(#h116)"/><rect x="371" y="178" width="211" height="3" fill="url(#h117)"/><rect x="371" y="181" width="211" height="3" fill="url(#h118)"/><rect x="371" y="184" width="211" height="3" fill="url(#h119)"/><rect x="371" y="187" width="211" height="3" fill="url(#h120)"/><rect x="371" y="190" width="211" height="3" fill="url(#h121)"/><rect x="371" y="193" width="211" height="3" fill="url(#h122)"/><rect x="371" y="196" width="211" height="3" fill="url(#h123)"/><rect x="371" y="199" width="211" height="3" fill="url(#h124)"/><rect x="371" y="202" width="211" height="3" fill="url(#h125)"/><rect x="371" y="205" width="211" height="3" fill="url(#h126)"/><rect x="371" y="208" width="211" height="3" fill="url(#h127)"/><rect x="371" y="211" width="211" height="3" fill="url(#h128)"/><rect x="371" y="214" width="211" height="3" fill="url(#h129)"/><rect x="371" y="217" width="211" height="3" fill="url(#h130)"/><rect x="371" y="220" width="211" height="3" fill="url(#h131)"/><rect x="371" y="223" width="211" height="3" fill="url(#h132)"/><rect x="371" y="226" width="211" height="3" fill="url(#h133)"/><rect x="371" y="229" width="211" height="3" fill="url(#h134)"/><rect x="371" y="232" width="211" height="3" fill="url(#h135)"/><rect x="371" y="235" width="211" height="3" fill="url(#h136)"/><rect x="371" y="238" width="211" height="3" fill="url(#h137)"/></g><rect x="371" y="37" width="2" height="204" fill="url(#h138)" shape-rendering="crispEdges"/><polyline points="399.2,241.0 399.0,240.9 396.8,239.7 395.8,238.9 394.7,237.4 392.8,236.7 392.5,236.6 392.4,236.7 390.4,237.7 388.7,236.7 388.2,236.2 387.4,236.7 386.1,237.3 383.9,238.4 381.8,238.8 379.6,238.4 379.3,238.9 378.3,241.0" fill="none" stroke="#fff" stroke-width="0.9" stroke-linejoin="round" clip-path="url(#clipA2)"/><polyline points="441.4,241.0 442.1,239.5 442.4,238.9 442.1,238.6 439.9,237.2 437.7,236.8 437.6,236.7 435.6,235.5 434.6,234.6 433.5,232.4 433.4,232.4 432.0,230.3 431.3,229.8 429.1,230.1 428.4,228.1 427.0,226.8 424.8,226.2 424.7,226.0 422.7,224.7 421.4,223.8 420.5,222.5 418.7,221.7 418.4,221.5 417.0,221.7 416.2,221.8 416.1,221.7 415.4,219.5 414.1,218.6 411.9,217.9 411.0,217.4 409.8,216.7 408.0,215.2 407.6,214.9 405.8,213.1 405.4,211.7 403.3,211.4 402.2,210.9 401.1,209.6 400.0,208.8 399.0,208.1 396.8,206.7 396.7,206.6 395.1,204.5 394.7,204.0 394.1,204.5 392.5,205.5 391.6,204.5 390.4,203.6 388.7,204.5 388.2,205.2 386.2,206.6 386.1,206.7 383.9,206.7 381.8,206.8 380.7,208.8 379.6,209.3 377.7,210.9 377.5,211.4 376.3,213.1 375.6,215.2 375.3,215.5 373.6,217.4 373.5,219.5 373.2,220.0 371.4,219.5 371.0,219.3" fill="none" stroke="#fff" stroke-width="0.9" stroke-linejoin="round" clip-path="url(#clipA2)"/><polyline points="386.3,137.9 386.1,137.6 385.2,137.9 386.1,138.2 386.3,137.9" fill="none" stroke="#fff" stroke-width="0.9" stroke-linejoin="round" clip-path="url(#clipA2)"/><polyline points="540.2,241.0 539.0,238.9 540.5,236.7 538.9,236.0 537.5,236.7 536.8,237.4 535.1,236.7 534.6,236.6 533.1,234.6 532.5,233.5 531.2,232.4 530.3,231.2 528.2,231.4 527.1,230.3 528.2,228.4 528.3,228.1 528.2,227.9 527.1,226.0 526.0,224.9 524.5,226.0 523.9,228.1 523.8,228.1 521.7,229.4 519.6,229.8 517.4,228.9 516.9,228.1 515.8,226.0 515.3,225.8 513.1,223.8 513.1,223.8 513.1,223.8 514.9,221.7 513.1,221.4 512.9,221.7 510.9,222.6 508.8,223.2 507.8,221.7 507.8,219.5 508.0,217.4 506.6,216.8 504.5,216.7 502.9,215.2 502.3,215.1 500.2,213.3 499.3,213.1 500.2,212.4 500.5,210.9 500.2,210.4 498.5,208.8 498.0,208.0 497.6,208.8 495.9,210.5 494.1,208.8 494.5,206.6 495.2,204.5 493.7,203.9 492.6,204.5 491.6,205.2 489.4,205.4 488.2,204.5 488.3,202.3 489.4,200.4 489.6,200.2 489.4,199.9 488.9,200.2 487.3,200.8 486.2,200.2 485.1,199.4 484.1,200.2 484.1,202.3 483.0,202.6 482.6,202.3 480.8,200.4 480.6,200.2 478.8,198.1 480.8,195.9 480.9,195.9 480.8,195.9 478.7,195.7 477.2,193.8 476.8,191.6 476.5,191.2 474.3,191.5 472.3,189.5 472.2,189.4 470.1,187.3 470.5,185.2 470.0,184.2 467.9,184.9 467.6,185.2 465.7,186.7 464.2,185.2 463.6,184.2 462.7,183.0 461.4,181.5 459.3,183.0 459.1,183.0 457.1,183.6 455.0,183.2 454.2,183.0 455.0,182.3 455.9,180.9 455.0,179.7 453.5,178.7 452.8,178.6 450.7,176.9 450.5,176.6 448.5,175.2 447.3,176.6 446.4,177.4 444.9,176.6 444.2,176.0 442.1,174.8 441.8,174.4 442.1,174.0 444.2,172.5 445.0,172.3 444.2,172.1 442.1,171.2 440.5,172.3 439.9,172.6 439.4,172.3 439.4,170.1 437.7,168.6 435.6,168.9 434.5,168.0 434.6,165.8 433.4,165.1 431.3,164.8 429.9,165.8 429.1,166.3 428.6,165.8 428.4,163.7 427.0,162.8 425.2,161.5 424.8,161.2 422.7,160.4 420.5,160.3 419.7,159.4 418.4,158.9 416.2,159.2 415.2,157.3 414.1,155.7 413.5,155.1 411.9,154.5 410.4,155.1 409.8,155.5 409.0,155.1 407.6,154.1 406.4,153.0 405.8,150.8 406.7,148.7 405.4,147.2 403.3,148.4 401.1,148.1 400.4,148.7 399.0,149.1 398.7,148.7 397.5,146.5 399.0,144.9 400.0,144.4 399.7,142.2 399.0,141.5 398.2,142.2 397.5,144.4 396.8,144.9 396.5,144.4 394.7,142.7 394.0,142.2 392.5,141.0 390.4,141.4 389.1,142.2 388.5,144.4 388.2,144.7 388.0,144.4 386.1,142.7 383.9,143.5 382.4,142.2 383.0,140.1 381.8,139.6 380.5,140.1 379.6,140.9 377.5,141.8 377.2,142.2 377.5,143.9 379.6,143.5 381.4,144.4 379.6,145.4 378.6,146.5 377.5,147.2 375.7,148.7 377.5,149.7 379.6,149.9 379.8,150.8 379.6,151.1 377.5,152.4 375.3,151.3 374.2,153.0 374.8,155.1 373.9,157.3 373.2,158.5 371.4,159.4 371.0,159.7" fill="none" stroke="#fff" stroke-width="0.9" stroke-linejoin="round" clip-path="url(#clipA2)"/><polyline points="403.3,151.0 401.1,151.0 401.0,150.8 401.1,149.9 403.3,149.3 404.2,150.8 403.3,151.0" fill="none" stroke="#fff" stroke-width="0.9" stroke-linejoin="round" clip-path="url(#clipA2)"/><polyline points="419.2,155.1 418.4,154.9 418.0,155.1 418.4,155.6 419.2,155.1" fill="none" stroke="#fff" stroke-width="0.9" stroke-linejoin="round" clip-path="url(#clipA2)"/><polyline points="405.4,157.6 405.0,157.3 405.4,156.5 405.8,157.3 405.4,157.6" fill="none" stroke="#fff" stroke-width="0.9" stroke-linejoin="round" clip-path="url(#clipA2)"/><polyline points="438.1,165.8 437.7,165.6 437.4,165.8 437.7,166.3 438.1,165.8" fill="none" stroke="#fff" stroke-width="0.9" stroke-linejoin="round" clip-path="url(#clipA2)"/><polyline points="433.4,170.3 433.1,170.1 433.4,169.9 433.6,170.1 433.4,170.3" fill="none" stroke="#fff" stroke-width="0.9" stroke-linejoin="round" clip-path="url(#clipA2)"/><polyline points="448.7,172.3 448.5,172.0 447.6,172.3 448.5,172.8 448.7,172.3" fill="none" stroke="#fff" stroke-width="0.9" stroke-linejoin="round" clip-path="url(#clipA2)"/><polyline points="461.9,178.7 461.4,177.9 461.0,178.7 461.4,180.1 461.9,178.7" fill="none" stroke="#fff" stroke-width="0.9" stroke-linejoin="round" clip-path="url(#clipA2)"/><polyline points="450.7,183.1 450.6,183.0 450.7,183.0 450.9,183.0 450.7,183.1" fill="none" stroke="#fff" stroke-width="0.9" stroke-linejoin="round" clip-path="url(#clipA2)"/><polyline points="472.2,193.1 470.0,192.6 469.2,191.6 467.9,190.2 467.0,189.5 466.8,187.3 467.9,185.8 469.9,187.3 470.0,187.3 472.1,189.5 472.2,189.6 474.3,191.6 472.2,193.1" fill="none" stroke="#fff" stroke-width="0.9" stroke-linejoin="round" clip-path="url(#clipA2)"/><polyline points="467.9,194.1 467.7,193.8 467.9,193.5 468.3,193.8 467.9,194.1" fill="none" stroke="#fff" stroke-width="0.9" stroke-linejoin="round" clip-path="url(#clipA2)"/><polyline points="474.3,197.0 473.6,195.9 474.3,195.2 476.0,195.9 474.3,197.0" fill="none" stroke="#fff" stroke-width="0.9" stroke-linejoin="round" clip-path="url(#clipA2)"/><polyline points="476.5,198.2 476.2,198.1 476.5,197.3 477.3,198.1 476.5,198.2" fill="none" stroke="#fff" stroke-width="0.9" stroke-linejoin="round" clip-path="url(#clipA2)"/><polyline points="487.3,207.0 486.5,206.6 487.3,205.8 487.8,206.6 487.3,207.0" fill="none" stroke="#fff" stroke-width="0.9" stroke-linejoin="round" clip-path="url(#clipA2)"/><polyline points="509.2,210.9 508.8,210.5 508.0,210.9 508.8,211.4 509.2,210.9" fill="none" stroke="#fff" stroke-width="0.9" stroke-linejoin="round" clip-path="url(#clipA2)"/><polyline points="493.7,213.6 493.4,213.1 493.7,212.1 494.2,213.1 493.7,213.6" fill="none" stroke="#fff" stroke-width="0.9" stroke-linejoin="round" clip-path="url(#clipA2)"/><polyline points="498.0,217.7 498.0,217.4 498.0,217.3 498.1,217.4 498.0,217.7" fill="none" stroke="#fff" stroke-width="0.9" stroke-linejoin="round" clip-path="url(#clipA2)"/><polyline points="502.3,218.8 501.8,217.4 502.3,215.5 504.1,217.4 502.3,218.8" fill="none" stroke="#fff" stroke-width="0.9" stroke-linejoin="round" clip-path="url(#clipA2)"/><polyline points="519.7,226.0 519.6,225.9 519.2,226.0 519.6,226.1 519.7,226.0" fill="none" stroke="#fff" stroke-width="0.9" stroke-linejoin="round" clip-path="url(#clipA2)"/><polyline points="526.0,228.7 523.9,228.1 526.0,227.7 527.5,228.1 526.0,228.7" fill="none" stroke="#fff" stroke-width="0.9" stroke-linejoin="round" clip-path="url(#clipA2)"/><polyline points="515.3,231.2 514.4,230.3 515.3,228.8 517.0,230.3 515.3,231.2" fill="none" stroke="#fff" stroke-width="0.9" stroke-linejoin="round" clip-path="url(#clipA2)"/><polyline points="534.7,230.3 534.6,230.2 534.5,230.3 534.6,230.4 534.7,230.3" fill="none" stroke="#fff" stroke-width="0.9" stroke-linejoin="round" clip-path="url(#clipA2)"/><polyline points="530.3,235.6 529.0,234.6 530.3,233.2 531.5,234.6 530.3,235.6" fill="none" stroke="#fff" stroke-width="0.9" stroke-linejoin="round" clip-path="url(#clipA2)"/><polyline points="532.5,239.3 532.1,238.9 532.5,238.1 533.0,238.9 532.5,239.3" fill="none" stroke="#fff" stroke-width="0.9" stroke-linejoin="round" clip-path="url(#clipA2)"/><line x1="365.5" y1="26.5" x2="365.5" y2="242.0" stroke="#444" stroke-width="1"/><line x1="365.0" y1="241.5" x2="582.0" y2="241.5" stroke="#444" stroke-width="1"/><line x1="361.0" y1="241.5" x2="365.5" y2="241.5" stroke="#444" stroke-width="1"/><text transform="translate(349.07,244.90) scale(1.090,1)" font-size="10.30" font-family='"Liberation Sans", sans-serif' font-style="normal" font-weight="normal" fill="#231f20" stroke="#231f20" stroke-width="0.2" >0</text><line x1="365.5" y1="241.5" x2="365.5" y2="246.0" stroke="#444" stroke-width="1"/><text transform="translate(362.50,261.00) scale(1.140,1)" font-size="10.10" font-family='"Liberation Sans", sans-serif' font-style="normal" font-weight="normal" fill="#231f20" stroke="#231f20" stroke-width="0.2" >0</text><line x1="361.0" y1="199.5" x2="365.5" y2="199.5" stroke="#444" stroke-width="1"/><text transform="translate(333.46,202.90) scale(1.090,1)" font-size="10.30" font-family='"Liberation Sans", sans-serif' font-style="normal" font-weight="normal" fill="#231f20" stroke="#231f20" stroke-width="0.2" >0.05</text><line x1="408.5" y1="241.5" x2="408.5" y2="246.0" stroke="#444" stroke-width="1"/><text transform="translate(397.50,261.00) scale(1.140,1)" font-size="10.10" font-family='"Liberation Sans", sans-serif' font-style="normal" font-weight="normal" fill="#231f20" stroke="#231f20" stroke-width="0.2" >0.05</text><line x1="361.0" y1="157.5" x2="365.5" y2="157.5" stroke="#444" stroke-width="1"/><text transform="translate(333.46,160.90) scale(1.090,1)" font-size="10.30" font-family='"Liberation Sans", sans-serif' font-style="normal" font-weight="normal" fill="#231f20" stroke="#231f20" stroke-width="0.2" >0.10</text><line x1="451.5" y1="241.5" x2="451.5" y2="246.0" stroke="#444" stroke-width="1"/><text transform="translate(440.50,261.00) scale(1.140,1)" font-size="10.10" font-family='"Liberation Sans", sans-serif' font-style="normal" font-weight="normal" fill="#231f20" stroke="#231f20" stroke-width="0.2" >0.10</text><line x1="361.0" y1="114.5" x2="365.5" y2="114.5" stroke="#444" stroke-width="1"/><text transform="translate(333.46,117.90) scale(1.090,1)" font-size="10.30" font-family='"Liberation Sans", sans-serif' font-style="normal" font-weight="normal" fill="#231f20" stroke="#231f20" stroke-width="0.2" >0.15</text><line x1="495.5" y1="241.5" x2="495.5" y2="246.0" stroke="#444" stroke-width="1"/><text transform="translate(484.50,261.00) scale(1.140,1)" font-size="10.10" font-family='"Liberation Sans", sans-serif' font-style="normal" font-weight="normal" fill="#231f20" stroke="#231f20" stroke-width="0.2" >0.15</text><line x1="361.0" y1="72.5" x2="365.5" y2="72.5" stroke="#444" stroke-width="1"/><text transform="translate(333.46,75.90) scale(1.090,1)" font-size="10.30" font-family='"Liberation Sans", sans-serif' font-style="normal" font-weight="normal" fill="#231f20" stroke="#231f20" stroke-width="0.2" >0.20</text><line x1="538.5" y1="241.5" x2="538.5" y2="246.0" stroke="#444" stroke-width="1"/><text transform="translate(527.50,261.00) scale(1.140,1)" font-size="10.10" font-family='"Liberation Sans", sans-serif' font-style="normal" font-weight="normal" fill="#231f20" stroke="#231f20" stroke-width="0.2" >0.20</text><line x1="361.0" y1="30.5" x2="365.5" y2="30.5" stroke="#444" stroke-width="1"/><text transform="translate(333.46,33.90) scale(1.090,1)" font-size="10.30" font-family='"Liberation Sans", sans-serif' font-style="normal" font-weight="normal" fill="#231f20" stroke="#231f20" stroke-width="0.2" >0.25</text><line x1="581.5" y1="241.5" x2="581.5" y2="246.0" stroke="#444" stroke-width="1"/><text transform="translate(570.50,261.00) scale(1.140,1)" font-size="10.10" font-family='"Liberation Sans", sans-serif' font-style="normal" font-weight="normal" fill="#231f20" stroke="#231f20" stroke-width="0.2" >0.25</text><polyline points="59.5,36.5 62,40 59.5,43.5" fill="none" stroke="#fff" stroke-width="0.9"/><path d="M371.2,37.5 H377 V48 H374.5 V72 H373 V102 H371.2 Z" fill="#f6e11f"/><polyline points="377,37.5 377,47.5 374.8,50 374.8,71 373.8,73 374.8,75 373.3,78 373.3,102" fill="none" stroke="#fff" stroke-width="0.9"/><text transform="translate(10.20,153.13) rotate(-90) scale(1.100,1)" font-size="13.60" font-family='"Liberation Serif", serif' font-style="italic" font-weight="normal" fill="#231f20" stroke="#231f20" stroke-width="0.2" >λ</text><text transform="translate(14.20,146.30) rotate(-90) scale(0.967,1)" font-size="9.30" font-family='"Liberation Sans", sans-serif' font-style="normal" font-weight="normal" fill="#231f20" stroke="#231f20" stroke-width="0.2" >syntopic</text><text transform="translate(324.80,157.73) rotate(-90) scale(1.100,1)" font-size="13.60" font-family='"Liberation Serif", serif' font-style="italic" font-weight="normal" fill="#231f20" stroke="#231f20" stroke-width="0.2" >λ</text><text transform="translate(328.30,150.90) rotate(-90) scale(0.970,1)" font-size="9.30" font-family='"Liberation Sans", sans-serif' font-style="normal" font-weight="normal" fill="#231f20" stroke="#231f20" stroke-width="0.2" >syntopic</text><text transform="translate(160.27,275.50) scale(1.087,1)" font-size="13.60" font-family='"Liberation Serif", serif' font-style="italic" font-weight="normal" fill="#231f20" stroke="#231f20" stroke-width="0.2" >λ</text><text transform="translate(166.70,279.20) scale(0.971,1)" font-size="9.60" font-family='"Liberation Sans", sans-serif' font-style="normal" font-weight="normal" fill="#231f20" stroke="#231f20" stroke-width="0.2" >rd</text><text transform="translate(467.17,275.50) scale(1.087,1)" font-size="13.60" font-family='"Liberation Serif", serif' font-style="italic" font-weight="normal" fill="#231f20" stroke="#231f20" stroke-width="0.2" >λ</text><text transform="translate(473.60,279.20) scale(0.971,1)" font-size="9.60" font-family='"Liberation Sans", sans-serif' font-style="normal" font-weight="normal" fill="#231f20" stroke="#231f20" stroke-width="0.2" >rd</text><rect x="619" y="37" width="25" height="200.7" fill="url(#cbar)" /><line x1="619" y1="187.51999999999998" x2="621.5" y2="187.51999999999998" stroke="#ddd" stroke-width="1"/><line x1="641.5" y1="187.51999999999998" x2="644" y2="187.51999999999998" stroke="#ddd" stroke-width="1"/><line x1="619" y1="137.33999999999997" x2="621.5" y2="137.33999999999997" stroke="#ddd" stroke-width="1"/><line x1="641.5" y1="137.33999999999997" x2="644" y2="137.33999999999997" stroke="#ddd" stroke-width="1"/><line x1="619" y1="87.16" x2="621.5" y2="87.16" stroke="#ddd" stroke-width="1"/><line x1="641.5" y1="87.16" x2="644" y2="87.16" stroke="#ddd" stroke-width="1"/><text transform="translate(651.00,241.60) scale(1.080,1)" font-size="10.30" font-family='"Liberation Sans", sans-serif' font-style="normal" font-weight="normal" fill="#231f20" stroke="#231f20" stroke-width="0.2" >0</text><text transform="translate(651.00,191.42) scale(1.080,1)" font-size="10.30" font-family='"Liberation Sans", sans-serif' font-style="normal" font-weight="normal" fill="#231f20" stroke="#231f20" stroke-width="0.2" >0.25</text><text transform="translate(651.00,141.24) scale(1.080,1)" font-size="10.30" font-family='"Liberation Sans", sans-serif' font-style="normal" font-weight="normal" fill="#231f20" stroke="#231f20" stroke-width="0.2" >0.50</text><text transform="translate(651.00,91.06) scale(1.080,1)" font-size="10.30" font-family='"Liberation Sans", sans-serif' font-style="normal" font-weight="normal" fill="#231f20" stroke="#231f20" stroke-width="0.2" >0.75</text><text transform="translate(651.00,40.88) scale(1.080,1)" font-size="10.30" font-family='"Liberation Sans", sans-serif' font-style="normal" font-weight="normal" fill="#231f20" stroke="#231f20" stroke-width="0.2" >1.00</text><text transform="translate(628.60,21.90) scale(1.000,1)" font-size="13.60" font-family='"Liberation Serif", serif' font-style="italic" font-weight="normal" fill="#231f20" stroke="#231f20" stroke-width="0.2" >δ</text><rect x="55" y="322" width="2" height="173.6" fill="#bdbdbd" /><rect x="55" y="495" width="230.3" height="2" fill="#a3a3a3" /><line x1="51" y1="495.5" x2="55" y2="495.5" stroke="#555" stroke-width="1"/><text transform="translate(40.30,499.10) scale(1.060,1)" font-size="10.20" font-family='"Liberation Sans", sans-serif' font-style="normal" font-weight="normal" fill="#231f20" stroke="#231f20" stroke-width="0.2" >0</text><line x1="51" y1="455.5" x2="55" y2="455.5" stroke="#555" stroke-width="1"/><text transform="translate(25.27,459.10) scale(1.060,1)" font-size="10.20" font-family='"Liberation Sans", sans-serif' font-style="normal" font-weight="normal" fill="#231f20" stroke="#231f20" stroke-width="0.2" >0.25</text><line x1="51" y1="414.5" x2="55" y2="414.5" stroke="#555" stroke-width="1"/><text transform="translate(25.27,418.10) scale(1.060,1)" font-size="10.20" font-family='"Liberation Sans", sans-serif' font-style="normal" font-weight="normal" fill="#231f20" stroke="#231f20" stroke-width="0.2" >0.50</text><line x1="51" y1="374.5" x2="55" y2="374.5" stroke="#555" stroke-width="1"/><text transform="translate(25.27,378.10) scale(1.060,1)" font-size="10.20" font-family='"Liberation Sans", sans-serif' font-style="normal" font-weight="normal" fill="#231f20" stroke="#231f20" stroke-width="0.2" >0.75</text><line x1="51" y1="334.5" x2="55" y2="334.5" stroke="#555" stroke-width="1"/><text transform="translate(25.27,338.10) scale(1.060,1)" font-size="10.20" font-family='"Liberation Sans", sans-serif' font-style="normal" font-weight="normal" fill="#231f20" stroke="#231f20" stroke-width="0.2" >1.00</text><line x1="60.5" y1="497" x2="60.5" y2="500.8" stroke="#555" stroke-width="1"/><text transform="translate(57.53,513.30) scale(1.040,1)" font-size="10.30" font-family='"Liberation Sans", sans-serif' font-style="normal" font-weight="normal" fill="#231f20" stroke="#231f20" stroke-width="0.2" >0</text><line x1="103.5" y1="497" x2="103.5" y2="500.8" stroke="#555" stroke-width="1"/><text transform="translate(93.08,513.30) scale(1.040,1)" font-size="10.30" font-family='"Liberation Sans", sans-serif' font-style="normal" font-weight="normal" fill="#231f20" stroke="#231f20" stroke-width="0.2" >0.05</text><line x1="146.5" y1="497" x2="146.5" y2="500.8" stroke="#555" stroke-width="1"/><text transform="translate(136.08,513.30) scale(1.040,1)" font-size="10.30" font-family='"Liberation Sans", sans-serif' font-style="normal" font-weight="normal" fill="#231f20" stroke="#231f20" stroke-width="0.2" >0.10</text><line x1="189.5" y1="497" x2="189.5" y2="500.8" stroke="#555" stroke-width="1"/><text transform="translate(179.08,513.30) scale(1.040,1)" font-size="10.30" font-family='"Liberation Sans", sans-serif' font-style="normal" font-weight="normal" fill="#231f20" stroke="#231f20" stroke-width="0.2" >0.15</text><line x1="233.5" y1="497" x2="233.5" y2="500.8" stroke="#555" stroke-width="1"/><text transform="translate(223.08,513.30) scale(1.040,1)" font-size="10.30" font-family='"Liberation Sans", sans-serif' font-style="normal" font-weight="normal" fill="#231f20" stroke="#231f20" stroke-width="0.2" >0.20</text><line x1="276.5" y1="497" x2="276.5" y2="500.8" stroke="#555" stroke-width="1"/><text transform="translate(266.08,513.30) scale(1.040,1)" font-size="10.30" font-family='"Liberation Sans", sans-serif' font-style="normal" font-weight="normal" fill="#231f20" stroke="#231f20" stroke-width="0.2" >0.25</text><g fill="#1b9e77" fill-opacity="0.45" stroke="#1b9e77" stroke-opacity="0.65" stroke-width="0.8"><circle cx="60.4" cy="439.8" r="2.75"/><circle cx="62.5" cy="439.8" r="2.75"/><circle cx="64.5" cy="439.8" r="2.75"/><circle cx="66.6" cy="439.8" r="2.75"/><circle cx="68.7" cy="439.8" r="2.75"/><circle cx="70.8" cy="439.8" r="2.75"/><circle cx="72.8" cy="439.8" r="2.75"/><circle cx="74.9" cy="439.8" r="2.75"/><circle cx="77.0" cy="439.8" r="2.75"/><circle cx="79.0" cy="439.8" r="2.75"/><circle cx="81.1" cy="439.8" r="2.75"/><circle cx="83.2" cy="439.8" r="2.75"/><circle cx="89.7" cy="439.8" r="2.75"/><circle cx="82.0" cy="429.3" r="2.75"/><circle cx="84.0" cy="429.3" r="2.75"/><circle cx="86.1" cy="429.3" r="2.75"/><circle cx="88.2" cy="429.3" r="2.75"/><circle cx="90.3" cy="429.3" r="2.75"/><circle cx="92.3" cy="429.3" r="2.75"/><circle cx="93.2" cy="412.9" r="2.75"/><circle cx="95.3" cy="412.9" r="2.75"/><circle cx="97.3" cy="412.9" r="2.75"/><circle cx="99.4" cy="412.9" r="2.75"/><circle cx="101.5" cy="412.9" r="2.75"/><circle cx="103.5" cy="412.9" r="2.75"/><circle cx="105.6" cy="412.9" r="2.75"/><circle cx="107.7" cy="412.9" r="2.75"/><circle cx="109.8" cy="412.9" r="2.75"/><circle cx="111.8" cy="412.9" r="2.75"/><circle cx="113.9" cy="412.9" r="2.75"/><circle cx="116.0" cy="412.9" r="2.75"/><circle cx="118.0" cy="412.9" r="2.75"/><circle cx="120.1" cy="412.9" r="2.75"/><circle cx="122.2" cy="412.9" r="2.75"/><circle cx="124.3" cy="412.9" r="2.75"/><circle cx="126.3" cy="412.9" r="2.75"/><circle cx="128.4" cy="412.9" r="2.75"/><circle cx="130.5" cy="412.9" r="2.75"/><circle cx="132.5" cy="412.9" r="2.75"/><circle cx="134.6" cy="412.9" r="2.75"/><circle cx="136.7" cy="412.9" r="2.75"/><circle cx="138.8" cy="412.9" r="2.75"/><circle cx="140.8" cy="412.9" r="2.75"/><circle cx="142.9" cy="412.9" r="2.75"/><circle cx="144.1" cy="398.6" r="2.75"/><circle cx="146.2" cy="398.6" r="2.75"/><circle cx="148.3" cy="398.6" r="2.75"/><circle cx="150.3" cy="398.6" r="2.75"/><circle cx="152.4" cy="398.6" r="2.75"/><circle cx="154.5" cy="398.6" r="2.75"/><circle cx="156.5" cy="398.6" r="2.75"/><circle cx="158.6" cy="398.6" r="2.75"/><circle cx="160.7" cy="398.6" r="2.75"/><circle cx="163.1" cy="386.8" r="2.75"/><circle cx="173.5" cy="386.8" r="2.75"/><circle cx="175.5" cy="386.8" r="2.75"/><circle cx="177.6" cy="386.8" r="2.75"/><circle cx="179.7" cy="386.8" r="2.75"/><circle cx="181.7" cy="386.8" r="2.75"/><circle cx="183.8" cy="386.8" r="2.75"/><circle cx="185.9" cy="386.8" r="2.75"/><circle cx="188.0" cy="386.8" r="2.75"/><circle cx="190.0" cy="386.8" r="2.75"/><circle cx="192.1" cy="386.8" r="2.75"/><circle cx="194.2" cy="386.8" r="2.75"/><circle cx="196.2" cy="386.8" r="2.75"/><circle cx="198.3" cy="386.8" r="2.75"/><circle cx="200.4" cy="386.8" r="2.75"/><circle cx="202.4" cy="386.8" r="2.75"/><circle cx="204.5" cy="386.8" r="2.75"/><circle cx="206.6" cy="386.8" r="2.75"/><circle cx="208.7" cy="386.8" r="2.75"/><circle cx="210.7" cy="386.8" r="2.75"/><circle cx="212.8" cy="386.8" r="2.75"/><circle cx="214.9" cy="386.8" r="2.75"/><circle cx="216.9" cy="386.8" r="2.75"/><circle cx="219.0" cy="386.8" r="2.75"/><circle cx="221.1" cy="386.8" r="2.75"/><circle cx="223.2" cy="386.8" r="2.75"/><circle cx="224.4" cy="380.7" r="2.75"/><circle cx="239.0" cy="378.3" r="2.75"/><circle cx="245.9" cy="378.3" r="2.75"/><circle cx="247.7" cy="373.1" r="2.75"/><circle cx="249.7" cy="373.1" r="2.75"/><circle cx="251.8" cy="373.1" r="2.75"/><circle cx="253.9" cy="373.1" r="2.75"/><circle cx="256.0" cy="373.1" r="2.75"/><circle cx="258.0" cy="373.1" r="2.75"/><circle cx="260.1" cy="373.1" r="2.75"/><circle cx="262.2" cy="373.1" r="2.75"/><circle cx="264.2" cy="373.1" r="2.75"/><circle cx="266.3" cy="373.1" r="2.75"/><circle cx="268.4" cy="373.1" r="2.75"/></g><g fill="#d95f02" fill-opacity="0.45" stroke="#d95f02" stroke-opacity="0.65" stroke-width="0.8"><circle cx="60.4" cy="430.4" r="2.75"/><circle cx="61.5" cy="433.2" r="2.75"/><circle cx="62.5" cy="430.4" r="2.75"/><circle cx="63.6" cy="430.6" r="2.75"/><circle cx="64.6" cy="429.9" r="2.75"/><circle cx="65.7" cy="429.2" r="2.75"/><circle cx="66.7" cy="430.0" r="2.75"/><circle cx="67.8" cy="428.1" r="2.75"/><circle cx="68.8" cy="428.1" r="2.75"/><circle cx="69.9" cy="424.5" r="2.75"/><circle cx="70.9" cy="426.2" r="2.75"/><circle cx="72.0" cy="426.1" r="2.75"/><circle cx="73.0" cy="425.5" r="2.75"/><circle cx="74.1" cy="425.3" r="2.75"/><circle cx="75.1" cy="425.1" r="2.75"/><circle cx="76.2" cy="424.1" r="2.75"/><circle cx="77.2" cy="423.0" r="2.75"/><circle cx="78.3" cy="423.0" r="2.75"/><circle cx="79.3" cy="421.7" r="2.75"/><circle cx="80.4" cy="422.0" r="2.75"/><circle cx="81.4" cy="421.4" r="2.75"/><circle cx="82.5" cy="419.8" r="2.75"/><circle cx="83.5" cy="420.1" r="2.75"/><circle cx="84.6" cy="420.4" r="2.75"/><circle cx="85.6" cy="419.7" r="2.75"/><circle cx="86.7" cy="418.7" r="2.75"/><circle cx="87.7" cy="417.2" r="2.75"/><circle cx="88.8" cy="418.4" r="2.75"/><circle cx="89.8" cy="418.0" r="2.75"/><circle cx="90.9" cy="416.6" r="2.75"/><circle cx="91.9" cy="417.6" r="2.75"/><circle cx="93.0" cy="416.7" r="2.75"/><circle cx="94.0" cy="415.5" r="2.75"/><circle cx="95.1" cy="415.3" r="2.75"/><circle cx="96.1" cy="415.2" r="2.75"/><circle cx="97.2" cy="414.4" r="2.75"/><circle cx="98.2" cy="416.6" r="2.75"/><circle cx="99.3" cy="413.4" r="2.75"/><circle cx="100.3" cy="414.4" r="2.75"/><circle cx="101.4" cy="414.6" r="2.75"/><circle cx="102.4" cy="412.8" r="2.75"/><circle cx="103.5" cy="412.1" r="2.75"/><circle cx="104.6" cy="412.6" r="2.75"/><circle cx="105.6" cy="412.7" r="2.75"/><circle cx="106.7" cy="411.5" r="2.75"/><circle cx="107.7" cy="411.2" r="2.75"/><circle cx="108.8" cy="409.8" r="2.75"/><circle cx="109.8" cy="410.0" r="2.75"/><circle cx="110.9" cy="410.0" r="2.75"/><circle cx="111.9" cy="409.1" r="2.75"/><circle cx="113.0" cy="409.7" r="2.75"/><circle cx="114.0" cy="409.9" r="2.75"/><circle cx="115.1" cy="408.5" r="2.75"/><circle cx="116.1" cy="408.2" r="2.75"/><circle cx="117.2" cy="408.4" r="2.75"/><circle cx="118.2" cy="408.5" r="2.75"/><circle cx="119.3" cy="407.5" r="2.75"/><circle cx="120.3" cy="409.2" r="2.75"/><circle cx="121.4" cy="406.6" r="2.75"/><circle cx="122.4" cy="406.4" r="2.75"/><circle cx="123.5" cy="407.7" r="2.75"/><circle cx="124.5" cy="406.2" r="2.75"/><circle cx="125.6" cy="406.7" r="2.75"/><circle cx="126.6" cy="405.1" r="2.75"/><circle cx="127.7" cy="406.9" r="2.75"/><circle cx="128.7" cy="405.8" r="2.75"/><circle cx="129.8" cy="404.4" r="2.75"/><circle cx="130.8" cy="403.8" r="2.75"/><circle cx="131.9" cy="406.0" r="2.75"/><circle cx="132.9" cy="404.5" r="2.75"/><circle cx="134.0" cy="403.7" r="2.75"/><circle cx="135.0" cy="404.1" r="2.75"/><circle cx="136.1" cy="402.3" r="2.75"/><circle cx="137.1" cy="404.1" r="2.75"/><circle cx="138.2" cy="402.7" r="2.75"/><circle cx="139.2" cy="403.5" r="2.75"/><circle cx="140.3" cy="401.5" r="2.75"/><circle cx="141.3" cy="402.3" r="2.75"/><circle cx="142.4" cy="402.4" r="2.75"/><circle cx="143.4" cy="403.1" r="2.75"/><circle cx="144.5" cy="400.4" r="2.75"/><circle cx="145.5" cy="400.9" r="2.75"/><circle cx="146.6" cy="400.7" r="2.75"/><circle cx="147.7" cy="400.2" r="2.75"/><circle cx="148.7" cy="400.6" r="2.75"/><circle cx="149.8" cy="401.1" r="2.75"/><circle cx="150.8" cy="401.1" r="2.75"/><circle cx="151.9" cy="400.9" r="2.75"/><circle cx="152.9" cy="399.1" r="2.75"/><circle cx="154.0" cy="401.0" r="2.75"/><circle cx="155.0" cy="400.2" r="2.75"/><circle cx="156.1" cy="399.8" r="2.75"/><circle cx="157.1" cy="399.2" r="2.75"/><circle cx="158.2" cy="398.8" r="2.75"/><circle cx="159.2" cy="400.0" r="2.75"/><circle cx="160.3" cy="400.1" r="2.75"/><circle cx="161.3" cy="398.7" r="2.75"/><circle cx="162.4" cy="397.7" r="2.75"/><circle cx="163.4" cy="397.8" r="2.75"/><circle cx="164.5" cy="398.1" r="2.75"/><circle cx="165.5" cy="398.3" r="2.75"/><circle cx="166.6" cy="397.7" r="2.75"/><circle cx="167.6" cy="398.0" r="2.75"/><circle cx="168.7" cy="397.0" r="2.75"/><circle cx="169.7" cy="398.1" r="2.75"/><circle cx="170.8" cy="397.3" r="2.75"/><circle cx="171.8" cy="397.3" r="2.75"/><circle cx="172.9" cy="396.7" r="2.75"/><circle cx="173.9" cy="396.8" r="2.75"/><circle cx="175.0" cy="395.0" r="2.75"/><circle cx="176.0" cy="395.6" r="2.75"/><circle cx="177.1" cy="395.5" r="2.75"/><circle cx="178.1" cy="397.9" r="2.75"/><circle cx="179.2" cy="396.6" r="2.75"/><circle cx="180.2" cy="396.6" r="2.75"/><circle cx="181.3" cy="395.7" r="2.75"/><circle cx="182.3" cy="397.6" r="2.75"/><circle cx="183.4" cy="395.0" r="2.75"/><circle cx="184.4" cy="394.9" r="2.75"/><circle cx="185.5" cy="396.5" r="2.75"/><circle cx="186.5" cy="396.2" r="2.75"/><circle cx="187.6" cy="396.0" r="2.75"/><circle cx="188.6" cy="395.2" r="2.75"/><circle cx="189.7" cy="394.7" r="2.75"/><circle cx="190.8" cy="393.6" r="2.75"/><circle cx="191.8" cy="395.1" r="2.75"/><circle cx="192.9" cy="394.3" r="2.75"/><circle cx="193.9" cy="394.7" r="2.75"/><circle cx="195.0" cy="393.4" r="2.75"/><circle cx="196.0" cy="394.0" r="2.75"/><circle cx="197.1" cy="393.5" r="2.75"/><circle cx="198.1" cy="395.2" r="2.75"/><circle cx="199.2" cy="394.4" r="2.75"/><circle cx="200.2" cy="394.8" r="2.75"/><circle cx="201.3" cy="393.0" r="2.75"/><circle cx="202.3" cy="393.6" r="2.75"/><circle cx="203.4" cy="394.2" r="2.75"/><circle cx="204.4" cy="394.2" r="2.75"/><circle cx="205.5" cy="393.4" r="2.75"/><circle cx="206.5" cy="394.2" r="2.75"/><circle cx="207.6" cy="394.3" r="2.75"/><circle cx="208.6" cy="393.2" r="2.75"/><circle cx="209.7" cy="391.7" r="2.75"/><circle cx="210.7" cy="393.6" r="2.75"/><circle cx="211.8" cy="393.7" r="2.75"/><circle cx="212.8" cy="394.1" r="2.75"/><circle cx="213.9" cy="394.1" r="2.75"/><circle cx="214.9" cy="392.7" r="2.75"/><circle cx="216.0" cy="392.4" r="2.75"/><circle cx="217.0" cy="393.0" r="2.75"/><circle cx="218.1" cy="392.7" r="2.75"/><circle cx="219.1" cy="392.7" r="2.75"/><circle cx="220.2" cy="392.7" r="2.75"/><circle cx="221.2" cy="393.8" r="2.75"/><circle cx="222.3" cy="393.0" r="2.75"/><circle cx="223.3" cy="392.5" r="2.75"/><circle cx="224.4" cy="393.1" r="2.75"/><circle cx="225.4" cy="392.8" r="2.75"/><circle cx="226.5" cy="393.0" r="2.75"/><circle cx="227.5" cy="392.6" r="2.75"/><circle cx="228.6" cy="391.7" r="2.75"/><circle cx="229.6" cy="392.5" r="2.75"/><circle cx="230.7" cy="392.3" r="2.75"/><circle cx="231.7" cy="391.5" r="2.75"/><circle cx="232.8" cy="391.6" r="2.75"/><circle cx="233.8" cy="390.8" r="2.75"/><circle cx="234.9" cy="393.5" r="2.75"/><circle cx="236.0" cy="391.3" r="2.75"/><circle cx="237.0" cy="392.2" r="2.75"/><circle cx="238.1" cy="391.7" r="2.75"/><circle cx="239.1" cy="391.2" r="2.75"/><circle cx="240.2" cy="390.9" r="2.75"/><circle cx="241.2" cy="390.9" r="2.75"/><circle cx="242.3" cy="391.5" r="2.75"/><circle cx="243.3" cy="390.4" r="2.75"/><circle cx="244.4" cy="391.7" r="2.75"/><circle cx="245.4" cy="391.6" r="2.75"/><circle cx="246.5" cy="390.9" r="2.75"/><circle cx="247.5" cy="391.8" r="2.75"/><circle cx="248.6" cy="389.8" r="2.75"/><circle cx="249.6" cy="390.6" r="2.75"/><circle cx="250.7" cy="389.7" r="2.75"/><circle cx="251.7" cy="391.3" r="2.75"/><circle cx="252.8" cy="391.5" r="2.75"/><circle cx="253.8" cy="391.1" r="2.75"/><circle cx="254.9" cy="390.6" r="2.75"/><circle cx="255.9" cy="391.5" r="2.75"/><circle cx="257.0" cy="390.8" r="2.75"/><circle cx="258.0" cy="391.0" r="2.75"/><circle cx="259.1" cy="389.8" r="2.75"/><circle cx="260.1" cy="391.5" r="2.75"/><circle cx="261.2" cy="390.2" r="2.75"/><circle cx="262.2" cy="391.4" r="2.75"/><circle cx="263.3" cy="391.6" r="2.75"/><circle cx="264.3" cy="391.4" r="2.75"/><circle cx="265.4" cy="391.7" r="2.75"/><circle cx="266.4" cy="390.7" r="2.75"/><circle cx="267.5" cy="390.0" r="2.75"/><circle cx="268.5" cy="390.6" r="2.75"/><circle cx="269.6" cy="390.2" r="2.75"/></g><g fill="#d95f02" fill-opacity="0.45" stroke="#d95f02" stroke-opacity="0.65" stroke-width="0.8"><circle cx="60.4" cy="437.7" r="2.75"/></g><g fill="#7570b3" fill-opacity="0.45" stroke="#7570b3" stroke-opacity="0.65" stroke-width="0.8"><circle cx="60.4" cy="410.7" r="2.75"/><circle cx="61.5" cy="411.4" r="2.75"/><circle cx="62.5" cy="411.2" r="2.75"/><circle cx="63.6" cy="411.2" r="2.75"/><circle cx="64.6" cy="411.9" r="2.75"/><circle cx="65.7" cy="409.9" r="2.75"/><circle cx="66.7" cy="411.5" r="2.75"/><circle cx="67.8" cy="409.5" r="2.75"/><circle cx="68.8" cy="409.7" r="2.75"/><circle cx="69.9" cy="408.6" r="2.75"/><circle cx="70.9" cy="409.2" r="2.75"/><circle cx="72.0" cy="409.5" r="2.75"/><circle cx="73.0" cy="408.4" r="2.75"/><circle cx="74.1" cy="408.8" r="2.75"/><circle cx="75.1" cy="408.2" r="2.75"/><circle cx="76.2" cy="407.8" r="2.75"/><circle cx="77.2" cy="407.7" r="2.75"/><circle cx="78.3" cy="407.5" r="2.75"/><circle cx="79.3" cy="407.7" r="2.75"/><circle cx="80.4" cy="407.0" r="2.75"/><circle cx="81.4" cy="408.2" r="2.75"/><circle cx="82.5" cy="406.5" r="2.75"/><circle cx="83.5" cy="407.0" r="2.75"/><circle cx="84.6" cy="405.1" r="2.75"/><circle cx="85.6" cy="404.8" r="2.75"/><circle cx="86.7" cy="406.9" r="2.75"/><circle cx="87.7" cy="405.1" r="2.75"/><circle cx="88.8" cy="405.1" r="2.75"/><circle cx="89.8" cy="405.5" r="2.75"/><circle cx="90.9" cy="404.1" r="2.75"/><circle cx="91.9" cy="404.6" r="2.75"/><circle cx="93.0" cy="405.4" r="2.75"/><circle cx="94.0" cy="404.1" r="2.75"/><circle cx="95.1" cy="403.8" r="2.75"/><circle cx="96.1" cy="403.4" r="2.75"/><circle cx="97.2" cy="404.1" r="2.75"/><circle cx="98.2" cy="402.6" r="2.75"/><circle cx="99.3" cy="402.3" r="2.75"/><circle cx="100.3" cy="403.4" r="2.75"/><circle cx="101.4" cy="402.9" r="2.75"/><circle cx="102.4" cy="402.2" r="2.75"/><circle cx="103.5" cy="402.4" r="2.75"/><circle cx="104.6" cy="400.5" r="2.75"/><circle cx="105.6" cy="401.4" r="2.75"/><circle cx="106.7" cy="402.1" r="2.75"/><circle cx="107.7" cy="401.8" r="2.75"/><circle cx="108.8" cy="401.0" r="2.75"/><circle cx="109.8" cy="399.1" r="2.75"/><circle cx="110.9" cy="400.7" r="2.75"/><circle cx="111.9" cy="400.3" r="2.75"/><circle cx="113.0" cy="399.9" r="2.75"/><circle cx="114.0" cy="400.1" r="2.75"/><circle cx="115.1" cy="398.2" r="2.75"/><circle cx="116.1" cy="400.1" r="2.75"/><circle cx="117.2" cy="399.0" r="2.75"/><circle cx="118.2" cy="399.2" r="2.75"/><circle cx="119.3" cy="398.7" r="2.75"/><circle cx="120.3" cy="399.8" r="2.75"/><circle cx="121.4" cy="397.5" r="2.75"/><circle cx="122.4" cy="398.7" r="2.75"/><circle cx="123.5" cy="398.4" r="2.75"/><circle cx="124.5" cy="399.0" r="2.75"/><circle cx="125.6" cy="398.6" r="2.75"/><circle cx="126.6" cy="397.5" r="2.75"/><circle cx="127.7" cy="397.1" r="2.75"/><circle cx="128.7" cy="397.1" r="2.75"/><circle cx="129.8" cy="396.6" r="2.75"/><circle cx="130.8" cy="396.8" r="2.75"/><circle cx="131.9" cy="397.1" r="2.75"/><circle cx="132.9" cy="396.4" r="2.75"/><circle cx="134.0" cy="396.4" r="2.75"/><circle cx="135.0" cy="396.7" r="2.75"/><circle cx="136.1" cy="396.0" r="2.75"/><circle cx="137.1" cy="395.4" r="2.75"/><circle cx="138.2" cy="396.0" r="2.75"/><circle cx="139.2" cy="396.3" r="2.75"/><circle cx="140.3" cy="395.4" r="2.75"/><circle cx="141.3" cy="394.4" r="2.75"/><circle cx="142.4" cy="395.8" r="2.75"/><circle cx="143.4" cy="395.6" r="2.75"/><circle cx="144.5" cy="395.4" r="2.75"/><circle cx="145.5" cy="394.3" r="2.75"/><circle cx="146.6" cy="396.4" r="2.75"/><circle cx="147.7" cy="394.7" r="2.75"/><circle cx="148.7" cy="393.9" r="2.75"/><circle cx="149.8" cy="395.2" r="2.75"/><circle cx="150.8" cy="393.4" r="2.75"/><circle cx="151.9" cy="394.0" r="2.75"/><circle cx="152.9" cy="394.7" r="2.75"/><circle cx="154.0" cy="394.0" r="2.75"/><circle cx="155.0" cy="395.1" r="2.75"/><circle cx="156.1" cy="394.3" r="2.75"/><circle cx="157.1" cy="392.4" r="2.75"/><circle cx="158.2" cy="394.3" r="2.75"/><circle cx="159.2" cy="392.2" r="2.75"/><circle cx="160.3" cy="393.4" r="2.75"/><circle cx="161.3" cy="392.5" r="2.75"/><circle cx="162.4" cy="393.1" r="2.75"/><circle cx="163.4" cy="394.6" r="2.75"/><circle cx="164.5" cy="393.3" r="2.75"/><circle cx="165.5" cy="392.6" r="2.75"/><circle cx="166.6" cy="393.5" r="2.75"/><circle cx="167.6" cy="393.5" r="2.75"/><circle cx="168.7" cy="392.2" r="2.75"/><circle cx="169.7" cy="392.8" r="2.75"/><circle cx="170.8" cy="393.5" r="2.75"/><circle cx="171.8" cy="392.6" r="2.75"/><circle cx="172.9" cy="391.4" r="2.75"/><circle cx="173.9" cy="392.2" r="2.75"/><circle cx="175.0" cy="391.1" r="2.75"/><circle cx="176.0" cy="390.6" r="2.75"/><circle cx="177.1" cy="391.6" r="2.75"/><circle cx="178.1" cy="392.3" r="2.75"/><circle cx="179.2" cy="392.3" r="2.75"/><circle cx="180.2" cy="391.3" r="2.75"/><circle cx="181.3" cy="390.5" r="2.75"/><circle cx="182.3" cy="390.9" r="2.75"/><circle cx="183.4" cy="390.6" r="2.75"/><circle cx="184.4" cy="391.2" r="2.75"/><circle cx="185.5" cy="390.6" r="2.75"/><circle cx="186.5" cy="391.0" r="2.75"/><circle cx="187.6" cy="390.8" r="2.75"/><circle cx="188.6" cy="391.4" r="2.75"/><circle cx="189.7" cy="391.5" r="2.75"/><circle cx="190.8" cy="390.7" r="2.75"/><circle cx="191.8" cy="391.0" r="2.75"/><circle cx="192.9" cy="390.8" r="2.75"/><circle cx="193.9" cy="389.6" r="2.75"/><circle cx="195.0" cy="390.0" r="2.75"/><circle cx="196.0" cy="387.7" r="2.75"/><circle cx="197.1" cy="389.1" r="2.75"/><circle cx="198.1" cy="390.2" r="2.75"/><circle cx="199.2" cy="389.0" r="2.75"/><circle cx="200.2" cy="389.3" r="2.75"/><circle cx="201.3" cy="389.9" r="2.75"/><circle cx="202.3" cy="388.6" r="2.75"/><circle cx="203.4" cy="389.8" r="2.75"/><circle cx="204.4" cy="391.4" r="2.75"/><circle cx="205.5" cy="388.5" r="2.75"/><circle cx="206.5" cy="389.5" r="2.75"/><circle cx="207.6" cy="387.9" r="2.75"/><circle cx="208.6" cy="389.4" r="2.75"/><circle cx="209.7" cy="389.7" r="2.75"/><circle cx="210.7" cy="387.6" r="2.75"/><circle cx="211.8" cy="389.4" r="2.75"/><circle cx="212.8" cy="388.4" r="2.75"/><circle cx="213.9" cy="387.5" r="2.75"/><circle cx="214.9" cy="388.4" r="2.75"/><circle cx="216.0" cy="388.4" r="2.75"/><circle cx="217.0" cy="388.2" r="2.75"/><circle cx="218.1" cy="387.6" r="2.75"/><circle cx="219.1" cy="388.7" r="2.75"/><circle cx="220.2" cy="387.6" r="2.75"/><circle cx="221.2" cy="387.6" r="2.75"/><circle cx="222.3" cy="386.3" r="2.75"/><circle cx="223.3" cy="388.1" r="2.75"/><circle cx="224.4" cy="388.5" r="2.75"/><circle cx="225.4" cy="387.2" r="2.75"/><circle cx="226.5" cy="388.0" r="2.75"/><circle cx="227.5" cy="387.4" r="2.75"/><circle cx="228.6" cy="387.5" r="2.75"/><circle cx="229.6" cy="386.6" r="2.75"/><circle cx="230.7" cy="387.9" r="2.75"/><circle cx="231.7" cy="387.4" r="2.75"/><circle cx="232.8" cy="389.2" r="2.75"/><circle cx="233.8" cy="387.9" r="2.75"/><circle cx="234.9" cy="386.1" r="2.75"/><circle cx="236.0" cy="387.6" r="2.75"/><circle cx="237.0" cy="387.6" r="2.75"/><circle cx="238.1" cy="387.9" r="2.75"/><circle cx="239.1" cy="386.5" r="2.75"/><circle cx="240.2" cy="386.8" r="2.75"/><circle cx="241.2" cy="387.7" r="2.75"/><circle cx="242.3" cy="386.3" r="2.75"/><circle cx="243.3" cy="386.6" r="2.75"/><circle cx="244.4" cy="386.1" r="2.75"/><circle cx="245.4" cy="387.1" r="2.75"/><circle cx="246.5" cy="385.3" r="2.75"/><circle cx="247.5" cy="386.2" r="2.75"/><circle cx="248.6" cy="386.6" r="2.75"/><circle cx="249.6" cy="386.8" r="2.75"/><circle cx="250.7" cy="386.6" r="2.75"/><circle cx="251.7" cy="385.7" r="2.75"/><circle cx="252.8" cy="386.5" r="2.75"/><circle cx="253.8" cy="385.4" r="2.75"/><circle cx="254.9" cy="385.8" r="2.75"/><circle cx="255.9" cy="385.1" r="2.75"/><circle cx="257.0" cy="385.5" r="2.75"/><circle cx="258.0" cy="386.1" r="2.75"/><circle cx="259.1" cy="387.4" r="2.75"/><circle cx="260.1" cy="385.7" r="2.75"/><circle cx="261.2" cy="385.3" r="2.75"/><circle cx="262.2" cy="385.7" r="2.75"/><circle cx="263.3" cy="385.4" r="2.75"/><circle cx="264.3" cy="386.1" r="2.75"/><circle cx="265.4" cy="386.0" r="2.75"/><circle cx="266.4" cy="386.4" r="2.75"/><circle cx="267.5" cy="384.6" r="2.75"/><circle cx="268.5" cy="385.5" r="2.75"/><circle cx="269.6" cy="385.9" r="2.75"/></g><polyline points="60.4,411.9 64.7,410.7 68.9,409.6 73.2,408.6 77.5,407.5 81.7,406.6 86.0,405.6 90.3,404.7 94.6,403.8 98.8,402.9 103.1,402.1 107.4,401.2 111.6,400.5 115.9,399.7 120.2,399.0 124.4,398.3 128.7,397.6 133.0,397.0 137.2,396.4 141.5,395.8 145.8,395.2 150.1,394.6 154.3,394.1 158.6,393.6 162.9,393.1 167.1,392.6 171.4,392.2 175.7,391.7 179.9,391.3 184.2,390.9 188.5,390.5 192.7,390.1 197.0,389.8 201.3,389.4 205.6,389.1 209.8,388.8 214.1,388.5 218.4,388.2 222.6,387.9 226.9,387.7 231.2,387.4 235.4,387.2 239.7,386.9 244.0,386.7 248.2,386.5 252.5,386.3 256.8,386.1 261.1,385.9 265.3,385.7 269.6,385.5" fill="none" stroke="#7570b3" stroke-width="2.3" stroke-linejoin="round"/><polyline points="60.4,431.9 64.7,429.6 68.9,427.4 73.2,425.2 77.5,423.2 81.7,421.2 86.0,419.4 90.3,417.6 94.6,415.9 98.8,414.3 103.1,412.8 107.4,411.3 111.6,409.9 115.9,408.6 120.2,407.4 124.4,406.3 128.7,405.2 133.0,404.1 137.2,403.2 141.5,402.3 145.8,401.4 150.1,400.6 154.3,399.9 158.6,399.1 162.9,398.5 167.1,397.9 171.4,397.3 175.7,396.7 179.9,396.2 184.2,395.7 188.5,395.3 192.7,394.9 197.0,394.5 201.3,394.1 205.6,393.8 209.8,393.5 214.1,393.2 218.4,392.9 222.6,392.6 226.9,392.4 231.2,392.2 235.4,391.9 239.7,391.7 244.0,391.6 248.2,391.4 252.5,391.2 256.8,391.1 261.1,390.9 265.3,390.8 269.6,390.7" fill="none" stroke="#d95f02" stroke-width="2.3" stroke-linejoin="round"/><polyline points="60.4,444.3 64.7,441.7 68.9,439.1 73.2,436.5 77.5,434.0 81.7,431.5 86.0,429.0 90.3,426.6 94.6,424.3 98.8,422.0 103.1,419.8 107.4,417.7 111.6,415.6 115.9,413.6 120.2,411.7 124.4,409.8 128.7,408.0 133.0,406.3 137.2,404.6 141.5,403.0 145.8,401.5 150.1,400.0 154.3,398.6 158.6,397.2 162.9,396.0 167.1,394.7 171.4,393.6 175.7,392.4 179.9,391.4 184.2,390.3 188.5,389.4 192.7,388.5 197.0,387.6 201.3,386.7 205.6,385.9 209.8,385.2 214.1,384.5 218.4,383.8 222.6,383.2 226.9,382.5 231.2,382.0 235.4,381.4 239.7,380.9 244.0,380.4 248.2,379.9 252.5,379.5 256.8,379.1 261.1,378.7 265.3,378.3 269.6,378.0" fill="none" stroke="#1b9e77" stroke-width="2.3" stroke-linejoin="round"/><text transform="translate(150.93,533.50) scale(1.136,1)" font-size="13.20" font-family='"Liberation Serif", serif' font-style="italic" font-weight="bold" fill="#231f20" >λ</text><text transform="translate(157.80,536.30) scale(1.008,1)" font-size="9.00" font-family='"Liberation Sans", sans-serif' font-style="normal" font-weight="normal" fill="#231f20" stroke="#231f20" stroke-width="0.2" >syntopic</text><text transform="translate(13.90,412.40) rotate(-90) scale(1.000,1)" font-size="13.00" font-family='"Liberation Serif", serif' font-style="italic" font-weight="normal" fill="#231f20" stroke="#231f20" stroke-width="0.2" >δ</text><rect x="367" y="321.6" width="1" height="174" fill="#444" /><rect x="367" y="495" width="230" height="2" fill="#9d9d9d" /><line x1="363" y1="495.5" x2="367" y2="495.5" stroke="#444" stroke-width="1"/><text transform="translate(352.30,499.10) scale(1.060,1)" font-size="10.20" font-family='"Liberation Sans", sans-serif' font-style="normal" font-weight="normal" fill="#231f20" stroke="#231f20" stroke-width="0.2" >0</text><line x1="363" y1="455.5" x2="367" y2="455.5" stroke="#444" stroke-width="1"/><text transform="translate(337.27,459.10) scale(1.060,1)" font-size="10.20" font-family='"Liberation Sans", sans-serif' font-style="normal" font-weight="normal" fill="#231f20" stroke="#231f20" stroke-width="0.2" >0.25</text><line x1="363" y1="414.5" x2="367" y2="414.5" stroke="#444" stroke-width="1"/><text transform="translate(337.27,418.10) scale(1.060,1)" font-size="10.20" font-family='"Liberation Sans", sans-serif' font-style="normal" font-weight="normal" fill="#231f20" stroke="#231f20" stroke-width="0.2" >0.50</text><line x1="363" y1="374.5" x2="367" y2="374.5" stroke="#444" stroke-width="1"/><text transform="translate(337.27,378.10) scale(1.060,1)" font-size="10.20" font-family='"Liberation Sans", sans-serif' font-style="normal" font-weight="normal" fill="#231f20" stroke="#231f20" stroke-width="0.2" >0.75</text><line x1="363" y1="334.5" x2="367" y2="334.5" stroke="#444" stroke-width="1"/><text transform="translate(337.27,338.10) scale(1.060,1)" font-size="10.20" font-family='"Liberation Sans", sans-serif' font-style="normal" font-weight="normal" fill="#231f20" stroke="#231f20" stroke-width="0.2" >1.00</text><line x1="372" y1="497" x2="372" y2="500.8" stroke="#bbb" stroke-width="2"/><text transform="translate(369.03,513.10) scale(1.040,1)" font-size="10.30" font-family='"Liberation Sans", sans-serif' font-style="normal" font-weight="normal" fill="#231f20" stroke="#231f20" stroke-width="0.2" >0</text><line x1="415" y1="497" x2="415" y2="500.8" stroke="#bbb" stroke-width="2"/><text transform="translate(404.58,513.10) scale(1.040,1)" font-size="10.30" font-family='"Liberation Sans", sans-serif' font-style="normal" font-weight="normal" fill="#231f20" stroke="#231f20" stroke-width="0.2" >0.05</text><line x1="458" y1="497" x2="458" y2="500.8" stroke="#bbb" stroke-width="2"/><text transform="translate(447.58,513.10) scale(1.040,1)" font-size="10.30" font-family='"Liberation Sans", sans-serif' font-style="normal" font-weight="normal" fill="#231f20" stroke="#231f20" stroke-width="0.2" >0.10</text><line x1="501" y1="497" x2="501" y2="500.8" stroke="#bbb" stroke-width="2"/><text transform="translate(490.58,513.10) scale(1.040,1)" font-size="10.30" font-family='"Liberation Sans", sans-serif' font-style="normal" font-weight="normal" fill="#231f20" stroke="#231f20" stroke-width="0.2" >0.15</text><line x1="543" y1="497" x2="543" y2="500.8" stroke="#bbb" stroke-width="2"/><text transform="translate(532.58,513.10) scale(1.040,1)" font-size="10.30" font-family='"Liberation Sans", sans-serif' font-style="normal" font-weight="normal" fill="#231f20" stroke="#231f20" stroke-width="0.2" >0.20</text><line x1="586" y1="497" x2="586" y2="500.8" stroke="#bbb" stroke-width="2"/><text transform="translate(575.58,513.10) scale(1.040,1)" font-size="10.30" font-family='"Liberation Sans", sans-serif' font-style="normal" font-weight="normal" fill="#231f20" stroke="#231f20" stroke-width="0.2" >0.25</text><g fill="#1b9e77" fill-opacity="0.45" stroke="#1b9e77" stroke-opacity="0.65" stroke-width="0.8"><circle cx="372.0" cy="439.0" r="2.75"/><circle cx="374.1" cy="439.0" r="2.75"/><circle cx="376.1" cy="439.0" r="2.75"/><circle cx="378.2" cy="439.0" r="2.75"/><circle cx="380.2" cy="439.0" r="2.75"/><circle cx="382.3" cy="439.0" r="2.75"/><circle cx="384.3" cy="439.0" r="2.75"/><circle cx="386.4" cy="439.0" r="2.75"/><circle cx="378.0" cy="432.0" r="2.75"/><circle cx="386.9" cy="428.3" r="2.75"/><circle cx="387.4" cy="412.6" r="2.75"/><circle cx="389.5" cy="412.6" r="2.75"/><circle cx="391.5" cy="412.6" r="2.75"/><circle cx="393.6" cy="412.6" r="2.75"/><circle cx="395.7" cy="412.6" r="2.75"/><circle cx="397.7" cy="412.6" r="2.75"/><circle cx="399.8" cy="412.6" r="2.75"/><circle cx="401.8" cy="412.6" r="2.75"/><circle cx="403.9" cy="412.6" r="2.75"/><circle cx="405.9" cy="412.6" r="2.75"/><circle cx="408.0" cy="412.6" r="2.75"/><circle cx="410.1" cy="412.6" r="2.75"/><circle cx="412.1" cy="412.6" r="2.75"/><circle cx="414.2" cy="412.6" r="2.75"/><circle cx="416.2" cy="412.6" r="2.75"/><circle cx="418.3" cy="412.6" r="2.75"/><circle cx="419.1" cy="397.2" r="2.75"/><circle cx="421.7" cy="392.4" r="2.75"/><circle cx="428.6" cy="397.2" r="2.75"/><circle cx="426.0" cy="386.4" r="2.75"/><circle cx="428.0" cy="386.4" r="2.75"/><circle cx="430.1" cy="386.4" r="2.75"/><circle cx="432.2" cy="386.4" r="2.75"/><circle cx="434.2" cy="386.4" r="2.75"/><circle cx="436.3" cy="386.4" r="2.75"/><circle cx="438.3" cy="386.4" r="2.75"/><circle cx="440.4" cy="386.4" r="2.75"/><circle cx="442.4" cy="386.4" r="2.75"/><circle cx="444.5" cy="386.4" r="2.75"/><circle cx="451.7" cy="386.4" r="2.75"/><circle cx="448.0" cy="378.8" r="2.75"/><circle cx="444.0" cy="373.0" r="2.75"/><circle cx="446.0" cy="373.0" r="2.75"/><circle cx="448.1" cy="373.0" r="2.75"/><circle cx="450.2" cy="373.0" r="2.75"/><circle cx="452.2" cy="373.0" r="2.75"/><circle cx="454.3" cy="373.0" r="2.75"/><circle cx="456.3" cy="373.0" r="2.75"/><circle cx="458.4" cy="373.0" r="2.75"/><circle cx="460.4" cy="373.0" r="2.75"/><circle cx="462.5" cy="373.0" r="2.75"/><circle cx="464.6" cy="373.0" r="2.75"/><circle cx="466.6" cy="373.0" r="2.75"/><circle cx="468.0" cy="365.0" r="2.75"/><circle cx="470.0" cy="365.0" r="2.75"/><circle cx="472.1" cy="365.0" r="2.75"/><circle cx="474.2" cy="365.0" r="2.75"/><circle cx="476.2" cy="365.0" r="2.75"/><circle cx="478.3" cy="365.0" r="2.75"/><circle cx="480.3" cy="365.0" r="2.75"/><circle cx="482.4" cy="365.0" r="2.75"/><circle cx="491.1" cy="365.0" r="2.75"/><circle cx="498.8" cy="347.3" r="2.75"/><circle cx="496.3" cy="334.4" r="2.75"/><circle cx="501.4" cy="334.4" r="2.75"/><circle cx="503.5" cy="334.4" r="2.75"/><circle cx="505.5" cy="334.4" r="2.75"/><circle cx="507.6" cy="334.4" r="2.75"/><circle cx="509.6" cy="334.4" r="2.75"/><circle cx="514.3" cy="334.4" r="2.75"/><circle cx="516.3" cy="334.4" r="2.75"/><circle cx="518.4" cy="334.4" r="2.75"/><circle cx="520.4" cy="334.4" r="2.75"/><circle cx="522.5" cy="334.4" r="2.75"/><circle cx="524.5" cy="334.4" r="2.75"/><circle cx="526.6" cy="334.4" r="2.75"/><circle cx="528.7" cy="334.4" r="2.75"/><circle cx="530.7" cy="334.4" r="2.75"/><circle cx="532.8" cy="334.4" r="2.75"/><circle cx="534.8" cy="334.4" r="2.75"/><circle cx="536.9" cy="334.4" r="2.75"/><circle cx="538.9" cy="334.4" r="2.75"/><circle cx="541.0" cy="334.4" r="2.75"/><circle cx="543.1" cy="334.4" r="2.75"/><circle cx="545.1" cy="334.4" r="2.75"/><circle cx="547.2" cy="334.4" r="2.75"/><circle cx="549.2" cy="334.4" r="2.75"/><circle cx="551.3" cy="334.4" r="2.75"/><circle cx="553.3" cy="334.4" r="2.75"/><circle cx="555.4" cy="334.4" r="2.75"/><circle cx="557.5" cy="334.4" r="2.75"/><circle cx="559.5" cy="334.4" r="2.75"/><circle cx="561.6" cy="334.4" r="2.75"/><circle cx="563.6" cy="334.4" r="2.75"/><circle cx="565.7" cy="334.4" r="2.75"/><circle cx="567.7" cy="334.4" r="2.75"/><circle cx="569.8" cy="334.4" r="2.75"/><circle cx="571.9" cy="334.4" r="2.75"/><circle cx="573.9" cy="334.4" r="2.75"/><circle cx="576.0" cy="334.4" r="2.75"/><circle cx="578.0" cy="334.4" r="2.75"/><circle cx="580.1" cy="334.4" r="2.75"/></g><g fill="#d95f02" fill-opacity="0.45" stroke="#d95f02" stroke-opacity="0.65" stroke-width="0.8"><circle cx="372.0" cy="391.4" r="2.75"/><circle cx="373.0" cy="390.1" r="2.75"/><circle cx="374.1" cy="388.4" r="2.75"/><circle cx="375.1" cy="388.6" r="2.75"/><circle cx="376.2" cy="389.0" r="2.75"/><circle cx="377.2" cy="387.0" r="2.75"/><circle cx="378.3" cy="386.5" r="2.75"/><circle cx="379.3" cy="386.3" r="2.75"/><circle cx="380.4" cy="386.0" r="2.75"/><circle cx="381.4" cy="385.3" r="2.75"/><circle cx="382.5" cy="385.2" r="2.75"/><circle cx="383.5" cy="384.6" r="2.75"/><circle cx="384.6" cy="385.3" r="2.75"/><circle cx="385.6" cy="383.2" r="2.75"/><circle cx="386.7" cy="383.7" r="2.75"/><circle cx="387.7" cy="382.0" r="2.75"/><circle cx="388.8" cy="384.5" r="2.75"/><circle cx="389.8" cy="382.1" r="2.75"/><circle cx="390.9" cy="381.4" r="2.75"/><circle cx="391.9" cy="382.0" r="2.75"/><circle cx="393.0" cy="381.0" r="2.75"/><circle cx="394.0" cy="380.4" r="2.75"/><circle cx="395.1" cy="380.1" r="2.75"/><circle cx="396.1" cy="380.5" r="2.75"/><circle cx="397.2" cy="379.8" r="2.75"/><circle cx="398.2" cy="378.6" r="2.75"/><circle cx="399.3" cy="378.0" r="2.75"/><circle cx="400.3" cy="378.5" r="2.75"/><circle cx="401.4" cy="378.1" r="2.75"/><circle cx="402.4" cy="377.7" r="2.75"/><circle cx="403.5" cy="376.7" r="2.75"/><circle cx="404.5" cy="377.8" r="2.75"/><circle cx="405.6" cy="377.7" r="2.75"/><circle cx="406.6" cy="376.3" r="2.75"/><circle cx="407.7" cy="376.8" r="2.75"/><circle cx="408.7" cy="376.1" r="2.75"/><circle cx="409.8" cy="375.3" r="2.75"/><circle cx="410.8" cy="374.6" r="2.75"/><circle cx="411.9" cy="375.4" r="2.75"/><circle cx="412.9" cy="373.7" r="2.75"/><circle cx="414.0" cy="375.3" r="2.75"/><circle cx="415.0" cy="373.3" r="2.75"/><circle cx="416.1" cy="374.5" r="2.75"/><circle cx="417.1" cy="374.0" r="2.75"/><circle cx="418.2" cy="372.3" r="2.75"/><circle cx="419.2" cy="372.7" r="2.75"/><circle cx="420.3" cy="372.7" r="2.75"/><circle cx="421.3" cy="372.1" r="2.75"/><circle cx="422.4" cy="371.2" r="2.75"/><circle cx="423.4" cy="371.3" r="2.75"/><circle cx="424.5" cy="371.0" r="2.75"/><circle cx="425.5" cy="369.9" r="2.75"/><circle cx="426.6" cy="370.9" r="2.75"/><circle cx="427.6" cy="370.4" r="2.75"/><circle cx="428.7" cy="370.2" r="2.75"/><circle cx="429.7" cy="368.7" r="2.75"/><circle cx="430.8" cy="368.6" r="2.75"/><circle cx="431.8" cy="368.1" r="2.75"/><circle cx="432.9" cy="368.8" r="2.75"/><circle cx="433.9" cy="368.6" r="2.75"/><circle cx="435.0" cy="367.6" r="2.75"/><circle cx="436.0" cy="368.3" r="2.75"/><circle cx="437.1" cy="367.2" r="2.75"/><circle cx="438.1" cy="367.0" r="2.75"/><circle cx="439.2" cy="367.8" r="2.75"/><circle cx="440.2" cy="367.1" r="2.75"/><circle cx="441.3" cy="366.9" r="2.75"/><circle cx="442.3" cy="365.3" r="2.75"/><circle cx="443.4" cy="364.5" r="2.75"/><circle cx="444.4" cy="366.2" r="2.75"/><circle cx="445.5" cy="365.9" r="2.75"/><circle cx="446.5" cy="367.3" r="2.75"/><circle cx="447.6" cy="365.3" r="2.75"/><circle cx="448.6" cy="365.2" r="2.75"/><circle cx="449.7" cy="365.8" r="2.75"/><circle cx="450.7" cy="364.2" r="2.75"/><circle cx="451.8" cy="365.7" r="2.75"/><circle cx="452.8" cy="364.6" r="2.75"/><circle cx="453.9" cy="364.1" r="2.75"/><circle cx="454.9" cy="364.9" r="2.75"/><circle cx="456.0" cy="363.2" r="2.75"/><circle cx="457.0" cy="362.8" r="2.75"/><circle cx="458.1" cy="364.4" r="2.75"/><circle cx="459.1" cy="364.3" r="2.75"/><circle cx="460.2" cy="362.6" r="2.75"/><circle cx="461.2" cy="362.9" r="2.75"/><circle cx="462.3" cy="363.6" r="2.75"/><circle cx="463.3" cy="362.7" r="2.75"/><circle cx="464.4" cy="362.4" r="2.75"/><circle cx="465.4" cy="362.3" r="2.75"/><circle cx="466.5" cy="361.4" r="2.75"/><circle cx="467.5" cy="361.5" r="2.75"/><circle cx="468.6" cy="360.4" r="2.75"/><circle cx="469.6" cy="360.5" r="2.75"/><circle cx="470.7" cy="360.8" r="2.75"/><circle cx="471.7" cy="360.4" r="2.75"/><circle cx="472.8" cy="360.0" r="2.75"/><circle cx="473.8" cy="360.3" r="2.75"/><circle cx="474.9" cy="361.6" r="2.75"/><circle cx="475.9" cy="359.9" r="2.75"/><circle cx="477.0" cy="360.3" r="2.75"/><circle cx="478.0" cy="359.1" r="2.75"/><circle cx="479.0" cy="360.0" r="2.75"/><circle cx="480.1" cy="359.6" r="2.75"/><circle cx="481.1" cy="359.6" r="2.75"/><circle cx="482.2" cy="358.5" r="2.75"/><circle cx="483.2" cy="359.4" r="2.75"/><circle cx="484.3" cy="359.6" r="2.75"/><circle cx="485.3" cy="359.1" r="2.75"/><circle cx="486.4" cy="359.5" r="2.75"/><circle cx="487.4" cy="358.9" r="2.75"/><circle cx="488.5" cy="358.9" r="2.75"/><circle cx="489.5" cy="358.6" r="2.75"/><circle cx="490.6" cy="357.2" r="2.75"/><circle cx="491.6" cy="358.8" r="2.75"/><circle cx="492.7" cy="358.4" r="2.75"/><circle cx="493.7" cy="358.4" r="2.75"/><circle cx="494.8" cy="357.7" r="2.75"/><circle cx="495.8" cy="358.9" r="2.75"/><circle cx="496.9" cy="358.4" r="2.75"/><circle cx="497.9" cy="357.8" r="2.75"/><circle cx="499.0" cy="357.3" r="2.75"/><circle cx="500.0" cy="357.6" r="2.75"/><circle cx="501.1" cy="357.8" r="2.75"/><circle cx="502.1" cy="358.0" r="2.75"/><circle cx="503.2" cy="356.9" r="2.75"/><circle cx="504.2" cy="356.1" r="2.75"/><circle cx="505.3" cy="356.8" r="2.75"/><circle cx="506.3" cy="356.8" r="2.75"/><circle cx="507.4" cy="356.5" r="2.75"/><circle cx="508.4" cy="357.4" r="2.75"/><circle cx="509.5" cy="356.9" r="2.75"/><circle cx="510.5" cy="356.8" r="2.75"/><circle cx="511.6" cy="356.3" r="2.75"/><circle cx="512.6" cy="356.4" r="2.75"/><circle cx="513.7" cy="357.2" r="2.75"/><circle cx="514.7" cy="355.4" r="2.75"/><circle cx="515.8" cy="354.9" r="2.75"/><circle cx="516.8" cy="356.2" r="2.75"/><circle cx="517.9" cy="355.6" r="2.75"/><circle cx="518.9" cy="355.7" r="2.75"/><circle cx="520.0" cy="355.2" r="2.75"/><circle cx="521.0" cy="356.8" r="2.75"/><circle cx="522.1" cy="354.4" r="2.75"/><circle cx="523.1" cy="355.9" r="2.75"/><circle cx="524.2" cy="354.5" r="2.75"/><circle cx="525.2" cy="355.3" r="2.75"/><circle cx="526.3" cy="355.6" r="2.75"/><circle cx="527.3" cy="355.3" r="2.75"/><circle cx="528.4" cy="354.5" r="2.75"/><circle cx="529.4" cy="355.7" r="2.75"/><circle cx="530.5" cy="355.3" r="2.75"/><circle cx="531.5" cy="355.3" r="2.75"/><circle cx="532.6" cy="356.1" r="2.75"/><circle cx="533.6" cy="353.8" r="2.75"/><circle cx="534.7" cy="354.3" r="2.75"/><circle cx="535.7" cy="354.7" r="2.75"/><circle cx="536.8" cy="353.7" r="2.75"/><circle cx="537.8" cy="355.2" r="2.75"/><circle cx="538.9" cy="354.5" r="2.75"/><circle cx="539.9" cy="353.1" r="2.75"/><circle cx="541.0" cy="353.6" r="2.75"/><circle cx="542.0" cy="355.9" r="2.75"/><circle cx="543.1" cy="356.6" r="2.75"/><circle cx="544.1" cy="354.9" r="2.75"/><circle cx="545.2" cy="353.3" r="2.75"/><circle cx="546.2" cy="354.4" r="2.75"/><circle cx="547.3" cy="354.1" r="2.75"/><circle cx="548.3" cy="353.5" r="2.75"/><circle cx="549.4" cy="354.5" r="2.75"/><circle cx="550.4" cy="353.6" r="2.75"/><circle cx="551.5" cy="353.2" r="2.75"/><circle cx="552.5" cy="353.3" r="2.75"/><circle cx="553.6" cy="353.3" r="2.75"/><circle cx="554.6" cy="354.0" r="2.75"/><circle cx="555.7" cy="353.1" r="2.75"/><circle cx="556.7" cy="353.8" r="2.75"/><circle cx="557.8" cy="352.5" r="2.75"/><circle cx="558.8" cy="351.5" r="2.75"/><circle cx="559.9" cy="353.9" r="2.75"/><circle cx="560.9" cy="354.8" r="2.75"/><circle cx="562.0" cy="353.5" r="2.75"/><circle cx="563.0" cy="352.9" r="2.75"/><circle cx="564.1" cy="352.4" r="2.75"/><circle cx="565.1" cy="352.3" r="2.75"/><circle cx="566.2" cy="353.6" r="2.75"/><circle cx="567.2" cy="353.6" r="2.75"/><circle cx="568.3" cy="352.0" r="2.75"/><circle cx="569.3" cy="353.7" r="2.75"/><circle cx="570.4" cy="352.1" r="2.75"/><circle cx="571.4" cy="353.0" r="2.75"/><circle cx="572.5" cy="352.2" r="2.75"/><circle cx="573.5" cy="352.2" r="2.75"/><circle cx="574.6" cy="352.1" r="2.75"/><circle cx="575.6" cy="352.1" r="2.75"/><circle cx="576.7" cy="353.3" r="2.75"/><circle cx="577.7" cy="352.4" r="2.75"/><circle cx="578.8" cy="352.5" r="2.75"/><circle cx="579.8" cy="352.3" r="2.75"/><circle cx="580.9" cy="351.6" r="2.75"/></g><g fill="#7570b3" fill-opacity="0.45" stroke="#7570b3" stroke-opacity="0.65" stroke-width="0.8"><circle cx="372.0" cy="366.5" r="2.75"/><circle cx="373.0" cy="366.6" r="2.75"/><circle cx="374.1" cy="366.4" r="2.75"/><circle cx="375.1" cy="365.9" r="2.75"/><circle cx="376.2" cy="364.9" r="2.75"/><circle cx="377.2" cy="365.8" r="2.75"/><circle cx="378.3" cy="364.2" r="2.75"/><circle cx="379.3" cy="364.6" r="2.75"/><circle cx="380.4" cy="364.8" r="2.75"/><circle cx="381.4" cy="365.4" r="2.75"/><circle cx="382.5" cy="364.1" r="2.75"/><circle cx="383.5" cy="363.6" r="2.75"/><circle cx="384.6" cy="365.2" r="2.75"/><circle cx="385.6" cy="362.9" r="2.75"/><circle cx="386.7" cy="362.4" r="2.75"/><circle cx="387.7" cy="363.1" r="2.75"/><circle cx="388.8" cy="362.8" r="2.75"/><circle cx="389.8" cy="361.3" r="2.75"/><circle cx="390.9" cy="362.0" r="2.75"/><circle cx="391.9" cy="363.3" r="2.75"/><circle cx="393.0" cy="362.5" r="2.75"/><circle cx="394.0" cy="362.5" r="2.75"/><circle cx="395.1" cy="362.3" r="2.75"/><circle cx="396.1" cy="363.7" r="2.75"/><circle cx="397.2" cy="361.3" r="2.75"/><circle cx="398.2" cy="362.1" r="2.75"/><circle cx="399.3" cy="361.4" r="2.75"/><circle cx="400.3" cy="361.5" r="2.75"/><circle cx="401.4" cy="360.6" r="2.75"/><circle cx="402.4" cy="361.3" r="2.75"/><circle cx="403.5" cy="361.5" r="2.75"/><circle cx="404.5" cy="360.4" r="2.75"/><circle cx="405.6" cy="359.6" r="2.75"/><circle cx="406.6" cy="360.7" r="2.75"/><circle cx="407.7" cy="359.3" r="2.75"/><circle cx="408.7" cy="360.0" r="2.75"/><circle cx="409.8" cy="360.4" r="2.75"/><circle cx="410.8" cy="358.8" r="2.75"/><circle cx="411.9" cy="360.3" r="2.75"/><circle cx="412.9" cy="358.8" r="2.75"/><circle cx="414.0" cy="359.8" r="2.75"/><circle cx="415.0" cy="359.0" r="2.75"/><circle cx="416.1" cy="360.1" r="2.75"/><circle cx="417.1" cy="359.6" r="2.75"/><circle cx="418.2" cy="358.1" r="2.75"/><circle cx="419.2" cy="358.6" r="2.75"/><circle cx="420.3" cy="358.6" r="2.75"/><circle cx="421.3" cy="358.8" r="2.75"/><circle cx="422.4" cy="358.1" r="2.75"/><circle cx="423.4" cy="359.3" r="2.75"/><circle cx="424.5" cy="358.9" r="2.75"/><circle cx="425.5" cy="358.1" r="2.75"/><circle cx="426.6" cy="358.5" r="2.75"/><circle cx="427.6" cy="358.3" r="2.75"/><circle cx="428.7" cy="357.7" r="2.75"/><circle cx="429.7" cy="357.6" r="2.75"/><circle cx="430.8" cy="357.6" r="2.75"/><circle cx="431.8" cy="356.1" r="2.75"/><circle cx="432.9" cy="356.4" r="2.75"/><circle cx="433.9" cy="356.2" r="2.75"/><circle cx="435.0" cy="357.0" r="2.75"/><circle cx="436.0" cy="357.2" r="2.75"/><circle cx="437.1" cy="357.8" r="2.75"/><circle cx="438.1" cy="356.9" r="2.75"/><circle cx="439.2" cy="358.0" r="2.75"/><circle cx="440.2" cy="356.8" r="2.75"/><circle cx="441.3" cy="355.7" r="2.75"/><circle cx="442.3" cy="355.0" r="2.75"/><circle cx="443.4" cy="355.4" r="2.75"/><circle cx="444.4" cy="356.6" r="2.75"/><circle cx="445.5" cy="355.5" r="2.75"/><circle cx="446.5" cy="356.3" r="2.75"/><circle cx="447.6" cy="355.1" r="2.75"/><circle cx="448.6" cy="355.7" r="2.75"/><circle cx="449.7" cy="354.9" r="2.75"/><circle cx="450.7" cy="353.5" r="2.75"/><circle cx="451.8" cy="354.6" r="2.75"/><circle cx="452.8" cy="353.5" r="2.75"/><circle cx="453.9" cy="355.0" r="2.75"/><circle cx="454.9" cy="355.2" r="2.75"/><circle cx="456.0" cy="353.9" r="2.75"/><circle cx="457.0" cy="353.6" r="2.75"/><circle cx="458.1" cy="355.1" r="2.75"/><circle cx="459.1" cy="354.6" r="2.75"/><circle cx="460.2" cy="355.6" r="2.75"/><circle cx="461.2" cy="354.6" r="2.75"/><circle cx="462.3" cy="353.7" r="2.75"/><circle cx="463.3" cy="354.4" r="2.75"/><circle cx="464.4" cy="354.6" r="2.75"/><circle cx="465.4" cy="355.1" r="2.75"/><circle cx="466.5" cy="353.8" r="2.75"/><circle cx="467.5" cy="353.4" r="2.75"/><circle cx="468.6" cy="353.4" r="2.75"/><circle cx="469.6" cy="353.6" r="2.75"/><circle cx="470.7" cy="354.6" r="2.75"/><circle cx="471.7" cy="352.4" r="2.75"/><circle cx="472.8" cy="353.6" r="2.75"/><circle cx="473.8" cy="353.6" r="2.75"/><circle cx="474.9" cy="352.9" r="2.75"/><circle cx="475.9" cy="354.9" r="2.75"/><circle cx="477.0" cy="353.3" r="2.75"/><circle cx="478.0" cy="353.3" r="2.75"/><circle cx="479.0" cy="352.8" r="2.75"/><circle cx="480.1" cy="352.1" r="2.75"/><circle cx="481.1" cy="352.6" r="2.75"/><circle cx="482.2" cy="354.2" r="2.75"/><circle cx="483.2" cy="353.1" r="2.75"/><circle cx="484.3" cy="352.6" r="2.75"/><circle cx="485.3" cy="352.6" r="2.75"/><circle cx="486.4" cy="353.6" r="2.75"/><circle cx="487.4" cy="353.8" r="2.75"/><circle cx="488.5" cy="352.1" r="2.75"/><circle cx="489.5" cy="352.2" r="2.75"/><circle cx="490.6" cy="352.4" r="2.75"/><circle cx="491.6" cy="353.6" r="2.75"/><circle cx="492.7" cy="351.0" r="2.75"/><circle cx="493.7" cy="354.3" r="2.75"/><circle cx="494.8" cy="352.4" r="2.75"/><circle cx="495.8" cy="350.5" r="2.75"/><circle cx="496.9" cy="352.1" r="2.75"/><circle cx="497.9" cy="351.8" r="2.75"/><circle cx="499.0" cy="352.7" r="2.75"/><circle cx="500.0" cy="350.8" r="2.75"/><circle cx="501.1" cy="352.7" r="2.75"/><circle cx="502.1" cy="351.5" r="2.75"/><circle cx="503.2" cy="351.6" r="2.75"/><circle cx="504.2" cy="352.4" r="2.75"/><circle cx="505.3" cy="350.9" r="2.75"/><circle cx="506.3" cy="352.5" r="2.75"/><circle cx="507.4" cy="351.9" r="2.75"/><circle cx="508.4" cy="351.4" r="2.75"/><circle cx="509.5" cy="351.6" r="2.75"/><circle cx="510.5" cy="350.9" r="2.75"/><circle cx="511.6" cy="350.6" r="2.75"/><circle cx="512.6" cy="351.4" r="2.75"/><circle cx="513.7" cy="351.5" r="2.75"/><circle cx="514.7" cy="351.4" r="2.75"/><circle cx="515.8" cy="351.3" r="2.75"/><circle cx="516.8" cy="350.4" r="2.75"/><circle cx="517.9" cy="351.1" r="2.75"/><circle cx="518.9" cy="350.6" r="2.75"/><circle cx="520.0" cy="350.9" r="2.75"/><circle cx="521.0" cy="351.4" r="2.75"/><circle cx="522.1" cy="350.1" r="2.75"/><circle cx="523.1" cy="351.4" r="2.75"/><circle cx="524.2" cy="350.6" r="2.75"/><circle cx="525.2" cy="349.5" r="2.75"/><circle cx="526.3" cy="351.3" r="2.75"/><circle cx="527.3" cy="350.5" r="2.75"/><circle cx="528.4" cy="351.6" r="2.75"/><circle cx="529.4" cy="350.8" r="2.75"/><circle cx="530.5" cy="351.5" r="2.75"/><circle cx="531.5" cy="350.6" r="2.75"/><circle cx="532.6" cy="350.7" r="2.75"/><circle cx="533.6" cy="350.2" r="2.75"/><circle cx="534.7" cy="349.1" r="2.75"/><circle cx="535.7" cy="350.0" r="2.75"/><circle cx="536.8" cy="349.7" r="2.75"/><circle cx="537.8" cy="350.1" r="2.75"/><circle cx="538.9" cy="350.2" r="2.75"/><circle cx="539.9" cy="350.6" r="2.75"/><circle cx="541.0" cy="351.3" r="2.75"/><circle cx="542.0" cy="349.9" r="2.75"/><circle cx="543.1" cy="348.7" r="2.75"/><circle cx="544.1" cy="349.5" r="2.75"/><circle cx="545.2" cy="350.2" r="2.75"/><circle cx="546.2" cy="348.6" r="2.75"/><circle cx="547.3" cy="350.1" r="2.75"/><circle cx="548.3" cy="350.2" r="2.75"/><circle cx="549.4" cy="350.6" r="2.75"/><circle cx="550.4" cy="350.4" r="2.75"/><circle cx="551.5" cy="349.8" r="2.75"/><circle cx="552.5" cy="348.1" r="2.75"/><circle cx="553.6" cy="349.7" r="2.75"/><circle cx="554.6" cy="350.3" r="2.75"/><circle cx="555.7" cy="349.9" r="2.75"/><circle cx="556.7" cy="349.6" r="2.75"/><circle cx="557.8" cy="350.7" r="2.75"/><circle cx="558.8" cy="349.3" r="2.75"/><circle cx="559.9" cy="348.9" r="2.75"/><circle cx="560.9" cy="349.1" r="2.75"/><circle cx="562.0" cy="348.9" r="2.75"/><circle cx="563.0" cy="350.2" r="2.75"/><circle cx="564.1" cy="350.5" r="2.75"/><circle cx="565.1" cy="348.3" r="2.75"/><circle cx="566.2" cy="348.4" r="2.75"/><circle cx="567.2" cy="350.3" r="2.75"/><circle cx="568.3" cy="349.0" r="2.75"/><circle cx="569.3" cy="349.1" r="2.75"/><circle cx="570.4" cy="348.7" r="2.75"/><circle cx="571.4" cy="348.9" r="2.75"/><circle cx="572.5" cy="349.4" r="2.75"/><circle cx="573.5" cy="348.8" r="2.75"/><circle cx="574.6" cy="348.8" r="2.75"/><circle cx="575.6" cy="349.0" r="2.75"/><circle cx="576.7" cy="350.2" r="2.75"/><circle cx="577.7" cy="351.0" r="2.75"/><circle cx="578.8" cy="349.4" r="2.75"/><circle cx="579.8" cy="350.0" r="2.75"/><circle cx="580.9" cy="348.6" r="2.75"/></g><polyline points="372.0,366.3 376.3,365.4 380.5,364.6 384.8,363.9 389.0,363.2 393.3,362.5 397.6,361.8 401.8,361.1 406.1,360.5 410.4,359.9 414.6,359.4 418.9,358.8 423.1,358.3 427.4,357.8 431.7,357.3 435.9,356.8 440.2,356.4 444.5,356.0 448.7,355.6 453.0,355.2 457.2,354.8 461.5,354.4 465.8,354.1 470.0,353.8 474.3,353.5 478.6,353.2 482.8,352.9 487.1,352.6 491.3,352.3 495.6,352.1 499.9,351.8 504.1,351.6 508.4,351.4 512.7,351.2 516.9,351.0 521.2,350.8 525.4,350.6 529.7,350.4 534.0,350.2 538.2,350.1 542.5,349.9 546.8,349.8 551.0,349.6 555.3,349.5 559.5,349.4 563.8,349.2 568.1,349.1 572.3,349.0 576.6,348.9 580.9,348.8" fill="none" stroke="#7570b3" stroke-width="2.3" stroke-linejoin="round"/><polyline points="372.0,390.5 376.3,388.4 380.5,386.5 384.8,384.7 389.0,382.9 393.3,381.2 397.6,379.6 401.8,378.0 406.1,376.5 410.4,375.1 414.6,373.8 418.9,372.5 423.1,371.3 427.4,370.2 431.7,369.1 435.9,368.0 440.2,367.0 444.5,366.1 448.7,365.2 453.0,364.4 457.2,363.6 461.5,362.8 465.8,362.1 470.0,361.4 474.3,360.8 478.6,360.2 482.8,359.6 487.1,359.1 491.3,358.5 495.6,358.1 499.9,357.6 504.1,357.2 508.4,356.8 512.7,356.4 516.9,356.0 521.2,355.7 525.4,355.3 529.7,355.0 534.0,354.8 538.2,354.5 542.5,354.2 546.8,354.0 551.0,353.8 555.3,353.5 559.5,353.3 563.8,353.1 568.1,353.0 572.3,352.8 576.6,352.6 580.9,352.5" fill="none" stroke="#d95f02" stroke-width="2.3" stroke-linejoin="round"/><polyline points="372.0,440.3 376.3,436.6 380.5,432.9 384.8,429.2 389.0,425.5 393.3,421.9 397.6,418.2 401.8,414.5 406.1,410.9 410.4,407.4 414.6,404.0 418.9,400.5 423.1,396.8 427.4,392.8 431.7,388.9 435.9,385.1 440.2,381.4 444.5,377.9 448.7,374.4 453.0,371.1 457.2,367.8 461.5,364.7 465.8,361.7 470.0,358.9 474.3,356.3 478.6,353.9 482.8,351.7 487.1,349.6 491.3,347.5 495.6,345.5 499.9,343.7 504.1,342.1 508.4,340.7 512.7,339.4 516.9,338.3 521.2,337.3 525.4,336.5 529.7,335.8 534.0,335.2 538.2,334.8 542.5,334.6 546.8,334.5 551.0,334.4 555.3,334.4 559.5,334.4 563.8,334.4 568.1,334.4 572.3,334.4 576.6,334.4 580.9,334.4" fill="none" stroke="#1b9e77" stroke-width="2.3" stroke-linejoin="round"/><text transform="translate(462.45,534.80) scale(1.087,1)" font-size="13.00" font-family='"Liberation Serif", serif' font-style="italic" font-weight="normal" fill="#231f20" stroke="#231f20" stroke-width="0.2" >λ</text><text transform="translate(468.70,537.60) scale(1.008,1)" font-size="9.00" font-family='"Liberation Sans", sans-serif' font-style="normal" font-weight="normal" fill="#231f20" stroke="#231f20" stroke-width="0.2" >syntopic</text><text transform="translate(324.40,416.00) rotate(-90) scale(1.000,1)" font-size="13.00" font-family='"Liberation Serif", serif' font-style="italic" font-weight="normal" fill="#231f20" stroke="#231f20" stroke-width="0.2" >δ</text><rect x="619.8" y="481.9" width="4.9" height="21.400000000000034" fill="#1b9e77" /><text transform="translate(631.65,496.60) scale(1.062,1)" font-size="13.10" font-family='"Liberation Serif", serif' font-style="italic" font-weight="normal" fill="#231f20" stroke="#231f20" stroke-width="0.2" >λ</text><text transform="translate(638.00,499.70) scale(1.110,1)" font-size="8.30" font-family='"Liberation Sans", sans-serif' font-style="normal" font-weight="normal" fill="#231f20" stroke="#231f20" stroke-width="0.2" >rd</text><text transform="translate(650.00,496.60) scale(0.741,1)" font-size="12.00" font-family='"Liberation Sans", sans-serif' font-style="normal" font-weight="normal" fill="#231f20" stroke="#231f20" stroke-width="0.2" >=</text><text transform="translate(658.70,496.60) scale(1.059,1)" font-size="11.90" font-family='"Liberation Sans", sans-serif' font-style="normal" font-weight="normal" fill="#231f20" stroke="#231f20" stroke-width="0.2" >0.01</text><rect x="619.8" y="520.3" width="4.9" height="21.5" fill="#d95f02" /><text transform="translate(631.65,535.05) scale(1.062,1)" font-size="13.10" font-family='"Liberation Serif", serif' font-style="italic" font-weight="normal" fill="#231f20" stroke="#231f20" stroke-width="0.2" >λ</text><text transform="translate(638.00,538.15) scale(1.110,1)" font-size="8.30" font-family='"Liberation Sans", sans-serif' font-style="normal" font-weight="normal" fill="#231f20" stroke="#231f20" stroke-width="0.2" >rd</text><text transform="translate(650.00,535.05) scale(0.741,1)" font-size="12.00" font-family='"Liberation Sans", sans-serif' font-style="normal" font-weight="normal" fill="#231f20" stroke="#231f20" stroke-width="0.2" >=</text><text transform="translate(658.70,535.05) scale(1.059,1)" font-size="11.90" font-family='"Liberation Sans", sans-serif' font-style="normal" font-weight="normal" fill="#231f20" stroke="#231f20" stroke-width="0.2" >0.13</text><rect x="619.8" y="560.1" width="4.9" height="21.199999999999932" fill="#7570b3" /><text transform="translate(631.65,574.70) scale(1.062,1)" font-size="13.10" font-family='"Liberation Serif", serif' font-style="italic" font-weight="normal" fill="#231f20" stroke="#231f20" stroke-width="0.2" >λ</text><text transform="translate(638.00,577.80) scale(1.110,1)" font-size="8.30" font-family='"Liberation Sans", sans-serif' font-style="normal" font-weight="normal" fill="#231f20" stroke="#231f20" stroke-width="0.2" >rd</text><text transform="translate(650.00,574.70) scale(0.741,1)" font-size="12.00" font-family='"Liberation Sans", sans-serif' font-style="normal" font-weight="normal" fill="#231f20" stroke="#231f20" stroke-width="0.2" >=</text><text transform="translate(658.70,574.70) scale(1.059,1)" font-size="11.90" font-family='"Liberation Sans", sans-serif' font-style="normal" font-weight="normal" fill="#231f20" stroke="#231f20" stroke-width="0.2" >0.25</text><rect x="52.5" y="591" width="1.5" height="151.20000000000005" fill="#8a8a8a" /><rect x="52.5" y="741" width="228.5" height="1.2" fill="#8a8a8a" /><line x1="48.0" y1="741.5" x2="52.5" y2="741.5" stroke="#666" stroke-width="1"/><text transform="translate(38.46,745.10) scale(1.050,1)" font-size="10.20" font-family='"Liberation Sans", sans-serif' font-style="normal" font-weight="normal" fill="#231f20" stroke="#231f20" stroke-width="0.2" >0</text><line x1="48.0" y1="712.5" x2="52.5" y2="712.5" stroke="#666" stroke-width="1"/><text transform="translate(38.46,716.10) scale(1.050,1)" font-size="10.20" font-family='"Liberation Sans", sans-serif' font-style="normal" font-weight="normal" fill="#231f20" stroke="#231f20" stroke-width="0.2" >1</text><line x1="48.0" y1="683.5" x2="52.5" y2="683.5" stroke="#666" stroke-width="1"/><text transform="translate(38.46,687.10) scale(1.050,1)" font-size="10.20" font-family='"Liberation Sans", sans-serif' font-style="normal" font-weight="normal" fill="#231f20" stroke="#231f20" stroke-width="0.2" >2</text><line x1="48.0" y1="654.5" x2="52.5" y2="654.5" stroke="#666" stroke-width="1"/><text transform="translate(38.46,658.10) scale(1.050,1)" font-size="10.20" font-family='"Liberation Sans", sans-serif' font-style="normal" font-weight="normal" fill="#231f20" stroke="#231f20" stroke-width="0.2" >3</text><line x1="48.0" y1="625.5" x2="52.5" y2="625.5" stroke="#666" stroke-width="1"/><text transform="translate(38.46,629.10) scale(1.050,1)" font-size="10.20" font-family='"Liberation Sans", sans-serif' font-style="normal" font-weight="normal" fill="#231f20" stroke="#231f20" stroke-width="0.2" >4</text><line x1="48.0" y1="596.5" x2="52.5" y2="596.5" stroke="#666" stroke-width="1"/><text transform="translate(38.46,600.10) scale(1.050,1)" font-size="10.20" font-family='"Liberation Sans", sans-serif' font-style="normal" font-weight="normal" fill="#231f20" stroke="#231f20" stroke-width="0.2" >5</text><line x1="53.5" y1="742.2" x2="53.5" y2="746.5" stroke="#666" stroke-width="1"/><text transform="translate(50.40,759.60) scale(1.040,1)" font-size="10.40" font-family='"Liberation Sans", sans-serif' font-style="normal" font-weight="normal" fill="#231f20" stroke="#231f20" stroke-width="0.2" >0</text><line x1="100.5" y1="742.2" x2="100.5" y2="746.5" stroke="#666" stroke-width="1"/><text transform="translate(89.88,759.60) scale(1.040,1)" font-size="10.40" font-family='"Liberation Sans", sans-serif' font-style="normal" font-weight="normal" fill="#231f20" stroke="#231f20" stroke-width="0.2" >0.05</text><line x1="143.5" y1="742.2" x2="143.5" y2="746.5" stroke="#666" stroke-width="1"/><text transform="translate(132.88,759.60) scale(1.040,1)" font-size="10.40" font-family='"Liberation Sans", sans-serif' font-style="normal" font-weight="normal" fill="#231f20" stroke="#231f20" stroke-width="0.2" >0.10</text><line x1="187.5" y1="742.2" x2="187.5" y2="746.5" stroke="#666" stroke-width="1"/><text transform="translate(176.78,759.60) scale(1.040,1)" font-size="10.40" font-family='"Liberation Sans", sans-serif' font-style="normal" font-weight="normal" fill="#231f20" stroke="#231f20" stroke-width="0.2" >0.15</text><line x1="231.5" y1="742.2" x2="231.5" y2="746.5" stroke="#666" stroke-width="1"/><text transform="translate(220.98,759.60) scale(1.040,1)" font-size="10.40" font-family='"Liberation Sans", sans-serif' font-style="normal" font-weight="normal" fill="#231f20" stroke="#231f20" stroke-width="0.2" >0.20</text><line x1="274.5" y1="742.2" x2="274.5" y2="746.5" stroke="#666" stroke-width="1"/><text transform="translate(263.68,759.60) scale(1.040,1)" font-size="10.40" font-family='"Liberation Sans", sans-serif' font-style="normal" font-weight="normal" fill="#231f20" stroke="#231f20" stroke-width="0.2" >0.25</text><polyline points="53.5,647.2 56.5,647.8 59.5,648.5 62.6,649.2 65.6,650.1 68.6,651.0 71.6,652.0 74.7,653.1 77.7,654.2 80.7,655.4 83.7,656.7 86.8,658.0 89.8,659.4 92.8,660.8 95.8,662.3 98.9,663.8 101.9,665.4 104.9,667.0 107.9,668.6 111.0,670.2 114.0,671.9 117.0,673.6 120.0,675.3 123.1,677.0 126.1,678.7 129.1,680.4 132.1,682.1 135.2,683.8 138.2,685.5 141.2,687.2 144.2,688.8 147.3,690.5 150.3,692.1 153.3,693.7 156.3,695.2 159.4,696.7 162.4,698.2 165.4,699.7 168.4,701.1 171.5,702.4 174.5,703.8 177.5,705.1 180.5,706.4 183.6,707.6 186.6,708.8 189.6,710.0 192.6,711.1 195.7,712.2 198.7,713.2 201.7,714.3 204.7,715.3 207.8,716.2 210.8,717.1 213.8,718.0 216.8,718.9 219.9,719.7 222.9,720.5 225.9,721.3 228.9,722.0 232.0,722.7 235.0,723.3 238.0,724.0 241.0,724.6 244.1,725.1 247.1,725.6 250.1,726.1 253.1,726.6 256.2,727.0 259.2,727.4 262.2,727.8" fill="none" stroke="#1b9e77" stroke-width="2.4" stroke-linejoin="round" stroke-linecap="butt"/><polyline points="53.5,666.2 56.5,667.9 59.5,669.6 62.6,671.3 65.6,673.0 68.6,674.6 71.6,676.2 74.7,677.9 77.7,679.5 80.7,681.0 83.7,682.6 86.8,684.2 89.8,685.7 92.8,687.2 95.8,688.7 98.9,690.2 101.9,691.6 104.9,693.1 107.9,694.5 111.0,695.9 114.0,697.2 117.0,698.6 120.0,699.9 123.1,701.2 126.1,702.5 129.1,703.8 132.1,705.0 135.2,706.3 138.2,707.5 141.2,708.6 144.2,709.8 147.3,710.9 150.3,712.0 153.3,713.1 156.3,714.2 159.4,715.2 162.4,716.2 165.4,717.2 168.4,718.1 171.5,719.0 174.5,719.9 177.5,720.8 180.5,721.6 183.6,722.5 186.6,723.3 189.6,724.0 192.6,724.8 195.7,725.5 198.7,726.2 201.7,726.8 204.7,727.5 207.8,728.1 210.8,728.7 213.8,729.2 216.8,729.7 219.9,730.3 222.9,730.7 225.9,731.2 228.9,731.6 232.0,732.0 235.0,732.4 238.0,732.7 241.0,733.0 244.1,733.3 247.1,733.6 250.1,733.8 253.1,734.0 256.2,734.2 259.2,734.3 262.2,734.5" fill="none" stroke="#d95f02" stroke-width="2.4" stroke-linejoin="round" stroke-linecap="butt"/><polyline points="53.5,706.6 56.5,707.2 59.5,707.7 62.6,708.3 65.6,708.8 68.6,709.4 71.6,709.9 74.7,710.5 77.7,711.0 80.7,711.6 83.7,712.1 86.8,712.6 89.8,713.2 92.8,713.7 95.8,714.2 98.9,714.8 101.9,715.3 104.9,715.8 107.9,716.3 111.0,716.8 114.0,717.3 117.0,717.9 120.0,718.4 123.1,718.9 126.1,719.3 129.1,719.8 132.1,720.3 135.2,720.8 138.2,721.3 141.2,721.7 144.2,722.2 147.3,722.7 150.3,723.1 153.3,723.6 156.3,724.0 159.4,724.4 162.4,724.9 165.4,725.3 168.4,725.7 171.5,726.1 174.5,726.5 177.5,726.9 180.5,727.3 183.6,727.7 186.6,728.0 189.6,728.4 192.6,728.7 195.7,729.1 198.7,729.4 201.7,729.7 204.7,730.0 207.8,730.3 210.8,730.6 213.8,730.9 216.8,731.2 219.9,731.5 222.9,731.7 225.9,732.0 228.9,732.2 232.0,732.4 235.0,732.6 238.0,732.8 241.0,733.0 244.1,733.2 247.1,733.4 250.1,733.5 253.1,733.7 256.2,733.8 259.2,733.9 262.2,734.0" fill="none" stroke="#7570b3" stroke-width="2.4" stroke-linejoin="round" stroke-linecap="butt"/><rect x="370" y="591" width="1.3000000000000114" height="151.0" fill="#8a8a8a" /><rect x="370" y="740.8" width="229" height="1.2" fill="#8a8a8a" /><line x1="365.5" y1="740.5" x2="370" y2="740.5" stroke="#666" stroke-width="1"/><text transform="translate(355.16,744.10) scale(1.050,1)" font-size="10.20" font-family='"Liberation Sans", sans-serif' font-style="normal" font-weight="normal" fill="#231f20" stroke="#231f20" stroke-width="0.2" >0</text><line x1="365.5" y1="712.5" x2="370" y2="712.5" stroke="#666" stroke-width="1"/><text transform="translate(355.16,716.10) scale(1.050,1)" font-size="10.20" font-family='"Liberation Sans", sans-serif' font-style="normal" font-weight="normal" fill="#231f20" stroke="#231f20" stroke-width="0.2" >1</text><line x1="365.5" y1="683.5" x2="370" y2="683.5" stroke="#666" stroke-width="1"/><text transform="translate(355.16,687.10) scale(1.050,1)" font-size="10.20" font-family='"Liberation Sans", sans-serif' font-style="normal" font-weight="normal" fill="#231f20" stroke="#231f20" stroke-width="0.2" >2</text><line x1="365.5" y1="654.5" x2="370" y2="654.5" stroke="#666" stroke-width="1"/><text transform="translate(355.16,658.10) scale(1.050,1)" font-size="10.20" font-family='"Liberation Sans", sans-serif' font-style="normal" font-weight="normal" fill="#231f20" stroke="#231f20" stroke-width="0.2" >3</text><line x1="365.5" y1="626.5" x2="370" y2="626.5" stroke="#666" stroke-width="1"/><text transform="translate(355.16,630.10) scale(1.050,1)" font-size="10.20" font-family='"Liberation Sans", sans-serif' font-style="normal" font-weight="normal" fill="#231f20" stroke="#231f20" stroke-width="0.2" >4</text><line x1="365.5" y1="597.5" x2="370" y2="597.5" stroke="#666" stroke-width="1"/><text transform="translate(355.16,601.10) scale(1.050,1)" font-size="10.20" font-family='"Liberation Sans", sans-serif' font-style="normal" font-weight="normal" fill="#231f20" stroke="#231f20" stroke-width="0.2" >5</text><line x1="374.5" y1="742.0" x2="374.5" y2="746.3" stroke="#666" stroke-width="1"/><text transform="translate(371.80,759.60) scale(1.040,1)" font-size="10.40" font-family='"Liberation Sans", sans-serif' font-style="normal" font-weight="normal" fill="#231f20" stroke="#231f20" stroke-width="0.2" >0</text><line x1="417.5" y1="742.0" x2="417.5" y2="746.3" stroke="#666" stroke-width="1"/><text transform="translate(407.08,759.60) scale(1.040,1)" font-size="10.40" font-family='"Liberation Sans", sans-serif' font-style="normal" font-weight="normal" fill="#231f20" stroke="#231f20" stroke-width="0.2" >0.05</text><line x1="460.5" y1="742.0" x2="460.5" y2="746.3" stroke="#666" stroke-width="1"/><text transform="translate(449.78,759.60) scale(1.040,1)" font-size="10.40" font-family='"Liberation Sans", sans-serif' font-style="normal" font-weight="normal" fill="#231f20" stroke="#231f20" stroke-width="0.2" >0.10</text><line x1="503.5" y1="742.0" x2="503.5" y2="746.3" stroke="#666" stroke-width="1"/><text transform="translate(492.88,759.60) scale(1.040,1)" font-size="10.40" font-family='"Liberation Sans", sans-serif' font-style="normal" font-weight="normal" fill="#231f20" stroke="#231f20" stroke-width="0.2" >0.15</text><line x1="546.5" y1="742.0" x2="546.5" y2="746.3" stroke="#666" stroke-width="1"/><text transform="translate(535.98,759.60) scale(1.040,1)" font-size="10.40" font-family='"Liberation Sans", sans-serif' font-style="normal" font-weight="normal" fill="#231f20" stroke="#231f20" stroke-width="0.2" >0.20</text><line x1="589.5" y1="742.0" x2="589.5" y2="746.3" stroke="#666" stroke-width="1"/><text transform="translate(578.68,759.60) scale(1.040,1)" font-size="10.40" font-family='"Liberation Sans", sans-serif' font-style="normal" font-weight="normal" fill="#231f20" stroke="#231f20" stroke-width="0.2" >0.25</text><polyline points="371.2,603.7 374.2,602.8 377.2,602.1 380.2,601.7 383.2,601.4 386.2,601.4 389.2,601.6 392.1,601.9 395.1,602.4 398.1,603.1 401.1,604.0 404.1,605.0 407.1,606.1 410.1,607.4 413.1,608.9 416.1,610.4 419.1,612.1 422.1,613.9 425.1,615.7 428.1,617.7 431.1,619.8 434.0,621.9 437.0,624.1 440.0,626.4 443.0,628.7 446.0,631.1 449.0,633.5 452.0,636.0 455.0,638.4 458.0,640.9 461.0,643.4 464.0,645.9 467.0,648.4 470.0,650.8 473.0,653.3 475.9,655.7 478.9,658.2 481.9,660.6 484.9,663.0 487.9,665.3 490.9,667.6 493.9,670.0 496.9,672.2 499.9,674.5 502.9,676.7 505.9,678.9 508.9,681.0 511.9,683.1 514.9,685.2 517.8,687.2 520.8,689.1 523.8,691.0 526.8,692.9 529.8,694.7 532.8,696.5 535.8,698.2 538.8,699.8 541.8,701.4 544.8,702.9 547.8,704.3 550.8,705.7 553.8,707.0 556.8,708.3 559.7,709.4 562.7,710.5 565.7,711.5 568.7,712.4 571.7,713.3 574.7,714.0 577.7,714.7" fill="none" stroke="#1b9e77" stroke-width="2.4" stroke-linejoin="round" stroke-linecap="butt"/><polyline points="371.2,674.9 374.2,676.7 377.2,678.5 380.2,680.3 383.2,682.0 386.2,683.7 389.2,685.3 392.1,687.0 395.1,688.5 398.1,690.1 401.1,691.6 404.1,693.1 407.1,694.5 410.1,695.9 413.1,697.3 416.1,698.6 419.1,699.9 422.1,701.2 425.1,702.4 428.1,703.6 431.1,704.8 434.0,706.0 437.0,707.1 440.0,708.2 443.0,709.3 446.0,710.3 449.0,711.3 452.0,712.3 455.0,713.2 458.0,714.1 461.0,715.0 464.0,715.9 467.0,716.8 470.0,717.6 473.0,718.4 475.9,719.2 478.9,719.9 481.9,720.6 484.9,721.3 487.9,722.0 490.9,722.7 493.9,723.3 496.9,723.9 499.9,724.5 502.9,725.1 505.9,725.7 508.9,726.2 511.9,726.7 514.9,727.2 517.8,727.7 520.8,728.2 523.8,728.6 526.8,729.1 529.8,729.5 532.8,729.9 535.8,730.3 538.8,730.6 541.8,731.0 544.8,731.3 547.8,731.7 550.8,732.0 553.8,732.3 556.8,732.6 559.7,732.8 562.7,733.1 565.7,733.4 568.7,733.6 571.7,733.9 574.7,734.1 577.7,734.3" fill="none" stroke="#d95f02" stroke-width="2.4" stroke-linejoin="round" stroke-linecap="butt"/><polyline points="371.2,713.5 374.2,714.1 377.2,714.7 380.2,715.3 383.2,715.9 386.2,716.5 389.2,717.0 392.1,717.6 395.1,718.1 398.1,718.7 401.1,719.2 404.1,719.7 407.1,720.2 410.1,720.7 413.1,721.2 416.1,721.7 419.1,722.1 422.1,722.6 425.1,723.0 428.1,723.5 431.1,723.9 434.0,724.3 437.0,724.8 440.0,725.2 443.0,725.6 446.0,725.9 449.0,726.3 452.0,726.7 455.0,727.0 458.0,727.4 461.0,727.7 464.0,728.1 467.0,728.4 470.0,728.7 473.0,729.0 475.9,729.4 478.9,729.7 481.9,729.9 484.9,730.2 487.9,730.5 490.9,730.8 493.9,731.0 496.9,731.3 499.9,731.5 502.9,731.8 505.9,732.0 508.9,732.2 511.9,732.4 514.9,732.7 517.8,732.9 520.8,733.1 523.8,733.3 526.8,733.4 529.8,733.6 532.8,733.8 535.8,734.0 538.8,734.1 541.8,734.3 544.8,734.4 547.8,734.6 550.8,734.7 553.8,734.9 556.8,735.0 559.7,735.1 562.7,735.2 565.7,735.4 568.7,735.5 571.7,735.6 574.7,735.7 577.7,735.8" fill="none" stroke="#7570b3" stroke-width="2.4" stroke-linejoin="round" stroke-linecap="butt"/><text transform="translate(53.30,579.10) scale(1.005,1)" font-size="12.90" font-family='"Liberation Sans", sans-serif' font-style="normal" font-weight="normal" fill="#231f20" stroke="#231f20" stroke-width="0.2" >Gompertz derivative</text><text transform="translate(367.70,577.10) scale(1.005,1)" font-size="12.90" font-family='"Liberation Sans", sans-serif' font-style="normal" font-weight="normal" fill="#231f20" stroke="#231f20" stroke-width="0.2" >Gompertz derivative</text><text transform="translate(22.10,686.40) rotate(-90) scale(1.050,1)" font-size="12.90" font-family='"Liberation Sans", sans-serif' font-style="normal" font-weight="normal" fill="#231f20" stroke="#231f20" stroke-width="0.2" >d</text><text transform="translate(22.10,678.80) rotate(-90) scale(1.050,1)" font-size="12.90" font-family='"Liberation Serif", serif' font-style="italic" font-weight="normal" fill="#231f20" stroke="#231f20" stroke-width="0.2" >δ</text><text transform="translate(22.60,672.40) rotate(-90) scale(1.050,1)" font-size="12.90" font-family='"Liberation Sans", sans-serif' font-style="normal" font-weight="normal" fill="#231f20" stroke="#231f20" stroke-width="0.2" >/</text><text transform="translate(22.10,668.00) rotate(-90) scale(1.050,1)" font-size="12.90" font-family='"Liberation Sans", sans-serif' font-style="normal" font-weight="normal" fill="#231f20" stroke="#231f20" stroke-width="0.2" >d</text><text transform="translate(22.10,660.47) rotate(-90) scale(1.100,1)" font-size="12.90" font-family='"Liberation Serif", serif' font-style="italic" font-weight="normal" fill="#231f20" stroke="#231f20" stroke-width="0.2" >λ</text><text transform="translate(25.20,653.80) rotate(-90) scale(0.968,1)" font-size="9.20" font-family='"Liberation Sans", sans-serif' font-style="normal" font-weight="normal" fill="#231f20" stroke="#231f20" stroke-width="0.2" >syntopic</text><text transform="translate(340.10,687.90) rotate(-90) scale(1.050,1)" font-size="12.90" font-family='"Liberation Sans", sans-serif' font-style="normal" font-weight="normal" fill="#231f20" stroke="#231f20" stroke-width="0.2" >d</text><text transform="translate(340.10,680.30) rotate(-90) scale(1.050,1)" font-size="12.90" font-family='"Liberation Serif", serif' font-style="italic" font-weight="normal" fill="#231f20" stroke="#231f20" stroke-width="0.2" >δ</text><text transform="translate(340.60,673.90) rotate(-90) scale(1.050,1)" font-size="12.90" font-family='"Liberation Sans", sans-serif' font-style="normal" font-weight="normal" fill="#231f20" stroke="#231f20" stroke-width="0.2" >/</text><text transform="translate(340.10,669.50) rotate(-90) scale(1.050,1)" font-size="12.90" font-family='"Liberation Sans", sans-serif' font-style="normal" font-weight="normal" fill="#231f20" stroke="#231f20" stroke-width="0.2" >d</text><text transform="translate(340.10,660.87) rotate(-90) scale(1.100,1)" font-size="12.90" font-family='"Liberation Serif", serif' font-style="italic" font-weight="normal" fill="#231f20" stroke="#231f20" stroke-width="0.2" >λ</text><text transform="translate(343.00,654.20) rotate(-90) scale(0.986,1)" font-size="9.20" font-family='"Liberation Sans", sans-serif' font-style="normal" font-weight="normal" fill="#231f20" stroke="#231f20" stroke-width="0.2" >syntopic</text><text transform="translate(148.25,780.20) scale(1.095,1)" font-size="12.90" font-family='"Liberation Serif", serif' font-style="italic" font-weight="normal" fill="#231f20" stroke="#231f20" stroke-width="0.2" >λ</text><text transform="translate(154.50,782.60) scale(1.017,1)" font-size="9.00" font-family='"Liberation Sans", sans-serif' font-style="normal" font-weight="normal" fill="#231f20" stroke="#231f20" stroke-width="0.2" >syntopic</text><text transform="translate(465.85,778.80) scale(1.095,1)" font-size="12.90" font-family='"Liberation Serif", serif' font-style="italic" font-weight="normal" fill="#231f20" stroke="#231f20" stroke-width="0.2" >λ</text><text transform="translate(472.10,781.40) scale(1.023,1)" font-size="9.00" font-family='"Liberation Sans", sans-serif' font-style="normal" font-weight="normal" fill="#231f20" stroke="#231f20" stroke-width="0.2" >syntopic</text></svg></body></html>
